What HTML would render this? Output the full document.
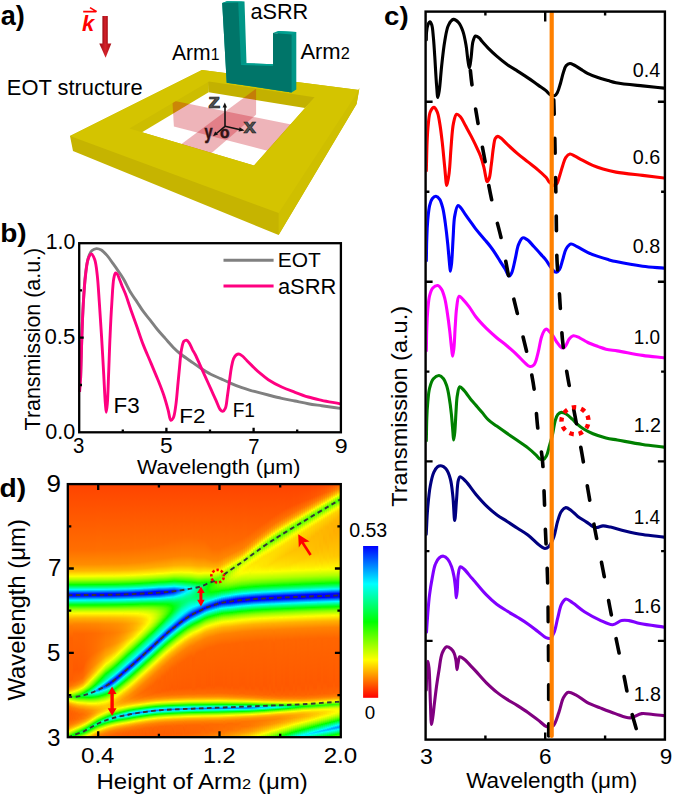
<!DOCTYPE html><html><head><meta charset="utf-8"><style>
html,body{margin:0;padding:0;background:#fff}
body{width:675px;height:796px;position:relative;overflow:hidden}
i{display:block;height:100%;flex:none}
svg{position:absolute;left:0;top:0}
text{font-family:'Liberation Sans',sans-serif}
</style></head><body><div style="position:absolute;left:68px;top:485px;width:273px;height:252px;display:flex"><i style="width:2px;background:linear-gradient(#ff4400 0px,#ff6e00 65px,#ff8d00 79.5px,#ffb800 86px,#fff300 90.5px,#f9ff00 91.5px,#a8ff00 95px,#33ff00 98.5px,#0bff00 99.5px,#00ff0a 100px,#00ffb9 103.5px,#00fff2 104.5px,#00efff 105px,#0004ff 109px,#0002ff 111px,#00efff 115px,#00fff1 115.5px,#00ff36 119px,#00ff07 120px,#38ff00 121.5px,#aeff00 125px,#f8ff00 128px,#ffe900 129.5px,#ffa600 134.5px,#ff7b00 141px,#ff6200 153px,#ff5d00 196px,#ff7300 201.5px,#ff9900 204.5px,#ffd400 207px,#fff600 208px,#f5ff00 208.5px,#73ff00 211.5px,#66ff00 212px,#faff00 215.5px,#ffaa00 218.5px,#ff7b00 221.5px,#ff6000 226px,#ff5e00 234.5px,#ff7900 240px,#ffac00 243.5px,#fdff00 246.5px,#8fff00 249px,#10ff00 251.5px,#0dff00 252px)"></i><i style="width:1px;background:linear-gradient(#ff4400 0px,#ff6e00 65px,#ff8d00 79.5px,#ffb800 86px,#fff300 90.5px,#f9ff00 91.5px,#a7ff00 95px,#33ff00 98.5px,#0bff00 99.5px,#00ff0b 100px,#00ffb9 103.5px,#00fff2 104.5px,#00efff 105px,#0004ff 109px,#0002ff 111px,#00efff 115px,#00fff1 115.5px,#00ff35 119px,#00ff07 120px,#38ff00 121.5px,#aeff00 125px,#f8ff00 128px,#ffe900 129.5px,#ffa600 134.5px,#ff7b00 141px,#ff6200 153px,#ff5e00 195.5px,#ff7500 201px,#ffa300 204.5px,#ffe300 207px,#f7ff00 208px,#5dff00 211.5px,#52ff00 212px,#ffff00 216px,#ffb400 218.5px,#ff8000 221.5px,#ff6200 226px,#ff5f00 234px,#ff7600 239px,#ffa500 242.5px,#ffe500 245px,#f6ff00 246px,#84ff00 248.5px,#04ff00 251px,#05ff00 251.5px,#1cff00 252px)"></i><i style="width:1px;background:linear-gradient(#ff4400 0px,#ff6e00 65px,#ff8d00 79.5px,#ffb800 86px,#fff300 90.5px,#f9ff00 91.5px,#a7ff00 95px,#33ff00 98.5px,#0bff00 99.5px,#00ff0b 100px,#00ffb9 103.5px,#00fff2 104.5px,#00efff 105px,#0004ff 109px,#0002ff 111px,#00f0ff 115px,#00fff1 115.5px,#00ff35 119px,#00ff07 120px,#38ff00 121.5px,#aeff00 125px,#f8ff00 128px,#ffe900 129.5px,#ffa600 134.5px,#ff7b00 141px,#ff6200 153px,#ff5e00 195px,#ff7400 200.5px,#ffa100 204px,#ffde00 206.5px,#feff00 207.5px,#7bff00 210.5px,#4fff00 211.5px,#46ff00 212px,#f6ff00 216px,#ffe500 217px,#ffa400 219.5px,#ff7500 223px,#ff5e00 228.5px,#ff6600 236px,#ff8500 240px,#ffba00 243px,#fff400 245px,#f8ff00 245.5px,#86ff00 248px,#02ff00 250.5px,#00ff06 251px,#10ff00 251.5px,#2aff00 252px)"></i><i style="width:1px;background:linear-gradient(#ff4400 0px,#ff6e00 65px,#ff8d00 79.5px,#ffb800 86px,#fff300 90.5px,#f9ff00 91.5px,#a7ff00 95px,#33ff00 98.5px,#0aff00 99.5px,#00ff0b 100px,#00ffba 103.5px,#00fff2 104.5px,#00eeff 105px,#0004ff 109px,#0002ff 111px,#00f0ff 115px,#00fff1 115.5px,#00ff35 119px,#00ff07 120px,#38ff00 121.5px,#afff00 125px,#f8ff00 128px,#ffe900 129.5px,#ffa600 134.5px,#ff7b00 141px,#ff6200 153px,#ff5d00 194px,#ff7400 200px,#ff9e00 203.5px,#ffd900 206px,#fff900 207px,#dfff00 208px,#40ff00 211.5px,#3aff00 212px,#edff00 216px,#ffff00 216.5px,#ffb500 219px,#ff8300 222px,#ff6400 226.5px,#ff6000 233.5px,#ff7a00 238.5px,#ffa300 241.5px,#ffe100 244px,#faff00 245px,#88ff00 247.5px,#01ff00 250px,#00ff10 250.5px,#03ff00 251px,#38ff00 252px)"></i><i style="width:1px;background:linear-gradient(#ff4400 0px,#ff6e00 65px,#ff8d00 79.5px,#ffb800 86px,#fff300 90.5px,#f9ff00 91.5px,#a7ff00 95px,#33ff00 98.5px,#0aff00 99.5px,#00ff0b 100px,#00ffba 103.5px,#00fff3 104.5px,#00eeff 105px,#0004ff 109px,#0003ff 111px,#00f0ff 115px,#00fff0 115.5px,#00ff35 119px,#00ff06 120px,#4cff00 122px,#bdff00 125.5px,#fffc00 128.5px,#ffb600 133px,#ff8400 139px,#ff6700 148.5px,#ff5a00 185px,#ff6400 196.5px,#ff8100 201px,#ffb000 204px,#fff400 206.5px,#f9ff00 207px,#75ff00 210px,#30ff00 211.5px,#2eff00 212px,#e4ff00 216px,#f7ff00 216.5px,#ffe500 217.5px,#ffa600 220px,#ff7700 223.5px,#ff6000 229px,#ff6800 235.5px,#ff8a00 239.5px,#ffc300 242.5px,#fdff00 244.5px,#8bff00 247px,#01ff00 249.5px,#00ff14 250px,#00ff09 250.5px,#10ff00 251px,#48ff00 252px)"></i><i style="width:1px;background:linear-gradient(#ff4400 0px,#ff6e00 65px,#ff8d00 79.5px,#ffb800 86px,#fff300 90.5px,#f9ff00 91.5px,#a7ff00 95px,#33ff00 98.5px,#0aff00 99.5px,#00ff0b 100px,#00ffba 103.5px,#00fff3 104.5px,#00eeff 105px,#0003ff 109px,#0003ff 111px,#00f0ff 115px,#00fff0 115.5px,#00ff35 119px,#00ff06 120px,#4cff00 122px,#bdff00 125.5px,#fffb00 128.5px,#ffb600 133px,#ff8400 139px,#ff6700 148.5px,#ff5a00 185px,#ff6600 196.5px,#ff8600 201px,#ffb800 204px,#feff00 206.5px,#96ff00 209px,#21ff00 211.5px,#23ff00 212px,#dcff00 216px,#fffd00 217px,#ffb600 219.5px,#ff8400 222.5px,#ff6500 227px,#ff6300 233.5px,#ff7d00 238px,#ffaa00 241px,#ffed00 243.5px,#ffff00 244px,#8eff00 246.5px,#01ff00 249px,#00ff16 249.5px,#00ff15 250px,#03ff00 250.5px,#58ff00 252px)"></i><i style="width:1px;background:linear-gradient(#ff4400 0px,#ff6e00 65px,#ff8d00 79.5px,#ffb800 86px,#fff300 90.5px,#f8ff00 91.5px,#a7ff00 95px,#32ff00 98.5px,#0aff00 99.5px,#00ff0c 100px,#00ffba 103.5px,#00fff3 104.5px,#00eeff 105px,#0003ff 109px,#0003ff 111px,#00f1ff 115px,#00fff0 115.5px,#00ff34 119px,#00ff06 120px,#5fff00 122.5px,#caff00 126px,#fffb00 128.5px,#ffb600 133px,#ff8400 139px,#ff6700 148.5px,#ff5a00 184.5px,#ff6600 196px,#ff8500 200.5px,#ffb600 203.5px,#fffa00 206px,#cbff00 207.5px,#11ff00 211.5px,#18ff00 212px,#d4ff00 216px,#faff00 217px,#ffb000 220px,#ff7d00 223.5px,#ff6300 228.5px,#ff6800 234.5px,#ff8800 238.5px,#ffbf00 241.5px,#fffd00 243.5px,#aaff00 245.5px,#02ff00 248.5px,#00ff17 249px,#00ff21 249.5px,#00ff0a 250px,#11ff00 250.5px,#68ff00 252px)"></i><i style="width:1px;background:linear-gradient(#ff4400 0px,#ff6e00 65px,#ff8d00 79.5px,#ffb800 86px,#fff300 90.5px,#f8ff00 91.5px,#a7ff00 95px,#32ff00 98.5px,#0aff00 99.5px,#00ff0c 100px,#00ffbb 103.5px,#00fff3 104.5px,#00edff 105px,#0003ff 109px,#0003ff 111px,#00f1ff 115px,#00ffef 115.5px,#00ff34 119px,#00ff06 120px,#81ff00 123.5px,#e3ff00 127px,#fffb00 128.5px,#ffb600 133px,#ff8400 139px,#ff6700 148.5px,#ff5a00 184.5px,#ff6700 195.5px,#ff8500 200px,#ffb400 203px,#fff600 205.5px,#f7ff00 206px,#8eff00 208.5px,#13ff00 211px,#01ff00 211.5px,#24ff00 212.5px,#ccff00 216px,#f3ff00 217px,#fff900 217.5px,#ffb500 220px,#ff8000 223.5px,#ff6500 228.5px,#ff6b00 234.5px,#ff8e00 238.5px,#ffbd00 241px,#fffa00 243px,#c5ff00 244.5px,#3eff00 247px,#03ff00 248px,#00ff2b 249px,#04ff00 250px,#79ff00 252px)"></i><i style="width:1px;background:linear-gradient(#ff4400 0px,#ff6e00 65px,#ff8d00 79.5px,#ffb800 86px,#fff400 90.5px,#f8ff00 91.5px,#a6ff00 95px,#32ff00 98.5px,#09ff00 99.5px,#00ff0c 100px,#00ffbb 103.5px,#00fff4 104.5px,#00edff 105px,#0002ff 109px,#0004ff 111px,#00f1ff 115px,#00ffef 115.5px,#00ff34 119px,#00ff06 120px,#91ff00 124px,#eeff00 127.5px,#fffb00 128.5px,#ffb600 133px,#ff8400 139px,#ff6700 148.5px,#ff5a00 184px,#ff6700 195px,#ff8500 199.5px,#ffbd00 203px,#fbff00 205.5px,#95ff00 208px,#01ff00 211px,#00ff0d 211.5px,#05ff00 212px,#c6ff00 216px,#ffff00 217.5px,#ffba00 220px,#ff8300 223.5px,#ff6700 228px,#ff6900 233.5px,#ff8600 237.5px,#ffbc00 240.5px,#fff800 242.5px,#deff00 243.5px,#5eff00 246px,#04ff00 247.5px,#00ff2f 248.5px,#00ff24 249px,#00ff09 249.5px,#32ff00 250.5px,#8aff00 252px)"></i><i style="width:1px;background:linear-gradient(#ff4400 0px,#ff6e00 65px,#ff8d00 79.5px,#ffb800 86px,#fff400 90.5px,#f8ff00 91.5px,#a6ff00 95px,#32ff00 98.5px,#09ff00 99.5px,#00ff23 100.5px,#00ffd7 104px,#00fff4 104.5px,#00edff 105px,#0002ff 109px,#0004ff 111px,#00f2ff 115px,#00ffef 115.5px,#00ff33 119px,#00ff05 120px,#92ff00 124px,#eeff00 127.5px,#fffb00 128.5px,#ffb600 133px,#ff8400 139px,#ff6600 149px,#ff5b00 186px,#ff6b00 195.5px,#ff9100 200px,#ffc800 203px,#fdff00 205px,#99ff00 207.5px,#04ff00 210.5px,#00ff12 211px,#00ff16 211.5px,#00ff02 212px,#c1ff00 216px,#faff00 217.5px,#ffa900 221px,#ff7c00 224.5px,#ff6600 229.5px,#ff7000 234.5px,#ff9300 238px,#ffc700 240.5px,#fff600 242px,#f5ff00 242.5px,#99ff00 244.5px,#06ff00 247px,#00ff31 248px,#00ff30 248.5px,#07ff00 249.5px,#9aff00 252px)"></i><i style="width:1px;background:linear-gradient(#ff4400 0px,#ff6e00 65px,#ff8d00 79.5px,#ffb800 86px,#fff400 90.5px,#f8ff00 91.5px,#a6ff00 95px,#31ff00 98.5px,#09ff00 99.5px,#00ff23 100.5px,#00ffd8 104px,#00fff5 104.5px,#00ecff 105px,#0002ff 109px,#0004ff 111px,#00f2ff 115px,#00ffee 115.5px,#00ff33 119px,#00ff05 120px,#92ff00 124px,#eeff00 127.5px,#fffb00 128.5px,#ffb600 133px,#ff8400 139px,#ff6600 149px,#ff5b00 185.5px,#ff6a00 194.5px,#ff8b00 199px,#ffbc00 202px,#ffff00 204.5px,#9dff00 207px,#06ff00 210px,#00ff25 211px,#00ff1d 211.5px,#00ff07 212px,#2cff00 213px,#beff00 216px,#f7ff00 217.5px,#ffe800 218.5px,#ffa400 221.5px,#ff7a00 225px,#ff6700 230px,#ff7700 235px,#ffa400 238.5px,#ffe300 241px,#f7ff00 242px,#9bff00 244px,#07ff00 246.5px,#00ff32 247.5px,#00ff3b 248px,#00ff05 249px,#abff00 252px)"></i><i style="width:1px;background:linear-gradient(#ff4400 0px,#ff6e00 65px,#ff8d00 79.5px,#ffb800 86px,#fff400 90.5px,#f8ff00 91.5px,#a6ff00 95px,#31ff00 98.5px,#09ff00 99.5px,#00ff24 100.5px,#00ffd8 104px,#00fff5 104.5px,#00ecff 105px,#0002ff 109px,#0005ff 111px,#00f2ff 115px,#00ffee 115.5px,#00ff33 119px,#00ff05 120px,#92ff00 124px,#eeff00 127.5px,#fffb00 128.5px,#ffb600 133px,#ff8400 139px,#ff6600 149px,#ff5b00 185px,#ff6b00 194px,#ff8c00 198.5px,#ffc800 202px,#ffff00 204px,#9eff00 206.5px,#08ff00 209.5px,#00ff28 210.5px,#00ff34 211px,#00ff0a 212px,#10ff00 212.5px,#a6ff00 215.5px,#f4ff00 217.5px,#fff900 218px,#ffaf00 221px,#ff8000 224.5px,#ff6900 229.5px,#ff7400 234px,#ff9a00 237.5px,#ffd200 240px,#f9ff00 241.5px,#9dff00 243.5px,#07ff00 246px,#00ff34 247px,#00ff45 247.5px,#00ff12 248.5px,#0dff00 249px,#a2ff00 251.5px,#bbff00 252px)"></i><i style="width:1px;background:linear-gradient(#ff4400 0px,#ff6e00 65px,#ff8d00 79.5px,#ffb800 86px,#fff400 90.5px,#f8ff00 91.5px,#a6ff00 95px,#31ff00 98.5px,#08ff00 99.5px,#00ff24 100.5px,#00ffd9 104px,#00fff5 104.5px,#00ebff 105px,#0001ff 109px,#0005ff 111px,#00f3ff 115px,#00ffee 115.5px,#00ff32 119px,#00ff04 120px,#92ff00 124px,#efff00 127.5px,#fffb00 128.5px,#ffb600 133px,#ff8400 139px,#ff6600 149px,#ff5b00 184px,#ff6b00 193.5px,#ff8e00 198px,#ffc900 201.5px,#ffff00 203.5px,#9fff00 206px,#09ff00 209px,#00ff2a 210px,#00ff3e 210.5px,#00ff3a 211px,#00ff0c 212px,#0fff00 212.5px,#a5ff00 215.5px,#f3ff00 217.5px,#fffb00 218px,#ffb100 221px,#ff8200 224.5px,#ff6b00 229px,#ff7400 233.5px,#ff9900 237px,#ffd100 239.5px,#faff00 241px,#9fff00 243px,#08ff00 245.5px,#00ff35 246.5px,#00ff4c 247px,#00ff3a 247.5px,#02ff00 248.5px,#9aff00 251px,#ccff00 252px)"></i><i style="width:1px;background:linear-gradient(#ff4400 0px,#ff6e00 65px,#ff8d00 79.5px,#ffb800 86px,#fff400 90.5px,#f8ff00 91.5px,#a5ff00 95px,#31ff00 98.5px,#08ff00 99.5px,#00ff24 100.5px,#00ffd9 104px,#00fff6 104.5px,#00cdff 105.5px,#0001ff 109px,#0005ff 111px,#00f3ff 115px,#00ffed 115.5px,#00ff32 119px,#00ff04 120px,#93ff00 124px,#efff00 127.5px,#fffb00 128.5px,#ffb500 133px,#ff8400 139px,#ff6600 149px,#ff5c00 183.5px,#ff6c00 193px,#ff8f00 197.5px,#ffca00 201px,#feff00 203px,#9fff00 205.5px,#09ff00 208.5px,#00ff2b 209.5px,#00ff50 210.5px,#00ff0c 212px,#0fff00 212.5px,#a4ff00 215.5px,#f2ff00 217.5px,#fffc00 218px,#ffb200 221px,#ff8300 224.5px,#ff6d00 229px,#ff7800 233.5px,#ffa200 237px,#ffe000 239.5px,#fbff00 240.5px,#a0ff00 242.5px,#08ff00 245px,#00ff37 246px,#00ff50 246.5px,#00ff45 247px,#00ff09 248px,#37ff00 249px,#c5ff00 251.5px,#dcff00 252px)"></i><i style="width:1px;background:linear-gradient(#ff4400 0px,#ff6e00 65px,#ff8d00 79.5px,#ffb800 86px,#fff400 90.5px,#f7ff00 91.5px,#a5ff00 95px,#30ff00 98.5px,#08ff00 99.5px,#00ff25 100.5px,#00ffd9 104px,#00fff6 104.5px,#00cdff 105.5px,#0000ff 109px,#0006ff 111px,#00f4ff 115px,#00ffed 115.5px,#00ff32 119px,#00ff04 120px,#93ff00 124px,#efff00 127.5px,#fffa00 128.5px,#ffb500 133px,#ff8400 139px,#ff6600 149px,#ff5d00 182px,#ff6e00 192px,#ff9500 197px,#ffd000 200.5px,#f9ff00 202.5px,#9cff00 205px,#05ff00 208px,#00ff5d 210px,#00ff58 210.5px,#00ff0e 212px,#0dff00 212.5px,#a3ff00 215.5px,#fffe00 218px,#ffb500 221px,#ff8500 224.5px,#ff6f00 229px,#ff7c00 233.5px,#ffa200 236.5px,#ffdf00 239px,#fcff00 240px,#a0ff00 242px,#08ff00 244.5px,#00ff38 245.5px,#00ff53 246px,#00ff4e 246.5px,#00ff13 247.5px,#0eff00 248px,#a6ff00 250.5px,#ecff00 252px)"></i><i style="width:1px;background:linear-gradient(#ff4400 0px,#ff6e00 65px,#ff8d00 79.5px,#ffb800 86px,#fff400 90.5px,#f7ff00 91.5px,#a5ff00 95px,#30ff00 98.5px,#07ff00 99.5px,#00ff25 100.5px,#00ffda 104px,#00fff7 104.5px,#00ccff 105.5px,#0000ff 109px,#0006ff 111px,#00f4ff 115px,#00ffec 115.5px,#00ff31 119px,#00ff03 120px,#93ff00 124px,#efff00 127.5px,#fffa00 128.5px,#ffb500 133px,#ff8400 139px,#ff6600 149px,#ff5f00 179.5px,#ff7000 190.5px,#ff9200 195.5px,#ffcf00 199.5px,#ffff00 201.5px,#aaff00 204px,#35ff00 206.5px,#00ff01 207.5px,#00ff69 209.5px,#00ff74 210px,#00ff12 212px,#0aff00 212.5px,#a0ff00 215.5px,#fcff00 218px,#ffaf00 221.5px,#ff8300 225px,#ff7200 229.5px,#ff8200 233.5px,#ffac00 236.5px,#ffef00 239px,#fcff00 239.5px,#a1ff00 241.5px,#07ff00 244px,#00ff55 245.5px,#00ff56 246px,#06ff00 247.5px,#a0ff00 250px,#fcff00 252px)"></i><i style="width:1px;background:linear-gradient(#ff4400 0px,#ff6e00 65px,#ff8d00 79.5px,#ffb900 86px,#fff500 90.5px,#f7ff00 91.5px,#a5ff00 95px,#30ff00 98.5px,#07ff00 99.5px,#00ff25 100.5px,#00ffda 104px,#00fff7 104.5px,#00ccff 105.5px,#0000ff 109px,#0007ff 111px,#00f5ff 115px,#00ffec 115.5px,#00ff31 119px,#00ff03 120px,#83ff00 123.5px,#e4ff00 127px,#fffa00 128.5px,#ffb500 133px,#ff8400 139px,#ff6800 148.5px,#ff6100 176px,#ff7200 189px,#ff9500 194.5px,#ffd000 198.5px,#fffc00 200.5px,#c7ff00 202.5px,#61ff00 205px,#14ff00 206.5px,#00ff08 207px,#00ff73 209px,#00ff87 209.5px,#00ff7e 210px,#00ff15 212px,#07ff00 212.5px,#9dff00 215.5px,#f9ff00 218px,#ffa900 222px,#ff7f00 226px,#ff7600 230.5px,#ff8d00 234px,#ffb700 236.5px,#fcff00 239px,#a0ff00 241px,#05ff00 243.5px,#00ff59 245px,#00ff5d 245.5px,#00ff01 247px,#9bff00 249.5px,#f9ff00 251.5px,#fff200 252px)"></i><i style="width:1px;background:linear-gradient(#ff4400 0px,#ff6e00 65px,#ff8d00 79.5px,#ffb900 86px,#fff500 90.5px,#f7ff00 91.5px,#a5ff00 95px,#2fff00 98.5px,#07ff00 99.5px,#00ff26 100.5px,#00ffdb 104px,#00fff8 104.5px,#00cbff 105.5px,#0000ff 109px,#0000ff 110.5px,#0007ff 111px,#00f5ff 115px,#00ffcf 116px,#00ff19 119.5px,#00ff03 120px,#83ff00 123.5px,#e4ff00 127px,#fffa00 128.5px,#ffb600 133px,#ff8500 139px,#ff6800 148.5px,#ff6200 174.5px,#ff7500 188px,#ff9800 193.5px,#ffd000 197.5px,#fffa00 199.5px,#ddff00 201px,#87ff00 203.5px,#0dff00 206px,#00ff0e 206.5px,#00ff94 209px,#00ff9a 209.5px,#00ff34 211.5px,#04ff00 212.5px,#9aff00 215.5px,#f7ff00 218px,#ffeb00 219px,#ffac00 222px,#ff8100 226px,#ff7a00 230.5px,#ff9500 234px,#ffc500 236.5px,#faff00 238.5px,#9dff00 240.5px,#01ff00 243px,#00ff5e 244.5px,#00ff63 245px,#00ff05 246.5px,#b3ff00 249.5px,#f8ff00 251px,#ffe200 252px)"></i><i style="width:1px;background:linear-gradient(#ff4400 0px,#ff6e00 65px,#ff8d00 79.5px,#ffb900 86px,#fff500 90.5px,#f7ff00 91.5px,#a4ff00 95px,#2fff00 98.5px,#06ff00 99.5px,#00ff3e 101px,#00fff8 104.5px,#00adff 106px,#0000ff 109px,#0000ff 110.5px,#0007ff 111px,#00f6ff 115px,#00ffce 116px,#00ff19 119.5px,#00ff02 120px,#84ff00 123.5px,#e4ff00 127px,#fffa00 128.5px,#ffb600 133px,#ff8500 139px,#ff6800 148.5px,#ff6400 173.5px,#ff7900 187px,#ff9b00 192.5px,#ffd200 196.5px,#f9ff00 199px,#a4ff00 202px,#3aff00 204.5px,#06ff00 205.5px,#00ff4e 207px,#00ff9f 208.5px,#00ffb2 209px,#00ff8b 210px,#03ff00 212.5px,#82ff00 215px,#e4ff00 217.5px,#fffb00 218.5px,#ffb700 221.5px,#ff8b00 225px,#ff7b00 229px,#ff8b00 232.5px,#ffbb00 235.5px,#fff500 237.5px,#f7ff00 238px,#98ff00 240px,#00ff06 242.5px,#00ff65 244px,#00ff67 244.5px,#00ff08 246px,#3cff00 247px,#b2ff00 249px,#f7ff00 250.5px,#ffe200 251.5px,#ffd300 252px)"></i><i style="width:1px;background:linear-gradient(#ff4400 0px,#ff6e00 65px,#ff8d00 79.5px,#ffb900 86px,#fff500 90.5px,#f7ff00 91.5px,#a4ff00 95px,#2fff00 98.5px,#06ff00 99.5px,#00ff3e 101px,#00fff9 104.5px,#00acff 106px,#0000ff 109px,#0000ff 110.5px,#0008ff 111px,#00f6ff 115px,#00ffce 116px,#00ff19 119.5px,#00ff02 120px,#84ff00 123.5px,#e4ff00 127px,#fffa00 128.5px,#ffb600 133px,#ff8500 139px,#ff6900 148.5px,#ff6600 172.5px,#ff7c00 186px,#ffa300 192px,#ffdc00 196px,#f9ff00 198px,#abff00 201px,#4aff00 203.5px,#00ff02 205px,#00ffaa 208px,#00ffc0 208.5px,#00ffbf 209px,#00ff54 211px,#02ff00 212.5px,#81ff00 215px,#e2ff00 217.5px,#fffd00 218.5px,#ffb900 221.5px,#ff8d00 225px,#ff7f00 229px,#ff9400 232.5px,#ffbe00 235px,#fff900 237px,#ddff00 238px,#76ff00 240px,#15ff00 241.5px,#00ff0d 242px,#00ff6d 243.5px,#00ff6a 244px,#00ff09 245.5px,#3bff00 246.5px,#b2ff00 248.5px,#f7ff00 250px,#ffe200 251px,#ffc400 252px)"></i><i style="width:1px;background:linear-gradient(#ff4400 0px,#ff6e00 65px,#ff8d00 79.5px,#ffb900 86px,#fff500 90.5px,#f6ff00 91.5px,#a4ff00 95px,#2eff00 98.5px,#05ff00 99.5px,#00ff3e 101px,#00fff9 104.5px,#008dff 106.5px,#0000ff 109px,#0000ff 110.5px,#0008ff 111px,#00f7ff 115px,#00ffcd 116px,#00ff18 119.5px,#00ff02 120px,#84ff00 123.5px,#e4ff00 127px,#fffa00 128.5px,#ffb600 133px,#ff8500 139px,#ff6900 148.5px,#ff6700 171.5px,#ff7f00 185px,#ffa500 191px,#ffdd00 195px,#fffb00 196.5px,#aeff00 200px,#57ff00 202.5px,#10ff00 204px,#00ff0b 204.5px,#00ffcd 208px,#00ffd9 208.5px,#00ff8e 210px,#03ff00 212.5px,#81ff00 215px,#e1ff00 217.5px,#ffff00 218.5px,#ffbb00 221.5px,#ff9000 225px,#ff8400 229px,#ff9700 232px,#ffc200 234.5px,#fffd00 236.5px,#a7ff00 238.5px,#2eff00 240.5px,#0cff00 241px,#00ff17 241.5px,#00ff75 243px,#00ff6c 243.5px,#00ff09 245px,#3cff00 246px,#b4ff00 248px,#f8ff00 249.5px,#ffc300 251.5px,#ffb700 252px)"></i><i style="width:1px;background:linear-gradient(#ff4400 0px,#ff6e00 65px,#ff8e00 79.5px,#ffb900 86px,#fff500 90.5px,#f6ff00 91.5px,#a3ff00 95px,#2eff00 98.5px,#05ff00 99.5px,#00ff3f 101px,#00fffa 104.5px,#0017ff 108.5px,#0000ff 109px,#0000ff 110.5px,#0009ff 111px,#00f7ff 115px,#00ffcd 116px,#00ff18 119.5px,#00ff01 120px,#84ff00 123.5px,#e4ff00 127px,#fffa00 128.5px,#ffb600 133px,#ff8500 139px,#ff6a00 148.5px,#ff6900 170.5px,#ff7f00 183.5px,#ffa300 189.5px,#ffd600 193.5px,#fffc00 195.5px,#a1ff00 199.5px,#4cff00 202px,#06ff00 203.5px,#00ff30 204.5px,#00ffdb 207.5px,#00ffee 208px,#00ffc6 209px,#00ff17 212px,#05ff00 212.5px,#82ff00 215px,#e1ff00 217.5px,#ffff00 218.5px,#ffbd00 221.5px,#ff9300 225px,#ff8800 228.5px,#ff9a00 231.5px,#ffc600 234px,#fbff00 236px,#a0ff00 238px,#25ff00 240px,#03ff00 240.5px,#00ff64 242px,#00ff7e 242.5px,#00ff6d 243px,#00ff08 244.5px,#3eff00 245.5px,#b5ff00 247.5px,#faff00 249px,#ffaa00 252px)"></i><i style="width:1px;background:linear-gradient(#ff4400 0px,#ff6e00 65px,#ff8e00 79.5px,#ffb900 86px,#fff600 90.5px,#f6ff00 91.5px,#a3ff00 95px,#2eff00 98.5px,#05ff00 99.5px,#00ff58 101.5px,#00fffa 104.5px,#0017ff 108.5px,#0000ff 109px,#0000ff 110.5px,#0009ff 111px,#00f8ff 115px,#00ffb0 116.5px,#00ff18 119.5px,#00ff01 120px,#84ff00 123.5px,#e5ff00 127px,#fffa00 128.5px,#ffb600 133px,#ff8600 139px,#ff6a00 148.5px,#ff6a00 169.5px,#ff8200 182.5px,#ffab00 189px,#ffe000 193px,#fffd00 194.5px,#85ff00 199.5px,#2bff00 202px,#00ff05 203px,#00ffe8 207px,#00fffe 207.5px,#00fff9 208px,#00ff8b 210px,#00ff14 212px,#08ff00 212.5px,#83ff00 215px,#e1ff00 217.5px,#feff00 218.5px,#ffb600 222px,#ff9200 225.5px,#ff8f00 229px,#ffac00 232px,#ffe600 234.5px,#f6ff00 235.5px,#99ff00 237.5px,#1bff00 239.5px,#00ff08 240px,#00ff6f 241.5px,#00ff86 242px,#00ff4d 243px,#00ff06 244px,#9cff00 246.5px,#fcff00 248.5px,#ffb400 251px,#ff9f00 252px)"></i><i style="width:1px;background:linear-gradient(#ff4400 0px,#ff6e00 65px,#ff8e00 79.5px,#ffb900 86px,#fff600 90.5px,#f6ff00 91.5px,#a3ff00 95px,#2dff00 98.5px,#04ff00 99.5px,#00ff58 101.5px,#00fffb 104.5px,#0016ff 108.5px,#0000ff 109px,#0000ff 110.5px,#000aff 111px,#00f8ff 115px,#00ffb0 116.5px,#00ff17 119.5px,#00ff01 120px,#85ff00 123.5px,#e5ff00 127px,#fffa00 128.5px,#ffb600 133px,#ff8600 139px,#ff6b00 148.5px,#ff6c00 169px,#ff8600 182px,#ffad00 188px,#ffeb00 192.5px,#fffe00 193.5px,#77ff00 199px,#1eff00 201.5px,#07ff00 202px,#00ff2c 203px,#00fff7 206.5px,#00f0ff 207px,#00ecff 207.5px,#00fffb 208px,#00ff10 212px,#0cff00 212.5px,#85ff00 215px,#e1ff00 217.5px,#feff00 218.5px,#ffb800 222px,#ff9500 225.5px,#ff9600 229px,#ffb900 232px,#fffc00 234.5px,#c4ff00 236px,#55ff00 238px,#11ff00 239px,#00ff12 239.5px,#00ff79 241px,#00ff89 241.5px,#00ff4c 242.5px,#00ff04 243.5px,#9fff00 246px,#fdff00 248px,#ffb300 250.5px,#ff9500 252px)"></i><i style="width:1px;background:linear-gradient(#ff4400 0px,#ff6e00 65px,#ff8e00 79.5px,#ffb900 86px,#fff600 90.5px,#f6ff00 91.5px,#a3ff00 95px,#2dff00 98.5px,#04ff00 99.5px,#00ff72 102px,#00fffc 104.5px,#0016ff 108.5px,#0000ff 109px,#0000ff 110.5px,#000aff 111px,#00f9ff 115px,#00ff94 117px,#00ff00 120px,#85ff00 123.5px,#e5ff00 127px,#fffa00 128.5px,#ffb600 133px,#ff8600 139px,#ff6b00 148.5px,#ff6d00 168.5px,#ff8900 181px,#ffb500 187.5px,#ffec00 191.5px,#feff00 192.5px,#5aff00 199px,#00ff06 201.5px,#00ff8f 204px,#00ffe9 205.5px,#00f9ff 206px,#00e0ff 206.5px,#00d5ff 207px,#00fffa 208px,#00ff0a 212px,#11ff00 212.5px,#88ff00 215px,#f1ff00 218px,#feff00 218.5px,#ffb900 222px,#ff9900 225.5px,#ff9d00 229px,#ffbd00 231.5px,#fdff00 234px,#a4ff00 236px,#2aff00 238px,#07ff00 238.5px,#00ff64 240px,#00ff83 240.5px,#00ff8b 241px,#00ff27 242.5px,#00ff03 243px,#a0ff00 245.5px,#ffff00 247.5px,#ffb200 250px,#ff8d00 252px)"></i><i style="width:1px;background:linear-gradient(#ff4400 0px,#ff6e00 65px,#ff8e00 79.5px,#ffb900 86px,#fff600 90.5px,#f5ff00 91.5px,#a2ff00 95px,#2cff00 98.5px,#03ff00 99.5px,#00ff72 102px,#00fffc 104.5px,#0015ff 108.5px,#0000ff 109px,#0000ff 110.5px,#000bff 111px,#00f9ff 115px,#00ff46 118.5px,#00ff00 120px,#85ff00 123.5px,#e5ff00 127px,#fffa00 128.5px,#ffb600 133px,#ff8600 139px,#ff6c00 148.5px,#ff6f00 167.5px,#ff8b00 180px,#ffb700 186.5px,#fff700 191px,#f2ff00 192px,#3bff00 199px,#02ff00 200.5px,#00ff62 202.5px,#00fff8 205px,#00beff 206.5px,#00ecff 207.5px,#00fff5 208px,#00ff04 212px,#8bff00 215px,#f1ff00 218px,#ffff00 218.5px,#ffc200 221.5px,#ff9f00 225px,#ff9e00 228px,#ffb900 230.5px,#fff500 233px,#f7ff00 233.5px,#9dff00 235.5px,#00ff02 238px,#00ff8c 240px,#00ff8e 240.5px,#00ff02 242.5px,#a2ff00 245px,#fffe00 247px,#ffb100 249.5px,#ff8600 252px)"></i><i style="width:1px;background:linear-gradient(#ff4400 0px,#ff6e00 65px,#ff8e00 79.5px,#ffba00 86px,#fff600 90.5px,#f5ff00 91.5px,#a2ff00 95px,#2cff00 98.5px,#03ff00 99.5px,#00ff73 102px,#00fffd 104.5px,#0014ff 108.5px,#0000ff 109px,#0000ff 110.5px,#000bff 111px,#00faff 115px,#00ff2d 119px,#00ff00 120px,#85ff00 123.5px,#e5ff00 127px,#fffa00 128.5px,#ffb600 133px,#ff8600 139px,#ff6c00 148.5px,#ff7000 167px,#ff8d00 179px,#ffba00 185.5px,#fbff00 190.5px,#8cff00 195px,#1aff00 199px,#07ff00 199.5px,#00ff23 200.5px,#00ffac 203px,#00ffea 204px,#00f6ff 204.5px,#00beff 205.5px,#00aaff 206px,#00d4ff 207px,#00f1ff 207.5px,#00ffee 208px,#00ff19 211.5px,#02ff00 212px,#7aff00 214.5px,#e5ff00 217.5px,#fffe00 218.5px,#ffc300 221.5px,#ffa200 225px,#ffa600 228px,#ffc600 230.5px,#fffa00 232.5px,#dfff00 233.5px,#7bff00 235.5px,#19ff00 237px,#00ff0b 237.5px,#00ff95 239.5px,#00ff91 240px,#00ff02 242px,#a2ff00 244.5px,#fffd00 246.5px,#ffb100 249px,#ff7f00 252px)"></i><i style="width:1px;background:linear-gradient(#ff4400 0px,#ff6f00 65px,#ff8e00 79.5px,#ffba00 86px,#ffff00 91px,#a2ff00 95px,#2bff00 98.5px,#02ff00 99.5px,#00ff8e 102.5px,#00fffd 104.5px,#0014ff 108.5px,#0000ff 109px,#0000ff 110.5px,#000cff 111px,#00faff 115px,#00ff2d 119px,#01ff00 120px,#86ff00 123.5px,#e5ff00 127px,#fffa00 128.5px,#ffb600 133px,#ff8700 139px,#ff6d00 148.5px,#ff7200 166.5px,#ff9200 178.5px,#ffc200 185px,#faff00 189.5px,#98ff00 193.5px,#09ff00 198.5px,#00ff09 199px,#00ff65 201px,#00fffa 203.5px,#0098ff 205.5px,#00a4ff 206px,#00f9ff 207.5px,#00ff87 209.5px,#00ff11 211.5px,#0aff00 212px,#7fff00 214.5px,#e7ff00 217.5px,#fffd00 218.5px,#ffc400 221.5px,#ffa600 225px,#ffae00 228px,#ffd500 230.5px,#fffe00 232px,#acff00 234px,#35ff00 236px,#12ff00 236.5px,#00ff12 237px,#00ff9c 239px,#00ff95 239.5px,#00ff04 241.5px,#a1ff00 244px,#fffe00 246px,#ffb100 248.5px,#ff7f00 251.5px,#ff7a00 252px)"></i><i style="width:1px;background:linear-gradient(#ff4400 0px,#ff6f00 65px,#ff8e00 79.5px,#ffba00 86px,#feff00 91px,#a1ff00 95px,#2bff00 98.5px,#02ff00 99.5px,#00ff8e 102.5px,#00fffe 104.5px,#0013ff 108.5px,#0000ff 109px,#0000ff 110.5px,#000cff 111px,#00fbff 115px,#00ff2c 119px,#01ff00 120px,#86ff00 123.5px,#e5ff00 127px,#fffa00 128.5px,#ffb600 133px,#ff8700 139px,#ff6e00 148.5px,#ff7400 166px,#ff9400 177.5px,#ffc400 184px,#fffd00 188px,#c0ff00 191px,#09ff00 197.5px,#00ff08 198px,#00ff5c 200px,#00ffec 202.5px,#00f3ff 203px,#009bff 204.5px,#0085ff 205px,#008eff 205.5px,#00fffc 207.5px,#00ff24 211px,#00ff09 211.5px,#2bff00 212.5px,#98ff00 215px,#f6ff00 218px,#fff000 219px,#ffb900 222.5px,#ffaa00 225.5px,#ffb700 228px,#ffe400 230.5px,#fcff00 231.5px,#a8ff00 233.5px,#31ff00 235.5px,#0eff00 236px,#00ff17 236.5px,#00ff85 238px,#00ffa3 238.5px,#00ff9a 239px,#00ff08 241px,#41ff00 242px,#baff00 244px,#ffff00 245.5px,#ffb200 248px,#ff8000 251px,#ff7600 252px)"></i><i style="width:1px;background:linear-gradient(#ff4400 0px,#ff6f00 65px,#ff8e00 79.5px,#ffba00 86px,#feff00 91px,#a1ff00 95px,#2bff00 98.5px,#01ff00 99.5px,#00ff8f 102.5px,#00ffff 104.5px,#0013ff 108.5px,#0000ff 109px,#0000ff 110.5px,#000dff 111px,#00fbff 115px,#00ff2c 119px,#02ff00 120px,#86ff00 123.5px,#e5ff00 127px,#fffa00 128.5px,#ffb600 133px,#ff8700 139px,#ff6e00 148.5px,#ff7600 165.5px,#ff9600 176.5px,#ffc600 183px,#fffe00 187px,#b2ff00 190.5px,#07ff00 196.5px,#00ff18 197.5px,#00ff6b 199.5px,#00fffb 202px,#008bff 204px,#0075ff 204.5px,#007cff 205px,#00f0ff 207px,#00ffee 207.5px,#00ff19 211px,#02ff00 211.5px,#77ff00 214px,#deff00 217px,#fffa00 218.5px,#ffc500 221.5px,#ffaf00 224.5px,#ffba00 227.5px,#ffe600 230px,#faff00 231px,#a6ff00 233px,#2eff00 235px,#0bff00 235.5px,#00ff19 236px,#00ffa7 238px,#00ffa2 238.5px,#00ff0e 240.5px,#17ff00 241px,#9bff00 243px,#fcff00 245px,#ffb300 247.5px,#ff8000 250.5px,#ff7200 252px)"></i><i style="width:1px;background:linear-gradient(#ff4400 0px,#ff6f00 65px,#ff8e00 79.5px,#ffba00 86px,#feff00 91px,#a1ff00 95px,#2aff00 98.5px,#01ff00 99.5px,#00ff90 102.5px,#00feff 104.5px,#0012ff 108.5px,#0000ff 109px,#0000ff 110.5px,#000dff 111px,#00fcff 115px,#00ff2c 119px,#02ff00 120px,#86ff00 123.5px,#e5ff00 127px,#fffa00 128.5px,#ffb700 133px,#ff8800 139px,#ff6f00 148.5px,#ff7700 165px,#ff9a00 176px,#ffce00 182.5px,#feff00 186px,#b2ff00 189.5px,#06ff00 195.5px,#00ff16 196.5px,#00ff60 198.5px,#00ffca 200.5px,#00f7ff 201.5px,#0080ff 203.5px,#006aff 204px,#0071ff 204.5px,#00fffa 207px,#00ff25 210.5px,#00ff0a 211px,#10ff00 211.5px,#80ff00 214px,#e3ff00 217px,#fdff00 218px,#ffc500 221.5px,#ffb200 224.5px,#ffbc00 227px,#ffe800 229.5px,#f9ff00 230.5px,#a6ff00 232.5px,#2fff00 234.5px,#0bff00 235px,#00ff19 235.5px,#00ffa9 237.5px,#00ffab 238px,#00ff18 240px,#0eff00 240.5px,#95ff00 242.5px,#f8ff00 244.5px,#ffd100 246px,#ff9700 248.5px,#ff6f00 252px)"></i><i style="width:1px;background:linear-gradient(#ff4400 0px,#ff6f00 65px,#ff8e00 79.5px,#ffba00 86px,#feff00 91px,#a0ff00 95px,#2aff00 98.5px,#00ff00 99.5px,#00ff90 102.5px,#00feff 104.5px,#0011ff 108.5px,#0000ff 109px,#0000ff 110.5px,#000eff 111px,#00fdff 115px,#00ff2b 119px,#02ff00 120px,#87ff00 123.5px,#e5ff00 127px,#fffa00 128.5px,#ffb700 133px,#ff8800 139px,#ff7000 148.5px,#ff7900 164.5px,#ff9c00 175px,#ffcf00 181.5px,#fdff00 185px,#b2ff00 188.5px,#04ff00 194.5px,#00ff34 196.5px,#00ff85 198.5px,#00fff4 200.5px,#00ebff 201px,#0075ff 203px,#005fff 203.5px,#0066ff 204px,#00d8ff 206px,#00f8ff 206.5px,#00ffa7 208px,#00ff16 210.5px,#04ff00 211px,#89ff00 214px,#e9ff00 217px,#fffd00 218px,#ffca00 221px,#ffb500 224px,#ffbe00 226.5px,#ffe800 229px,#f9ff00 230px,#a7ff00 232px,#30ff00 234px,#0dff00 234.5px,#00ff18 235px,#00ffab 237px,#00ffb5 237.5px,#00ff4a 239px,#04ff00 240px,#8dff00 242px,#f3ff00 244px,#fff700 244.5px,#ffad00 247px,#ff7d00 250px,#ff6d00 252px)"></i><i style="width:1px;background:linear-gradient(#ff4400 0px,#ff6f00 65px,#ff8e00 79.5px,#ffba00 86px,#fdff00 91px,#a0ff00 95px,#29ff00 98.5px,#00ff00 99.5px,#00ff91 102.5px,#00fdff 104.5px,#0011ff 108.5px,#0000ff 109px,#0000ff 110.5px,#000eff 111px,#00fdff 115px,#00ff43 118.5px,#03ff00 120px,#87ff00 123.5px,#e5ff00 127px,#fffa00 128.5px,#ffb700 133px,#ff8900 139px,#ff7100 148.5px,#ff7b00 164px,#ffa000 174.5px,#ffd100 180.5px,#fcff00 184px,#a5ff00 188px,#01ff00 193.5px,#00ff53 196.5px,#00ffab 198.5px,#00fdff 200px,#0069ff 202.5px,#0053ff 203px,#005bff 203.5px,#00cdff 205.5px,#00edff 206px,#00fff1 206.5px,#00ff21 210px,#00ff06 210.5px,#58ff00 212.5px,#c5ff00 215.5px,#f9ff00 217.5px,#ffc400 221.5px,#ffb900 224.5px,#ffcc00 227px,#f9ff00 229.5px,#a8ff00 231.5px,#32ff00 233.5px,#0fff00 234px,#00ff16 234.5px,#00ffab 236.5px,#00ffbf 237px,#00ff7d 238px,#00ff06 239.5px,#85ff00 241.5px,#eeff00 243.5px,#fffc00 244px,#ffaf00 246.5px,#ff7e00 249.5px,#ff6b00 252px)"></i><i style="width:1px;background:linear-gradient(#ff4400 0px,#ff6e00 64.5px,#ff8c00 79px,#ffb600 85.5px,#ffef00 90px,#fdff00 91px,#a0ff00 95px,#29ff00 98.5px,#00ff01 99.5px,#00ff92 102.5px,#00fcff 104.5px,#0010ff 108.5px,#0000ff 109px,#0000ff 110.5px,#000fff 111px,#00feff 115px,#00ff42 118.5px,#03ff00 120px,#87ff00 123.5px,#e5ff00 127px,#fffa00 128.5px,#ffb700 133px,#ff8900 139px,#ff7200 148.5px,#ff7d00 163.5px,#ffa200 173.5px,#ffd900 180px,#faff00 183px,#a5ff00 187px,#00ff02 192.5px,#00ff62 196px,#00ffb9 198px,#00fff1 199px,#00f0ff 199.5px,#005dff 202px,#0047ff 202.5px,#0051ff 203px,#00c3ff 205px,#00fffb 206px,#00ff2b 209.5px,#09ff00 210.5px,#8aff00 213.5px,#e6ff00 216.5px,#feff00 217.5px,#ffc900 221px,#ffbb00 224px,#ffcd00 226.5px,#faff00 229px,#aaff00 231px,#35ff00 233px,#12ff00 233.5px,#00ff13 234px,#00ffaa 236px,#00ffc6 236.5px,#00ffae 237px,#00ff12 239px,#14ff00 239.5px,#9bff00 241.5px,#fdff00 243.5px,#ffb200 246px,#ff8000 249px,#ff6900 252px)"></i><i style="width:1px;background:linear-gradient(#ff4400 0px,#ff6e00 64.5px,#ff8c00 79px,#ffb600 85.5px,#ffef00 90px,#fdff00 91px,#9fff00 95px,#28ff00 98.5px,#00ff01 99.5px,#00ff92 102.5px,#00fcff 104.5px,#000fff 108.5px,#0000ff 109px,#0000ff 110.5px,#0010ff 111px,#00ffff 115px,#00ff42 118.5px,#03ff00 120px,#87ff00 123.5px,#e6ff00 127px,#fffa00 128.5px,#ffb700 133px,#ff8a00 139px,#ff7300 148.5px,#ff7f00 163px,#ffa600 173px,#ffdb00 179px,#fffd00 181.5px,#bdff00 185px,#5bff00 188.5px,#09ff00 191px,#00ff13 192px,#00ff71 195.5px,#00ffc8 197.5px,#00ffff 198.5px,#0050ff 201.5px,#003bff 202px,#0048ff 202.5px,#00baff 204.5px,#00f9ff 205.5px,#00ff1a 209.5px,#00ff01 210px,#81ff00 213px,#dfff00 216px,#fffc00 217.5px,#ffc900 221px,#ffbf00 224px,#ffd600 226.5px,#faff00 228.5px,#acff00 230.5px,#38ff00 232.5px,#16ff00 233px,#00ff0f 233.5px,#00ffa9 235.5px,#00ffc7 236px,#00ffbb 236.5px,#00ff1f 238.5px,#08ff00 239px,#92ff00 241px,#f7ff00 243px,#ffe100 244px,#ffa000 246.5px,#ff7300 250px,#ff6700 252px)"></i><i style="width:1px;background:linear-gradient(#ff4400 0px,#ff6e00 64.5px,#ff8c00 79px,#ffb600 85.5px,#fff000 90px,#fdff00 91px,#adff00 94.5px,#3bff00 98px,#00ff02 99.5px,#00ff93 102.5px,#00fbff 104.5px,#000eff 108.5px,#0000ff 109px,#0000ff 110.5px,#0010ff 111px,#00ffff 115px,#00ff41 118.5px,#04ff00 120px,#87ff00 123.5px,#e6ff00 127px,#fffa00 128.5px,#ffb800 133px,#ff8a00 139px,#ff7400 148px,#ff8000 162px,#ffa800 172px,#ffdc00 178px,#ffff00 180.5px,#b1ff00 184.5px,#4bff00 188px,#08ff00 190px,#00ff17 191px,#00ff80 195px,#00ffd6 197px,#00fff1 197.5px,#00f0ff 198px,#0042ff 201px,#002fff 201.5px,#0058ff 202.5px,#00f1ff 205px,#00ffee 205.5px,#00ff23 209px,#00ff0a 209.5px,#26ff00 210.5px,#9dff00 213.5px,#f1ff00 216.5px,#fff800 217.5px,#ffcd00 220.5px,#ffc100 223.5px,#ffd600 226px,#fbff00 228px,#afff00 230px,#3dff00 232px,#1aff00 232.5px,#00ff0b 233px,#00ffc7 235.5px,#00ffc8 236px,#00ff05 238.5px,#a6ff00 241px,#f0ff00 242.5px,#fff900 243px,#ffae00 245.5px,#ff7e00 248.5px,#ff6500 252px)"></i><i style="width:1px;background:linear-gradient(#ff4400 0px,#ff6e00 64.5px,#ff8c00 79px,#ffb600 85.5px,#fff000 90px,#fcff00 91px,#acff00 94.5px,#3bff00 98px,#00ff02 99.5px,#00ff94 102.5px,#00faff 104.5px,#000eff 108.5px,#0000ff 109px,#0000ff 110.5px,#0011ff 111px,#00fffe 115px,#00ff41 118.5px,#04ff00 120px,#88ff00 123.5px,#e6ff00 127px,#fffa00 128.5px,#ffb800 133px,#ff8b00 139px,#ff7600 148px,#ff8300 161.5px,#ffa900 171px,#ffde00 177px,#feff00 179.5px,#b0ff00 183.5px,#4cff00 187px,#07ff00 189px,#00ff28 190.5px,#00ff90 194.5px,#00ffe6 196.5px,#00fdff 197px,#0035ff 200.5px,#0024ff 201px,#0050ff 202px,#00e8ff 204.5px,#00fff6 205px,#00ff2c 208.5px,#06ff00 209.5px,#84ff00 212.5px,#dfff00 215.5px,#fffe00 217px,#ffcc00 220.5px,#ffc500 223.5px,#ffdf00 226px,#fdff00 227.5px,#b2ff00 229.5px,#41ff00 231.5px,#00ff05 232.5px,#00ffc5 235px,#00ffd5 235.5px,#00ff8e 236.5px,#00ff13 238px,#14ff00 238.5px,#9cff00 240.5px,#feff00 242.5px,#ffb100 245px,#ff7f00 248px,#ff6400 252px)"></i><i style="width:1px;background:linear-gradient(#ff4400 0px,#ff6e00 64.5px,#ff8c00 79px,#ffb600 85.5px,#fff000 90px,#fcff00 91px,#acff00 94.5px,#3aff00 98px,#00ff03 99.5px,#00ff94 102.5px,#00f9ff 104.5px,#000dff 108.5px,#0000ff 109px,#0000ff 110.5px,#0011ff 111px,#00fffe 115px,#00ff40 118.5px,#05ff00 120px,#88ff00 123.5px,#e6ff00 127px,#fffa00 128.5px,#ffb800 133px,#ff8b00 139px,#ff7600 148px,#ff8300 161px,#ffab00 170.5px,#ffe200 176.5px,#fffe00 178.5px,#b5ff00 182.5px,#53ff00 186px,#00ff04 188.5px,#00ff59 191.5px,#00ff9c 194px,#00fff3 196px,#00efff 196.5px,#003fff 199.5px,#0027ff 200px,#001aff 200.5px,#0065ff 202px,#00fffc 204.5px,#00ff31 208px,#01ff00 209px,#7fff00 212px,#dbff00 215px,#fdff00 216.5px,#ffce00 220px,#ffc500 223px,#ffde00 225.5px,#ffff00 227px,#b6ff00 229px,#66ff00 230.5px,#00ff00 232px,#00ffc3 234.5px,#00ffe0 235px,#00ffc7 235.5px,#05ff00 238px,#90ff00 240px,#f6ff00 242px,#ffe100 243px,#ffa000 245.5px,#ff7300 249px,#ff6300 252px)"></i><i style="width:1px;background:linear-gradient(#ff4400 0px,#ff6e00 64.5px,#ff8c00 79px,#ffb600 85.5px,#fff000 90px,#fcff00 91px,#acff00 94.5px,#3aff00 98px,#00ff04 99.5px,#00ff95 102.5px,#00f8ff 104.5px,#000cff 108.5px,#0000ff 109px,#0000ff 110.5px,#0012ff 111px,#00fffd 115px,#00ff40 118.5px,#05ff00 120px,#88ff00 123.5px,#e6ff00 127px,#fffa00 128.5px,#ffb800 133px,#ff8b00 139px,#ff7700 148px,#ff8500 161px,#ffad00 170px,#ffe500 176px,#fdff00 178px,#afff00 182px,#4cff00 185.5px,#05ff00 187.5px,#00ff62 191px,#00ffa7 193.5px,#00fdff 195.5px,#0031ff 199px,#0019ff 199.5px,#0012ff 200px,#005fff 201.5px,#00fdff 204px,#00ff35 207.5px,#00ff03 208.5px,#8eff00 212px,#e5ff00 215px,#fff900 216.5px,#ffcb00 220px,#ffc700 223px,#ffe600 225.5px,#fffd00 226.5px,#cfff00 228px,#88ff00 229.5px,#06ff00 231.5px,#00ff48 232.5px,#00ffc0 234px,#00ffe1 234.5px,#00ffd9 235px,#00ff0d 237.5px,#1bff00 238px,#a2ff00 240px,#eeff00 241.5px,#fffb00 242px,#ffbb00 244px,#ff8400 247px,#ff6300 251.5px,#ff6200 252px)"></i><i style="width:1px;background:linear-gradient(#ff4400 0px,#ff6e00 64.5px,#ff8c00 79px,#ffb600 85.5px,#fff100 90px,#fcff00 91px,#abff00 94.5px,#39ff00 98px,#00ff04 99.5px,#00ff96 102.5px,#00ffe9 104px,#00f8ff 104.5px,#000cff 108.5px,#0000ff 109px,#0000ff 110.5px,#002fff 111.5px,#00fffc 115px,#00ff3f 118.5px,#06ff00 120px,#88ff00 123.5px,#e6ff00 127px,#fff900 128.5px,#ffb800 133px,#ff8c00 139px,#ff7800 148px,#ff8600 160.5px,#ffaf00 169.5px,#ffe800 175.5px,#f9ff00 177.5px,#a9ff00 181.5px,#43ff00 185px,#00ff04 187px,#00ff60 190px,#00ffa2 192.5px,#00fff6 194.5px,#00eeff 195px,#0021ff 198.5px,#000aff 199px,#000aff 199.5px,#005aff 201px,#00f9ff 203.5px,#00ff53 206.5px,#00ff06 208px,#79ff00 211px,#d7ff00 214px,#fffb00 216px,#ffcc00 219.5px,#ffc700 222.5px,#ffe300 225px,#fffa00 226px,#e6ff00 227px,#8eff00 229px,#31ff00 230.5px,#0dff00 231px,#00ff19 231.5px,#00ffe0 234px,#00ffea 234.5px,#00ff74 236px,#00ff1f 237px,#0aff00 237.5px,#95ff00 239.5px,#faff00 241.5px,#ffb300 244px,#ff8000 247px,#ff6200 251.5px,#ff6100 252px)"></i><i style="width:1px;background:linear-gradient(#ff4400 0px,#ff6e00 64.5px,#ff8d00 79px,#ffb600 85.5px,#fff100 90px,#fbff00 91px,#abff00 94.5px,#38ff00 98px,#00ff05 99.5px,#00ff97 102.5px,#00ffea 104px,#00f7ff 104.5px,#000bff 108.5px,#0000ff 109px,#0000ff 110.5px,#002fff 111.5px,#00fffc 115px,#00ff3f 118.5px,#06ff00 120px,#89ff00 123.5px,#e6ff00 127px,#fff900 128.5px,#ffb800 133px,#ff8c00 139px,#ff7800 148px,#ff8800 160.5px,#ffb100 169px,#ffec00 175px,#fcff00 176.5px,#aeff00 180.5px,#4aff00 184px,#03ff00 186px,#00ff6b 189.5px,#00ffb0 192px,#00ffed 193.5px,#00f8ff 194px,#000fff 198px,#0000ff 198.5px,#0005ff 199px,#0077ff 201px,#00f8ff 203px,#00ffaa 204.5px,#00ff07 207.5px,#3dff00 209px,#abff00 212px,#f8ff00 215px,#ffe200 217px,#ffc600 220px,#ffc800 222.5px,#ffeb00 225px,#faff00 226px,#adff00 228px,#5aff00 229.5px,#16ff00 230.5px,#00ff10 231px,#00ffdc 233.5px,#00fff9 234px,#00ffdd 234.5px,#00ff09 237px,#44ff00 238px,#a6ff00 239.5px,#f1ff00 241px,#fff800 241.5px,#ffb800 243.5px,#ff8200 246.5px,#ff6300 251px,#ff6000 252px)"></i><i style="width:1px;background:linear-gradient(#ff4400 0px,#ff6e00 64.5px,#ff8d00 79px,#ffb700 85.5px,#fff100 90px,#fbff00 91px,#abff00 94.5px,#38ff00 98px,#00ff05 99.5px,#00ff97 102.5px,#00ffeb 104px,#00f6ff 104.5px,#000aff 108.5px,#0000ff 109px,#0000ff 110.5px,#0030ff 111.5px,#00fffb 115px,#00ff3e 118.5px,#00ff10 119.5px,#07ff00 120px,#89ff00 123.5px,#e6ff00 127px,#fff900 128.5px,#ffb800 133px,#ff8c00 139px,#ff7900 148px,#ff8900 160px,#ffb300 168.5px,#fff000 174.5px,#ffff00 175.5px,#b3ff00 179.5px,#51ff00 183px,#0aff00 185px,#00ff08 185.5px,#00ff69 188.5px,#00ffbd 191.5px,#00fffd 193px,#0090ff 195px,#0018ff 197px,#0000ff 197.5px,#0004ff 198.5px,#009aff 201px,#00fbff 202.5px,#00ff1e 206.5px,#00ff05 207px,#8bff00 210.5px,#e2ff00 213.5px,#fffb00 215px,#ffcc00 218.5px,#ffc400 221.5px,#ffde00 224px,#feff00 225.5px,#b4ff00 227.5px,#62ff00 229px,#00ff07 230.5px,#00ffd5 233px,#00fff8 233.5px,#00fff1 234px,#00ff1e 236.5px,#0bff00 237px,#79ff00 238.5px,#e7ff00 240.5px,#fdff00 241px,#ffb200 243.5px,#ff7f00 246.5px,#ff6200 251px,#ff5f00 252px)"></i><i style="width:1px;background:linear-gradient(#ff4400 0px,#ff6e00 64.5px,#ff8d00 79px,#ffb700 85.5px,#fff100 90px,#fbff00 91px,#aaff00 94.5px,#37ff00 98px,#00ff06 99.5px,#00ff98 102.5px,#00ffec 104px,#00f5ff 104.5px,#0009ff 108.5px,#0000ff 109.5px,#0000ff 110.5px,#0031ff 111.5px,#00fffa 115px,#00ff3e 118.5px,#00ff0f 119.5px,#07ff00 120px,#89ff00 123.5px,#e6ff00 127px,#fff900 128.5px,#ffb900 133px,#ff8d00 139px,#ff7a00 148px,#ff8c00 160px,#ffb900 168.5px,#fff400 174px,#f2ff00 175.5px,#a0ff00 179.5px,#37ff00 183px,#00ff00 184.5px,#00ff64 187.5px,#00ffb4 190.5px,#00fff0 192px,#00f5ff 192.5px,#000dff 196.5px,#0000ff 197px,#0000ff 197.5px,#000eff 198px,#00e6ff 201.5px,#00fff8 202px,#00ff4a 205px,#02ff00 206.5px,#7eff00 209.5px,#d9ff00 212.5px,#fbff00 214px,#ffca00 218px,#ffc200 221px,#ffda00 223.5px,#fffa00 225px,#e4ff00 226px,#89ff00 228px,#29ff00 229.5px,#04ff00 230px,#00ff77 231.5px,#00fff3 233px,#00f9ff 233.5px,#00ffe2 234px,#00ff09 236.5px,#45ff00 237.5px,#a7ff00 239px,#f2ff00 240.5px,#fff700 241px,#ffb700 243px,#ff8200 246px,#ff6300 250.5px,#ff5f00 252px)"></i><i style="width:1px;background:linear-gradient(#ff4400 0px,#ff6e00 64.5px,#ff8d00 79px,#ffb700 85.5px,#fff200 90px,#fbff00 91px,#aaff00 94.5px,#37ff00 98px,#00ff07 99.5px,#00ff99 102.5px,#00ffec 104px,#00f4ff 104.5px,#0009ff 108.5px,#0000ff 109.5px,#0000ff 110.5px,#0031ff 111.5px,#00e7ff 114.5px,#00fff9 115px,#00ff3d 118.5px,#00ff0f 119.5px,#07ff00 120px,#89ff00 123.5px,#e6ff00 127px,#fff900 128.5px,#ffb900 133px,#ff8d00 139px,#ff7b00 148px,#ff8d00 159.5px,#ffb800 167.5px,#fff200 173px,#f5ff00 174.5px,#a4ff00 178.5px,#3eff00 182px,#08ff00 183.5px,#00ff1d 184.5px,#00ff79 187.5px,#00ffbe 190px,#00fffd 191.5px,#0093ff 193.5px,#0003ff 196px,#0001ff 197px,#0074ff 199px,#00f3ff 201px,#00ffec 201.5px,#00ff40 204.5px,#00ff0e 205.5px,#0aff00 206px,#83ff00 209px,#ddff00 212px,#feff00 213.5px,#ffcc00 217px,#ffbe00 220px,#ffce00 222.5px,#fbff00 225px,#acff00 227px,#57ff00 228.5px,#10ff00 229.5px,#00ff17 230px,#00ffeb 232.5px,#00f1ff 233px,#00fffa 233.5px,#00ff20 236px,#0aff00 236.5px,#78ff00 238px,#cfff00 239.5px,#fdff00 240.5px,#ffb100 243px,#ff7f00 246px,#ff6200 250.5px,#ff5e00 252px)"></i><i style="width:1px;background:linear-gradient(#ff4400 0px,#ff6e00 64.5px,#ff8d00 79px,#ffb700 85.5px,#fff200 90px,#f1ff00 91.5px,#9bff00 95px,#23ff00 98.5px,#00ff07 99.5px,#00ff9a 102.5px,#00ffed 104px,#00f3ff 104.5px,#0008ff 108.5px,#0000ff 109.5px,#0000ff 110.5px,#0050ff 112px,#00e8ff 114.5px,#00fff9 115px,#00ff3d 118.5px,#00ff0e 119.5px,#08ff00 120px,#8aff00 123.5px,#e6ff00 127px,#fff900 128.5px,#ffb900 133px,#ff8e00 139px,#ff7c00 148px,#ff8f00 159px,#ffbb00 167px,#fff700 172.5px,#f8ff00 173.5px,#a8ff00 177.5px,#44ff00 181px,#00ff04 183px,#00ff68 186px,#00ffb8 189px,#00fff3 190.5px,#00f3ff 191px,#000fff 195px,#0000ff 195.5px,#0000ff 196px,#000eff 196.5px,#00fffc 200.5px,#00ff35 204px,#00ff04 205px,#8aff00 208.5px,#edff00 212px,#fffc00 213px,#ffc900 216.5px,#ffbb00 219.5px,#ffca00 222px,#ffef00 224px,#fffc00 224.5px,#ccff00 226px,#81ff00 227.5px,#1dff00 229px,#00ff09 229.5px,#00ffe1 232px,#00f7ff 232.5px,#00eeff 233px,#00ffeb 233.5px,#00ff0d 236px,#1cff00 236.5px,#87ff00 238px,#f2ff00 240px,#fff700 240.5px,#ffb700 242.5px,#ff8200 245.5px,#ff6300 250px,#ff5e00 252px)"></i><i style="width:1px;background:linear-gradient(#ff4400 0px,#ff6e00 64.5px,#ff8d00 79px,#ffb700 85.5px,#fff200 90px,#f0ff00 91.5px,#9bff00 95px,#22ff00 98.5px,#00ff08 99.5px,#00ff9a 102.5px,#00ffee 104px,#00f3ff 104.5px,#0007ff 108.5px,#0000ff 110px,#0000ff 110.5px,#0050ff 112px,#00e8ff 114.5px,#00fff8 115px,#00ff3c 118.5px,#00ff0e 119.5px,#08ff00 120px,#8aff00 123.5px,#e6ff00 127px,#fff900 128.5px,#ffb900 133px,#ff8e00 139px,#ff7e00 148px,#ff9200 159px,#ffbe00 166.5px,#faff00 172.5px,#acff00 176.5px,#49ff00 180px,#02ff00 182px,#00ff64 185px,#00ffc3 188.5px,#00fdff 190px,#0002ff 194.5px,#0003ff 195.5px,#0094ff 198px,#00f2ff 199.5px,#00ffed 200px,#00ff2a 203.5px,#06ff00 204.5px,#80ff00 207.5px,#e6ff00 211px,#fcff00 212px,#ffc600 216px,#ffb800 219.5px,#ffcc00 222px,#faff00 224.5px,#a7ff00 226.5px,#4eff00 228px,#05ff00 229px,#00ff4e 230px,#00fffd 232px,#00e0ff 232.5px,#00f9ff 233px,#00ffae 234px,#00ff25 235.5px,#05ff00 236px,#75ff00 237.5px,#cdff00 239px,#fcff00 240px,#ffb200 242.5px,#ff7f00 245.5px,#ff6200 250px,#ff5d00 252px)"></i><i style="width:1px;background:linear-gradient(#ff4400 0px,#ff6e00 64.5px,#ff8d00 79px,#ffb700 85.5px,#fff200 90px,#faff00 91px,#a9ff00 94.5px,#35ff00 98px,#0dff00 99px,#00ff09 99.5px,#00ff9b 102.5px,#00ffef 104px,#00f2ff 104.5px,#0006ff 108.5px,#0000ff 110.5px,#006fff 112.5px,#00e9ff 114.5px,#00fff7 115px,#00ff3b 118.5px,#00ff0d 119.5px,#09ff00 120px,#8aff00 123.5px,#e6ff00 127px,#fff900 128.5px,#ffba00 133px,#ff8f00 139px,#ff7f00 148px,#ff9400 158.5px,#ffc100 166px,#fbff00 171.5px,#afff00 175.5px,#4dff00 179px,#07ff00 181px,#00ff31 182.5px,#00ff88 185.5px,#00ffcf 188px,#00fff9 189px,#00d3ff 190px,#000cff 193.5px,#0000ff 194px,#0000ff 194.5px,#002dff 195.5px,#00fffb 199px,#00ff36 202.5px,#00ff06 203.5px,#98ff00 207.5px,#f6ff00 211px,#fff400 212px,#ffc300 215.5px,#ffb500 219px,#ffc700 221.5px,#ffee00 223.5px,#fffd00 224px,#c9ff00 225.5px,#7bff00 227px,#14ff00 228.5px,#00ff13 229px,#00fff0 231.5px,#00e7ff 232px,#00e0ff 232.5px,#00fff7 233px,#00ff14 235.5px,#16ff00 236px,#83ff00 237.5px,#d8ff00 239px,#fffa00 240px,#ffb900 242px,#ff8900 244.5px,#ff6700 248.5px,#ff5d00 252px)"></i><i style="width:1px;background:linear-gradient(#ff4400 0px,#ff6e00 64.5px,#ff8d00 79px,#ffb800 85.5px,#fff300 90px,#f9ff00 91px,#a8ff00 94.5px,#34ff00 98px,#0cff00 99px,#00ff0a 99.5px,#00ff9c 102.5px,#00fff0 104px,#00f0ff 104.5px,#0005ff 108.5px,#0000ff 110.5px,#008fff 113px,#00eaff 114.5px,#00fff6 115px,#00ff3b 118.5px,#00ff0c 119.5px,#09ff00 120px,#8aff00 123.5px,#e7ff00 127px,#fffa00 128.5px,#ffba00 133px,#ff9000 139px,#ff8100 147.5px,#ff9600 158px,#ffc500 165.5px,#fdff00 170.5px,#a5ff00 175px,#40ff00 178.5px,#0bff00 180px,#00ff07 180.5px,#00ff6c 183.5px,#00ffcb 187px,#00fff2 188px,#00f5ff 188.5px,#0015ff 192.5px,#0000ff 193px,#0009ff 194px,#0099ff 196.5px,#00f6ff 198px,#00ffcc 199px,#00ff29 202px,#07ff00 203px,#7fff00 206px,#e4ff00 209.5px,#fff900 211px,#ffc400 214.5px,#ffb100 218px,#ffc200 221px,#ffe700 223px,#faff00 224px,#a4ff00 226px,#48ff00 227.5px,#00ff03 228.5px,#00ffe1 231px,#00f2ff 231.5px,#00d1ff 232px,#00ebff 232.5px,#00ffe9 233px,#00ff03 235.5px,#90ff00 237.5px,#f8ff00 239.5px,#ffc000 241.5px,#ff8d00 244px,#ff6800 248px,#ff5d00 252px)"></i><i style="width:1px;background:linear-gradient(#ff4400 0px,#ff6e00 64.5px,#ff8d00 79px,#ffb800 85.5px,#fff300 90px,#f9ff00 91px,#a7ff00 94.5px,#33ff00 98px,#0bff00 99px,#00ff0b 99.5px,#00ff9e 102.5px,#00fff2 104px,#00efff 104.5px,#0004ff 108.5px,#0000ff 110.5px,#00cdff 114px,#00ebff 114.5px,#00fff5 115px,#00ff3a 118.5px,#00ff0c 119.5px,#0aff00 120px,#8bff00 123.5px,#e7ff00 127px,#fffa00 128.5px,#ffba00 133px,#ff9000 139px,#ff8200 147.5px,#ff9800 157.5px,#ffc900 165px,#feff00 169.5px,#a7ff00 174px,#44ff00 177.5px,#00ff03 179.5px,#00ff6a 182.5px,#00ffc7 186px,#00fbff 187.5px,#0056ff 190.5px,#0006ff 192px,#0002ff 193px,#0070ff 195px,#00ebff 197px,#00fff5 197.5px,#00ff33 201px,#00ff04 202px,#88ff00 205.5px,#eaff00 209px,#fffe00 210px,#ffc100 214px,#ffad00 217.5px,#ffbd00 220.5px,#ffed00 223px,#fffc00 223.5px,#c8ff00 225px,#78ff00 226.5px,#0eff00 228px,#00ff1a 228.5px,#00fffd 231px,#00d9ff 231.5px,#00d0ff 232px,#00f7ff 232.5px,#00ffd9 233px,#00ff1e 235px,#0cff00 235.5px,#7cff00 237px,#d3ff00 238.5px,#fffd00 239.5px,#ffbb00 241.5px,#ff8a00 244px,#ff6700 248px,#ff5c00 252px)"></i><i style="width:1px;background:linear-gradient(#ff4400 0px,#ff6e00 64.5px,#ff8d00 79px,#ffb800 85.5px,#fff300 90px,#f8ff00 91px,#a7ff00 94.5px,#33ff00 98px,#0aff00 99px,#00ff0c 99.5px,#00ff9f 102.5px,#00fff3 104px,#00eeff 104.5px,#0003ff 108.5px,#0000ff 110.5px,#00ecff 114.5px,#00fff4 115px,#00ff39 118.5px,#00ff0b 119.5px,#0bff00 120px,#8bff00 123.5px,#e7ff00 127px,#fffa00 128.5px,#ffbb00 133px,#ff9100 139px,#ff8400 147.5px,#ff9a00 157px,#ffc900 164px,#ffff00 168.5px,#a9ff00 173px,#47ff00 176.5px,#00ff00 178.5px,#00ff68 181.5px,#00ffc3 185px,#00fffd 186.5px,#0099ff 188.5px,#000dff 191px,#0000ff 191.5px,#0000ff 192px,#002cff 193px,#00feff 196.5px,#00ff3d 200px,#00ff0d 201px,#0aff00 201.5px,#80ff00 204.5px,#e5ff00 208px,#fff900 209.5px,#ffbd00 213.5px,#ffaa00 217px,#ffb800 220px,#ffe500 222.5px,#fbff00 223.5px,#a3ff00 225.5px,#45ff00 227px,#00ff08 228px,#00ffec 230.5px,#00e6ff 231px,#00c3ff 231.5px,#00d9ff 232px,#00fff9 232.5px,#00ff0f 235px,#1bff00 235.5px,#88ff00 237px,#ddff00 238.5px,#f4ff00 239px,#fff500 239.5px,#ffb600 241.5px,#ff8100 244.5px,#ff6200 249px,#ff5c00 252px)"></i><i style="width:1px;background:linear-gradient(#ff4400 0px,#ff6e00 64.5px,#ff8d00 79px,#ffb800 85.5px,#fff400 90px,#f8ff00 91px,#a6ff00 94.5px,#32ff00 98px,#09ff00 99px,#00ff23 100px,#00ffd8 103.5px,#00fff4 104px,#00ecff 104.5px,#0001ff 108.5px,#0001ff 110.5px,#00edff 114.5px,#00fff3 115px,#00ff38 118.5px,#00ff0a 119.5px,#0bff00 120px,#8cff00 123.5px,#e7ff00 127px,#fffa00 128.5px,#ffbb00 133px,#ff9200 139px,#ff8600 147.5px,#ff9f00 157px,#ffd300 164px,#ffff00 167.5px,#aaff00 172px,#49ff00 175.5px,#03ff00 177.5px,#00ff74 181px,#00ffd1 184.5px,#00fff8 185.5px,#00d7ff 186.5px,#0015ff 190px,#0000ff 190.5px,#0000ff 191px,#000bff 191.5px,#00b7ff 194.5px,#00f4ff 195.5px,#00ffec 196px,#00ff2e 199.5px,#01ff00 200.5px,#78ff00 203.5px,#dfff00 207px,#fffd00 208.5px,#ffbf00 212.5px,#ffa600 216.5px,#ffb300 219.5px,#ffdd00 222px,#fffa00 223px,#dfff00 224px,#95ff00 225.5px,#32ff00 227px,#0bff00 227.5px,#00ff1e 228px,#00ffd8 230px,#00f7ff 230.5px,#00cdff 231px,#00beff 231.5px,#00e5ff 232px,#00ffeb 232.5px,#00ff00 235px,#73ff00 236.5px,#cdff00 238px,#fcff00 239px,#ffb100 241.5px,#ff7e00 244.5px,#ff6200 249px,#ff5c00 252px)"></i><i style="width:1px;background:linear-gradient(#ff4400 0px,#ff6e00 64.5px,#ff8d00 79px,#ffb900 85.5px,#fff400 90px,#f7ff00 91px,#a5ff00 94.5px,#31ff00 98px,#08ff00 99px,#00ff24 100px,#00ffd9 103.5px,#00fff6 104px,#00cdff 105px,#0000ff 108.5px,#0002ff 110.5px,#00efff 114.5px,#00fff2 115px,#00ff37 118.5px,#00ff09 119.5px,#21ff00 120.5px,#9bff00 124px,#f1ff00 127.5px,#fffa00 128.5px,#ffbb00 133px,#ff9300 139px,#ff8800 147.5px,#ffa200 156.5px,#ffd300 163px,#fffe00 166.5px,#b7ff00 170.5px,#5bff00 174px,#05ff00 176.5px,#00ff80 180.5px,#00ffce 183.5px,#00fff4 184.5px,#00f4ff 185px,#0004ff 189.5px,#0005ff 190.5px,#0090ff 193px,#00ebff 194.5px,#00fff6 195px,#00ff37 198.5px,#00ff08 199.5px,#24ff00 200.5px,#a3ff00 204px,#fcff00 207.5px,#ffbc00 212px,#ffa300 216px,#ffae00 219px,#ffd600 221.5px,#fdff00 223px,#a3ff00 225px,#44ff00 226.5px,#1eff00 227px,#00ff0a 227.5px,#00fff3 230px,#00ddff 230.5px,#00b7ff 231px,#00c6ff 231.5px,#00f1ff 232px,#00ffdd 232.5px,#00ff1d 234.5px,#0eff00 235px,#7fff00 236.5px,#d6ff00 238px,#fffb00 239px,#ffb900 241px,#ff8800 243.5px,#ff6700 247.5px,#ff5c00 252px)"></i><i style="width:1px;background:linear-gradient(#ff4400 0px,#ff6e00 64px,#ff8c00 78.5px,#ffb400 85px,#fff500 90px,#f7ff00 91px,#a5ff00 94.5px,#30ff00 98px,#07ff00 99px,#00ff25 100px,#00ffdb 103.5px,#00fff7 104px,#00cbff 105px,#0000ff 108.5px,#0003ff 110.5px,#00f0ff 114.5px,#00fff0 115px,#00ff36 118.5px,#00ff09 119.5px,#22ff00 120.5px,#9bff00 124px,#f1ff00 127.5px,#fffa00 128.5px,#ffbc00 133px,#ff9400 139px,#ff8a00 147px,#ffa500 156px,#ffd800 162.5px,#fffe00 165.5px,#b8ff00 169.5px,#4dff00 173.5px,#08ff00 175.5px,#00ff1d 176.5px,#00ff7f 179.5px,#00ffcc 182.5px,#00f9ff 184px,#0059ff 187px,#000aff 188.5px,#0000ff 189px,#0000ff 189.5px,#006aff 191.5px,#00ffff 194px,#00ff40 197.5px,#00ff10 198.5px,#07ff00 199px,#7cff00 202px,#e1ff00 205.5px,#fffc00 207px,#ffbd00 211px,#ffa000 215px,#ffa900 218.5px,#ffce00 221px,#fff700 222.5px,#e1ff00 223.5px,#96ff00 225px,#32ff00 226.5px,#0aff00 227px,#00ff20 227.5px,#00ffde 229.5px,#00f0ff 230px,#00c4ff 230.5px,#00abff 231px,#00feff 232px,#00ff0e 234.5px,#1cff00 235px,#8aff00 236.5px,#dfff00 238px,#f6ff00 238.5px,#ffe100 239.5px,#ff9e00 242px,#ff7600 245px,#ff5d00 250.5px,#ff5c00 252px)"></i><i style="width:1px;background:linear-gradient(#ff4400 0px,#ff6e00 64px,#ff8c00 78.5px,#ffb400 85px,#fff500 90px,#f6ff00 91px,#a4ff00 94.5px,#2eff00 98px,#05ff00 99px,#00ff3e 100.5px,#00fff9 104px,#008dff 106px,#0000ff 108.5px,#0004ff 110.5px,#00f1ff 114.5px,#00ffef 115px,#00ff35 118.5px,#00ff08 119.5px,#22ff00 120.5px,#9cff00 124px,#f1ff00 127.5px,#fffa00 128.5px,#ffbc00 133px,#ff9500 139px,#ff8d00 147px,#ffa800 155.5px,#ffdd00 162px,#f9ff00 165px,#a2ff00 169.5px,#3eff00 173px,#0aff00 174.5px,#00ff08 175px,#00ff70 178px,#00ffda 182px,#00fdff 183px,#007cff 185.5px,#0010ff 187.5px,#0000ff 188px,#0000ff 188.5px,#002aff 189.5px,#00f7ff 193px,#00ffcd 194px,#00ff18 197.5px,#00ff01 198px,#86ff00 201.5px,#e7ff00 205px,#fdff00 206px,#ffba00 210.5px,#ff9d00 214.5px,#ffa500 218px,#ffc700 220.5px,#ffff00 222.5px,#bfff00 224px,#68ff00 225.5px,#1eff00 226.5px,#00ff0b 227px,#00fff8 229.5px,#00adff 230.5px,#00b1ff 231px,#00dcff 231.5px,#00fff2 232px,#00ff2d 234px,#00ff00 234.5px,#74ff00 236px,#ceff00 237.5px,#fdff00 238.5px,#ffb000 241px,#ff7e00 244px,#ff6100 248.5px,#ff5b00 252px)"></i><i style="width:1px;background:linear-gradient(#ff4400 0px,#ff6e00 64px,#ff8c00 78.5px,#ffb500 85px,#fff600 90px,#f6ff00 91px,#a3ff00 94.5px,#2dff00 98px,#04ff00 99px,#00ff58 101px,#00fffb 104px,#0016ff 108px,#0000ff 108.5px,#0006ff 110.5px,#00f3ff 114.5px,#00ffee 115px,#00ff34 118.5px,#00ff07 119.5px,#37ff00 121px,#aaff00 124.5px,#fbff00 128px,#ffb800 133.5px,#ff9500 139.5px,#ff9000 147.5px,#ffae00 155.5px,#ffe300 161.5px,#f9ff00 164px,#a3ff00 168.5px,#40ff00 172px,#00ff06 174px,#00ff6f 177px,#00ffd7 181px,#00fffd 182px,#009eff 184px,#0016ff 186.5px,#0001ff 187px,#0000ff 187.5px,#000cff 188px,#0095ff 190.5px,#00eeff 192px,#00fff3 192.5px,#00ff38 196px,#00ff09 197px,#22ff00 198px,#9fff00 201.5px,#f9ff00 205px,#ffd700 207.5px,#ffa500 212px,#ff9900 216px,#ffb000 219px,#ffe500 221.5px,#f8ff00 222.5px,#b4ff00 224px,#57ff00 225.5px,#0bff00 226.5px,#00ff20 227px,#00ffe1 229px,#00ebff 229.5px,#00bdff 230px,#009aff 230.5px,#00baff 231px,#00e8ff 231.5px,#00ffe4 232px,#00ff1f 234px,#0dff00 234.5px,#7fff00 236px,#d7ff00 237.5px,#fffa00 238.5px,#ffb800 240.5px,#ff8800 243px,#ff6600 247px,#ff5b00 252px)"></i><i style="width:1px;background:linear-gradient(#ff4400 0px,#ff6e00 64px,#ff8c00 78.5px,#ffb500 85px,#fff600 90px,#f5ff00 91px,#a2ff00 94.5px,#2cff00 98px,#03ff00 99px,#00ff73 101.5px,#00fffd 104px,#0014ff 108px,#0000ff 108.5px,#0000ff 110px,#0007ff 110.5px,#00f4ff 114.5px,#00ffec 115px,#00ff33 118.5px,#00ff06 119.5px,#7eff00 123px,#dcff00 126.5px,#fffa00 128.5px,#ffbe00 133px,#ff9800 139px,#ff9200 147px,#ffb200 155px,#ffe900 161px,#faff00 163px,#a4ff00 167.5px,#42ff00 171px,#00ff04 173px,#00ff7c 176.5px,#00ffd5 180px,#00fff9 181px,#00d8ff 182px,#0006ff 186px,#0000ff 186.5px,#0006ff 187px,#008dff 189.5px,#00fffb 191.5px,#00ff40 195px,#05ff00 196.5px,#89ff00 200px,#e9ff00 203.5px,#ffff00 204.5px,#ffb900 209px,#ff9800 213.5px,#ff9c00 217px,#ffba00 219.5px,#ffeb00 221.5px,#fffc00 222px,#c2ff00 223.5px,#69ff00 225px,#20ff00 226px,#00ff0a 226.5px,#00ffc9 228.5px,#00fffc 229px,#00a5ff 230px,#009bff 230.5px,#00f5ff 231.5px,#00ffa2 232.5px,#00ff11 234px,#1aff00 234.5px,#89ff00 236px,#dfff00 237.5px,#f6ff00 238px,#ffe100 239px,#ff9e00 241.5px,#ff7500 244.5px,#ff5d00 250px,#ff5b00 252px)"></i><i style="width:1px;background:linear-gradient(#ff4400 0px,#ff6e00 64px,#ff8c00 78.5px,#ffb500 85px,#fff700 90px,#f4ff00 91px,#a1ff00 94.5px,#2bff00 98px,#01ff00 99px,#00ff8f 102px,#00ffff 104px,#0012ff 108px,#0000ff 108.5px,#0000ff 110px,#0008ff 110.5px,#00f6ff 114.5px,#00ffce 115.5px,#00ff1b 119px,#00ff05 119.5px,#8eff00 123.5px,#e7ff00 127px,#fffa00 128.5px,#ffbe00 133px,#ff9900 139px,#ff9500 146.5px,#ffb200 154px,#ffe900 160px,#faff00 162px,#a5ff00 166.5px,#44ff00 170px,#00ff01 172px,#00ff7b 175.5px,#00ffe3 179.5px,#00fff6 180px,#00f4ff 180.5px,#0058ff 183.5px,#000cff 185px,#0000ff 185.5px,#0002ff 186px,#0068ff 188px,#00faff 190.5px,#00ff19 195px,#00ff03 195.5px,#93ff00 199.5px,#efff00 203px,#fffa00 204px,#ffb500 208.5px,#ff9500 213px,#ff9900 216.5px,#ffb400 219px,#ffe200 221px,#fbff00 222px,#b6ff00 223.5px,#59ff00 225px,#0cff00 226px,#00ff1f 226.5px,#00ffe4 228.5px,#00e7ff 229px,#008fff 230px,#00a2ff 230.5px,#00fffb 231.5px,#00ff31 233.5px,#00ff03 234px,#94ff00 236px,#e7ff00 237.5px,#fdff00 238px,#ffb000 240.5px,#ff7d00 243.5px,#ff6100 248px,#ff5b00 252px)"></i><i style="width:1px;background:linear-gradient(#ff4400 0px,#ff6e00 64px,#ff8c00 78.5px,#ffb600 85px,#ffef00 89.5px,#fdff00 90.5px,#a0ff00 94.5px,#29ff00 98px,#00ff00 99px,#00ff91 102px,#00fdff 104px,#0010ff 108px,#0000ff 108.5px,#0000ff 110px,#000aff 110.5px,#00f8ff 114.5px,#00ffb0 116px,#00ff1a 119px,#00ff04 119.5px,#8fff00 123.5px,#e7ff00 127px,#fffa00 128.5px,#ffbf00 133px,#ff9b00 139px,#ff9800 146.5px,#ffb900 154px,#fff500 160px,#f3ff00 161.5px,#9aff00 166px,#36ff00 169.5px,#01ff00 171px,#00ff79 174.5px,#00ffe0 178.5px,#00f8ff 179.5px,#007bff 182px,#0012ff 184px,#0000ff 184.5px,#0000ff 185px,#0029ff 186px,#00f1ff 189.5px,#00fff1 190px,#00ff39 193.5px,#00ff0b 194.5px,#0bff00 195px,#8cff00 198.5px,#eaff00 202px,#fffe00 203px,#ffb800 207.5px,#ff9400 212px,#ff9500 216px,#ffb700 219px,#ffe800 221px,#fff900 221.5px,#ddff00 222.5px,#8cff00 224px,#22ff00 225.5px,#00ff08 226px,#00ffca 228px,#00fffe 228.5px,#009eff 229.5px,#0085ff 230px,#00ddff 231px,#00ffed 231.5px,#00ff23 233.5px,#0aff00 234px,#7dff00 235.5px,#d6ff00 237px,#fffa00 238px,#ffb800 240px,#ff8700 242.5px,#ff6600 246.5px,#ff5b00 252px)"></i><i style="width:1px;background:linear-gradient(#ff4400 0px,#ff6e00 64px,#ff8c00 78.5px,#ffb600 85px,#fff000 89.5px,#fdff00 90.5px,#9fff00 94.5px,#28ff00 98px,#00ff02 99px,#00ff93 102px,#00fbff 104px,#000eff 108px,#0000ff 108.5px,#0000ff 110px,#000cff 110.5px,#00faff 114.5px,#00ff30 118.5px,#00ff03 119.5px,#80ff00 123px,#ddff00 126.5px,#fffb00 128.5px,#ffc000 133px,#ff9d00 139px,#ff9c00 146.5px,#ffbd00 153.5px,#fff500 159px,#f3ff00 160.5px,#9bff00 165px,#38ff00 168.5px,#04ff00 170px,#00ff85 174px,#00ffdd 177.5px,#00fdff 178.5px,#0083ff 181px,#0003ff 183.5px,#0000ff 184px,#000bff 184.5px,#0090ff 187px,#00fffa 189px,#00ff42 192.5px,#02ff00 194px,#85ff00 197.5px,#e5ff00 201px,#fff900 202.5px,#ffb500 207px,#ff9000 212px,#ff9400 216px,#ffba00 219px,#fdff00 221.5px,#b9ff00 223px,#5cff00 224.5px,#0eff00 225.5px,#00ff1e 226px,#00ffe5 228px,#00e4ff 228.5px,#0087ff 229.5px,#008bff 230px,#00ebff 231px,#00ffde 231.5px,#00ff15 233.5px,#17ff00 234px,#88ff00 235.5px,#deff00 237px,#f6ff00 237.5px,#ffe100 238.5px,#ff9d00 241px,#ff7500 244px,#ff5d00 249.5px,#ff5b00 252px)"></i><i style="width:1px;background:linear-gradient(#ff4400 0px,#ff6e00 64px,#ff8d00 78.5px,#ffb600 85px,#fff000 89.5px,#fcff00 90.5px,#acff00 94px,#3aff00 97.5px,#00ff03 99px,#00ff95 102px,#00f9ff 104px,#000cff 108px,#0000ff 108.5px,#0000ff 110px,#000dff 110.5px,#00fbff 114.5px,#00ff2e 118.5px,#00ff01 119.5px,#80ff00 123px,#ddff00 126.5px,#fffb00 128.5px,#ffc100 133px,#ff9f00 139px,#ffa000 146.5px,#ffc500 153.5px,#fcff00 159px,#a9ff00 163.5px,#3bff00 167.5px,#07ff00 169px,#00ff1e 170px,#00ff83 173px,#00ffda 176.5px,#00fffd 177.5px,#00a5ff 179.5px,#000aff 182.5px,#0000ff 183px,#0005ff 183.5px,#006aff 185.5px,#00faff 188px,#00ff1d 192.5px,#00ff07 193px,#4aff00 195px,#baff00 198.5px,#fffe00 201.5px,#ffb800 206px,#ff9000 211px,#ff8f00 215px,#ffab00 218px,#ffe500 220.5px,#f5ff00 221.5px,#adff00 223px,#4bff00 224.5px,#00ff06 225.5px,#00ffcb 227.5px,#00feff 228px,#0098ff 229px,#0073ff 229.5px,#0094ff 230px,#00faff 231px,#00ff07 233.5px,#71ff00 235px,#cdff00 236.5px,#fdff00 237.5px,#ffaf00 240px,#ff7d00 243px,#ff6100 247.5px,#ff5b00 252px)"></i><i style="width:1px;background:linear-gradient(#ff4400 0px,#ff6e00 64px,#ff8d00 78.5px,#ffb700 85px,#fff100 89.5px,#fbff00 90.5px,#abff00 94px,#38ff00 97.5px,#00ff05 99px,#00ff97 102px,#00ffea 103.5px,#00f6ff 104px,#000aff 108px,#0000ff 109px,#0000ff 110px,#000fff 110.5px,#00fdff 114.5px,#00ff45 118px,#00ff00 119.5px,#81ff00 123px,#ddff00 126.5px,#fffb00 128.5px,#ffc200 133px,#ffa100 139px,#ffa200 146px,#ffc800 153px,#fdff00 158px,#acff00 162.5px,#40ff00 166.5px,#00ff06 168.5px,#00ff7f 172px,#00ffe5 176px,#00fff7 176.5px,#00f3ff 177px,#005cff 180px,#0011ff 181.5px,#0000ff 182px,#0000ff 182.5px,#0062ff 184.5px,#00f2ff 187px,#00fff0 187.5px,#00ff3b 191px,#00ff0d 192px,#08ff00 192.5px,#89ff00 196px,#e7ff00 199.5px,#fdff00 200.5px,#ffb400 205.5px,#ff8d00 210.5px,#ff8b00 214.5px,#ffa500 217.5px,#ffda00 220px,#fffc00 221px,#beff00 222.5px,#61ff00 224px,#14ff00 225px,#00ff17 225.5px,#00ffdf 227.5px,#00e9ff 228px,#0087ff 229px,#007cff 229.5px,#00daff 230.5px,#00ffee 231px,#00ff22 233px,#0bff00 233.5px,#7fff00 235px,#d8ff00 236.5px,#fff900 237.5px,#ffb700 239.5px,#ff8700 242px,#ff6600 246px,#ff5b00 252px)"></i><i style="width:1px;background:linear-gradient(#ff4400 0px,#ff6d00 63.5px,#ff8b00 78px,#ffb300 84.5px,#fff200 89.5px,#f1ff00 91px,#9bff00 94.5px,#23ff00 98px,#00ff07 99px,#00ff99 102px,#00ffed 103.5px,#00f4ff 104px,#0007ff 108px,#0000ff 109.5px,#0000ff 110px,#0011ff 110.5px,#00ffff 114.5px,#00ff43 118px,#01ff00 119.5px,#72ff00 122.5px,#d2ff00 126px,#fffb00 128.5px,#ffc200 133px,#ffa400 138.5px,#ffa500 145.5px,#ffc800 152px,#ffff00 157px,#aeff00 161.5px,#44ff00 165.5px,#00ff01 167.5px,#00ff7b 171px,#00ffe0 175px,#00f9ff 176px,#007fff 178.5px,#0002ff 181px,#0000ff 181.5px,#0026ff 182.5px,#00eaff 186px,#00fff8 186.5px,#00ff41 190px,#02ff00 191.5px,#85ff00 195px,#e4ff00 198.5px,#fffa00 200px,#ffb500 204.5px,#ff8d00 209.5px,#ff8700 214px,#ff9f00 217px,#ffd000 219.5px,#fcff00 221px,#b5ff00 222.5px,#54ff00 224px,#04ff00 225px,#00ff58 226px,#00fff4 227.5px,#00d5ff 228px,#0079ff 229px,#008cff 229.5px,#00efff 230.5px,#00ffd9 231px,#00ff0f 233px,#1cff00 233.5px,#8cff00 235px,#e2ff00 236.5px,#f9ff00 237px,#ffb100 239.5px,#ff7e00 242.5px,#ff6100 247px,#ff5b00 252px)"></i><i style="width:1px;background:linear-gradient(#ff4400 0px,#ff6d00 63.5px,#ff8b00 78px,#ffb300 84.5px,#fff300 89.5px,#f9ff00 90.5px,#a8ff00 94px,#35ff00 97.5px,#0dff00 98.5px,#00ff09 99px,#00ff9b 102px,#00ffef 103.5px,#00f1ff 104px,#0005ff 108px,#0000ff 110px,#002fff 111px,#00fffd 114.5px,#00ff42 118px,#02ff00 119.5px,#72ff00 122.5px,#d2ff00 126px,#fffc00 128.5px,#ffc400 133px,#ffa600 138.5px,#ffa900 145.5px,#ffd000 152px,#fffe00 156px,#bcff00 160px,#57ff00 164px,#04ff00 166.5px,#00ff86 170.5px,#00ffdc 174px,#00ffff 175px,#0087ff 177.5px,#0008ff 180px,#0000ff 180.5px,#0009ff 181px,#008cff 183.5px,#00ffff 185.5px,#00ff48 189px,#00ff03 190.5px,#90ff00 194.5px,#ecff00 198px,#fffd00 199px,#ffb700 203.5px,#ff8a00 209px,#ff8400 213.5px,#ffa000 217px,#ffd400 219.5px,#fff500 220.5px,#f5ff00 221px,#abff00 222.5px,#46ff00 224px,#1fff00 224.5px,#00ff0c 225px,#00ffd3 227px,#00f6ff 227.5px,#0092ff 228.5px,#0075ff 229px,#009dff 229.5px,#00fffa 230.5px,#00ff2c 232.5px,#02ff00 233px,#78ff00 234.5px,#d3ff00 236px,#fffd00 237px,#ffb900 239px,#ff8800 241.5px,#ff6600 245.5px,#ff5b00 252px)"></i><i style="width:1px;background:linear-gradient(#ff4400 0px,#ff6d00 63.5px,#ff8c00 78px,#ffb300 84.5px,#fff300 89.5px,#f9ff00 90.5px,#a7ff00 94px,#33ff00 97.5px,#0bff00 98.5px,#00ff0b 99px,#00ff9e 102px,#00fff2 103.5px,#00efff 104px,#0003ff 108px,#0000ff 110px,#0031ff 111px,#00fffb 114.5px,#00ff40 118px,#03ff00 119.5px,#73ff00 122.5px,#d2ff00 126px,#fffc00 128.5px,#ffc500 133px,#ffa800 138.5px,#ffac00 145px,#ffd400 151.5px,#fbff00 155.5px,#a8ff00 160px,#3cff00 164px,#08ff00 165.5px,#00ff1d 166.5px,#00ff82 169.5px,#00ffe8 173.5px,#00fffa 174px,#00c1ff 175.5px,#000dff 179px,#0000ff 179.5px,#0005ff 180px,#0069ff 182px,#00f8ff 184.5px,#00ffb4 186px,#00ff09 189.5px,#21ff00 190.5px,#9bff00 194px,#feff00 198px,#ffb800 202.5px,#ff8a00 208px,#ff8100 213px,#ff9a00 216.5px,#ffca00 219px,#fffc00 220.5px,#bdff00 222px,#5fff00 223.5px,#10ff00 224.5px,#00ff1c 225px,#00ffe6 227px,#00e3ff 227.5px,#0082ff 228.5px,#0082ff 229px,#00e3ff 230px,#00ffe5 230.5px,#00ff1a 232.5px,#13ff00 233px,#85ff00 234.5px,#dcff00 236px,#f4ff00 236.5px,#fff500 237px,#ffb400 239px,#ff8500 241.5px,#ff6500 245.5px,#ff5b00 252px)"></i><i style="width:1px;background:linear-gradient(#ff4400 0px,#ff6d00 63.5px,#ff8c00 78px,#ffb400 84.5px,#fff400 89.5px,#f8ff00 90.5px,#a6ff00 94px,#31ff00 97.5px,#09ff00 98.5px,#00ff23 99.5px,#00ffd8 103px,#00fff4 103.5px,#00ecff 104px,#0000ff 108px,#0000ff 110px,#006fff 112px,#00e8ff 114px,#00fff9 114.5px,#00ff3f 118px,#04ff00 119.5px,#74ff00 122.5px,#d2ff00 126px,#fffc00 128.5px,#ffc600 133px,#ffab00 138.5px,#ffb100 145px,#ffd900 151px,#fcff00 154.5px,#abff00 159px,#3fff00 163px,#00ff06 165px,#00ff7f 168.5px,#00ffe4 172.5px,#00fff6 173px,#00f4ff 173.5px,#005eff 176.5px,#0000ff 178.5px,#0001ff 179px,#0062ff 181px,#00f1ff 183.5px,#00fff1 184px,#00ff3c 187.5px,#00ff0e 188.5px,#07ff00 189px,#88ff00 192.5px,#e6ff00 196px,#fff800 197.5px,#ffb400 202px,#ff8700 207.5px,#ff7e00 212.5px,#ff9400 216px,#ffc100 218.5px,#fcff00 220.5px,#b4ff00 222px,#52ff00 223.5px,#01ff00 224.5px,#00ff8f 226px,#00fff9 227px,#009eff 228px,#0077ff 228.5px,#0091ff 229px,#00f6ff 230px,#00ff9d 231px,#00ff09 232.5px,#4aff00 233.5px,#b0ff00 235px,#fcff00 236.5px,#ffb000 239px,#ff7d00 242px,#ff6100 246.5px,#ff5b00 252px)"></i><i style="width:1px;background:linear-gradient(#ff4400 0px,#ff6e00 63.5px,#ff8c00 78px,#ffb400 84.5px,#fff500 89.5px,#f7ff00 90.5px,#a5ff00 94px,#30ff00 97.5px,#07ff00 98.5px,#00ff25 99.5px,#00ffda 103px,#00fff7 103.5px,#00cbff 104.5px,#0018ff 107.5px,#0000ff 108px,#0000ff 110px,#00aeff 113px,#00eaff 114px,#00fff7 114.5px,#00ff3d 118px,#06ff00 119.5px,#74ff00 122.5px,#d2ff00 126px,#fffd00 128.5px,#ffc700 133px,#ffae00 138.5px,#ffb700 145px,#ffe300 151px,#fdff00 153.5px,#adff00 158px,#42ff00 162px,#00ff02 164px,#00ff7c 167.5px,#00ffe1 171.5px,#00f9ff 172.5px,#0080ff 175px,#0003ff 177.5px,#0000ff 178px,#0028ff 179px,#00ebff 182.5px,#00fff7 183px,#00ff41 186.5px,#02ff00 188px,#84ff00 191.5px,#e4ff00 195px,#fffb00 196.5px,#ffb500 201px,#ff8700 206.5px,#ff7b00 212px,#ff8f00 215.5px,#ffb800 218px,#fff400 220px,#f6ff00 220.5px,#abff00 222px,#46ff00 223.5px,#1eff00 224px,#00ff0d 224.5px,#00ffd5 226.5px,#00f4ff 227px,#008fff 228px,#0078ff 228.5px,#00d3ff 229.5px,#00fff5 230px,#00ff27 232px,#06ff00 232.5px,#7bff00 234px,#d5ff00 235.5px,#fffa00 236.5px,#ffb800 238.5px,#ff8700 241px,#ff6600 245px,#ff5b00 252px)"></i><i style="width:1px;background:linear-gradient(#ff4400 0px,#ff6e00 63.5px,#ff8c00 78px,#ffb500 84.5px,#fff600 89.5px,#f6ff00 90.5px,#a3ff00 94px,#2eff00 97.5px,#05ff00 98.5px,#00ff57 100.5px,#00fffa 103.5px,#0016ff 107.5px,#0000ff 108px,#0000ff 110px,#00ecff 114px,#00fff5 114.5px,#00ff3c 118px,#00ff0f 119px,#07ff00 119.5px,#75ff00 122.5px,#d2ff00 126px,#fffe00 128.5px,#ffc900 133px,#ffb100 138.5px,#ffbd00 145px,#ffed00 151px,#f6ff00 153px,#a4ff00 157.5px,#36ff00 161.5px,#02ff00 163px,#00ff79 166.5px,#00ffdd 170.5px,#00fdff 171.5px,#0086ff 174px,#0008ff 176.5px,#0000ff 177px,#000cff 177.5px,#008fff 180px,#00fffd 182px,#00ff46 185.5px,#00ff02 187px,#90ff00 191px,#f7ff00 195px,#fff300 196px,#ffb100 200.5px,#ff8200 206.5px,#ff7900 212px,#ff9000 215.5px,#ffbb00 218px,#fff900 220px,#d9ff00 221px,#83ff00 222.5px,#11ff00 224px,#00ff1b 224.5px,#00ffe5 226.5px,#00e3ff 227px,#0083ff 228px,#0083ff 228.5px,#00e4ff 229.5px,#00ffe4 230px,#00ff18 232px,#14ff00 232.5px,#86ff00 234px,#ddff00 235.5px,#f5ff00 236px,#ffe100 237px,#ff9d00 239.5px,#ff7500 242.5px,#ff5d00 248px,#ff5b00 252px)"></i><i style="width:1px;background:linear-gradient(#ff4400 0px,#ff6d00 63px,#ff8b00 77.5px,#ffb100 84px,#ffee00 89px,#feff00 90px,#a2ff00 94px,#2cff00 97.5px,#03ff00 98.5px,#00ff73 101px,#00fffd 103.5px,#0013ff 107.5px,#0000ff 108px,#0002ff 110px,#00eeff 114px,#00fff3 114.5px,#00ff3a 118px,#00ff0d 119px,#08ff00 119.5px,#75ff00 122.5px,#d1ff00 126px,#fffe00 128.5px,#ffcb00 133px,#ffb400 138.5px,#ffc100 144.5px,#ffed00 150px,#f7ff00 152px,#a5ff00 156.5px,#39ff00 160.5px,#05ff00 162px,#00ff85 166px,#00ffda 169.5px,#00fffc 170.5px,#00a6ff 172.5px,#000cff 175.5px,#0000ff 176px,#0008ff 176.5px,#006dff 178.5px,#00fbff 181px,#00ff34 185px,#00ff07 186px,#36ff00 187.5px,#abff00 191px,#ffff00 194.5px,#ffb800 199px,#ff8800 204.5px,#ff7600 210.5px,#ff8600 214.5px,#ffb200 217.5px,#ffeb00 219.5px,#ffff00 220px,#b7ff00 221.5px,#55ff00 223px,#04ff00 224px,#00ff59 225px,#00fff6 226.5px,#00a1ff 227.5px,#0078ff 228px,#0090ff 228.5px,#00f5ff 229.5px,#00ff9d 230.5px,#00ff0a 232px,#4aff00 233px,#b0ff00 234.5px,#fcff00 236px,#ffaf00 238.5px,#ff7d00 241.5px,#ff6100 246px,#ff5b00 252px)"></i><i style="width:1px;background:linear-gradient(#ff4400 0px,#ff6d00 63px,#ff8b00 77.5px,#ffb100 84px,#ffef00 89px,#fdff00 90px,#a0ff00 94px,#2aff00 97.5px,#01ff00 98.5px,#00ff90 101.5px,#00feff 103.5px,#0010ff 107.5px,#0000ff 108px,#0004ff 110px,#00f0ff 114px,#00fff0 114.5px,#00ff39 118px,#00ff0c 119px,#09ff00 119.5px,#76ff00 122.5px,#d1ff00 126px,#ffff00 128.5px,#ffcd00 133px,#ffb800 138.5px,#ffc800 144.5px,#fff900 150px,#f1ff00 151.5px,#9cff00 156px,#3bff00 159.5px,#08ff00 161px,#00ff1c 162px,#00ff82 165px,#00ffe7 169px,#00fff9 169.5px,#00dcff 170.5px,#0011ff 174.5px,#0000ff 175px,#0005ff 175.5px,#0068ff 177.5px,#00f6ff 180px,#00ffd1 181px,#00ff21 184.5px,#00ff0b 185px,#0aff00 185.5px,#8aff00 189px,#e7ff00 192.5px,#fdff00 193.5px,#ffb300 198.5px,#ff8200 204.5px,#ff7400 210.5px,#ff8600 214.5px,#ffaa00 217px,#ffdf00 219px,#faff00 220px,#afff00 221.5px,#4aff00 223px,#00ff09 224px,#00ffd1 226px,#00f7ff 226.5px,#0093ff 227.5px,#0077ff 228px,#009fff 228.5px,#00fff8 229.5px,#00ff29 231.5px,#04ff00 232px,#7aff00 233.5px,#d4ff00 235px,#fffb00 236px,#ffb800 238px,#ff8700 240.5px,#ff6600 244.5px,#ff5b00 252px)"></i><i style="width:1px;background:linear-gradient(#ff4400 0px,#ff6d00 63px,#ff8b00 77.5px,#ffb200 84px,#fff000 89px,#fcff00 90px,#9fff00 94px,#28ff00 97.5px,#00ff02 98.5px,#00ff93 101.5px,#00fbff 103.5px,#000dff 107.5px,#0000ff 108px,#0006ff 110px,#00f3ff 114px,#00ffee 114.5px,#00ff37 118px,#00ff0b 119px,#0aff00 119.5px,#76ff00 122.5px,#d1ff00 126px,#feff00 128.5px,#ffcc00 133.5px,#ffbc00 139px,#ffd300 145px,#ffff00 149.5px,#b3ff00 154px,#4eff00 158px,#0cff00 160px,#00ff06 160.5px,#00ff80 164px,#00ffe4 168px,#00f5ff 169px,#0060ff 172px,#0001ff 174px,#0002ff 174.5px,#0063ff 176.5px,#00f1ff 179px,#00fff1 179.5px,#00ff3d 183px,#06ff00 184.5px,#87ff00 188px,#e5ff00 191.5px,#fff900 193px,#ffb400 197.5px,#ff8300 203.5px,#ff7200 210px,#ff8200 214px,#ffac00 217px,#ffe300 219px,#fff600 219.5px,#f4ff00 220px,#a6ff00 221.5px,#3eff00 223px,#16ff00 223.5px,#00ff17 224px,#00ffe1 226px,#00e7ff 226.5px,#0086ff 227.5px,#0081ff 228px,#00e1ff 229px,#00ffe7 229.5px,#00ff1a 231.5px,#12ff00 232px,#85ff00 233.5px,#ddff00 235px,#f4ff00 235.5px,#fff400 236px,#ffb400 238px,#ff8500 240.5px,#ff6500 244.5px,#ff5b00 252px)"></i><i style="width:1px;background:linear-gradient(#ff4400 0px,#ff6d00 63px,#ff8b00 77.5px,#ffb200 84px,#fff100 89px,#fbff00 90px,#abff00 93.5px,#39ff00 97px,#00ff04 98.5px,#00ff96 101.5px,#00ffe9 103px,#00f8ff 103.5px,#000aff 107.5px,#0000ff 108.5px,#0000ff 109.5px,#0008ff 110px,#00f5ff 114px,#00ffec 114.5px,#00ff36 118px,#00ff09 119px,#1fff00 120px,#94ff00 123.5px,#e4ff00 127px,#fffa00 129px,#ffce00 133.5px,#ffc100 139px,#ffd700 144.5px,#ffff00 148.5px,#b5ff00 153px,#50ff00 157px,#00ff03 159.5px,#00ff7d 163px,#00ffe1 167px,#00f9ff 168px,#0080ff 170.5px,#0005ff 173px,#0000ff 173.5px,#0043ff 175px,#00ebff 178px,#00fff6 178.5px,#00ff41 182px,#02ff00 183.5px,#84ff00 187px,#e3ff00 190.5px,#fffb00 192px,#ffb600 196.5px,#ff8300 202.5px,#ff7000 209px,#ff7e00 213.5px,#ffa400 216.5px,#ffd700 218.5px,#fffb00 219.5px,#d5ff00 220.5px,#7dff00 222px,#09ff00 223.5px,#00ff24 224px,#00fff2 226px,#00d7ff 226.5px,#007bff 227.5px,#008eff 228px,#00f2ff 229px,#00ffd6 229.5px,#00ff0c 231.5px,#20ff00 232px,#90ff00 233.5px,#e5ff00 235px,#fbff00 235.5px,#ffb000 238px,#ff7d00 241px,#ff6100 245.5px,#ff5b00 252px)"></i><i style="width:1px;background:linear-gradient(#ff4400 0px,#ff6d00 63px,#ff8b00 77.5px,#ffb300 84px,#fff200 89px,#f0ff00 90.5px,#9cff00 94px,#23ff00 97.5px,#00ff06 98.5px,#00ff98 101.5px,#00ffec 103px,#00f5ff 103.5px,#0007ff 107.5px,#0000ff 109px,#0000ff 109.5px,#000aff 110px,#00f7ff 114px,#00ffcd 115px,#00ff34 118px,#00ff08 119px,#20ff00 120px,#94ff00 123.5px,#e3ff00 127px,#fffb00 129px,#ffd100 133.5px,#ffc600 139px,#ffe000 144.5px,#ffff00 147.5px,#b6ff00 152px,#52ff00 156px,#00ff00 158.5px,#00ff7b 162px,#00ffde 166px,#00fdff 167px,#0085ff 169.5px,#0009ff 172px,#0000ff 172.5px,#0025ff 173.5px,#00fffb 177.5px,#00ff45 181px,#00ff02 182.5px,#81ff00 186px,#e1ff00 189.5px,#fffd00 191px,#ffb700 195.5px,#ff8300 201.5px,#ff6e00 208.5px,#ff7a00 213px,#ff9d00 216px,#ffdb00 218.5px,#fdff00 219.5px,#b3ff00 221px,#4eff00 222.5px,#00ff04 223.5px,#00ffcc 225.5px,#00fcff 226px,#0096ff 227px,#0075ff 227.5px,#009cff 228px,#00fffb 229px,#00ff2c 231px,#02ff00 231.5px,#79ff00 233px,#d3ff00 234.5px,#fffc00 235.5px,#ffb800 237.5px,#ff8700 240px,#ff6600 244px,#ff5b00 252px)"></i><i style="width:1px;background:linear-gradient(#ff4400 0px,#ff6d00 62.5px,#ff8a00 77px,#ffb300 84px,#fff300 89px,#f9ff00 90px,#a8ff00 93.5px,#35ff00 97px,#0cff00 98px,#00ff09 98.5px,#00ff9c 101.5px,#00fff0 103px,#00f1ff 103.5px,#0004ff 107.5px,#0000ff 109.5px,#000dff 110px,#00f9ff 114px,#00ff33 118px,#00ff07 119px,#34ff00 120.5px,#a1ff00 124px,#ebff00 127.5px,#fffd00 129px,#ffd400 133.5px,#ffcb00 138.5px,#ffe600 144px,#feff00 146.5px,#b7ff00 151px,#54ff00 155px,#02ff00 157.5px,#00ff86 161.5px,#00ffdb 165px,#00fffe 166px,#00a5ff 168px,#000cff 171px,#0000ff 171.5px,#000bff 172px,#008cff 174.5px,#00feff 176.5px,#00ff32 180.5px,#00ff06 181.5px,#7eff00 185px,#deff00 188.5px,#ffff00 190px,#ffb800 194.5px,#ff8400 200.5px,#ff6c00 208px,#ff7b00 213px,#ff9f00 216px,#ffe000 218.5px,#f7ff00 219.5px,#aaff00 221px,#43ff00 222.5px,#1aff00 223px,#00ff12 223.5px,#00ffdc 225.5px,#00ecff 226px,#0089ff 227px,#007fff 227.5px,#00deff 228.5px,#00ffea 229px,#00ff1d 231px,#10ff00 231.5px,#83ff00 233px,#dbff00 234.5px,#f3ff00 235px,#fff500 235.5px,#ffb400 237.5px,#ff8500 240px,#ff6500 244px,#ff5b00 252px)"></i><i style="width:1px;background:linear-gradient(#ff4400 0px,#ff6d00 62.5px,#ff8a00 77px,#ffb400 84px,#fff400 89px,#f8ff00 90px,#a6ff00 93.5px,#33ff00 97px,#0aff00 98px,#00ff0b 98.5px,#00ff9f 101.5px,#00fff3 103px,#00eeff 103.5px,#0001ff 107.5px,#0000ff 109.5px,#000fff 110px,#00fcff 114px,#00ff32 118px,#00ff06 119px,#68ff00 122px,#c4ff00 125.5px,#ffff00 129px,#ffd700 133.5px,#ffd100 138.5px,#ffec00 143.5px,#f8ff00 146px,#adff00 150.5px,#47ff00 154.5px,#05ff00 156.5px,#00ff84 160.5px,#00ffe8 164.5px,#00fffa 165px,#00daff 166px,#0010ff 170px,#0000ff 170.5px,#0008ff 171px,#006bff 173px,#00f9ff 175.5px,#00ff7f 178px,#00ff0a 180.5px,#20ff00 181.5px,#9aff00 185px,#fdff00 189px,#ffb300 194px,#ff8200 200px,#ff6b00 207.5px,#ff7700 212.5px,#ff9800 215.5px,#ffd400 218px,#fff800 219px,#d9ff00 220px,#81ff00 221.5px,#0eff00 223px,#00ff1f 223.5px,#00ffec 225.5px,#00dcff 226px,#007eff 227px,#008aff 227.5px,#00eeff 228.5px,#00ffda 229px,#00ff0f 231px,#1dff00 231.5px,#8dff00 233px,#e3ff00 234.5px,#faff00 235px,#ffb000 237.5px,#ff7d00 240.5px,#ff6100 245px,#ff5b00 252px)"></i><i style="width:1px;background:linear-gradient(#ff4400 0px,#ff6d00 62.5px,#ff8a00 77px,#ffb000 83.5px,#ffed00 88.5px,#fffe00 89.5px,#b2ff00 93px,#43ff00 96.5px,#08ff00 98px,#00ff25 99px,#00ffda 102.5px,#00fff6 103px,#00ccff 104px,#0018ff 107px,#0000ff 107.5px,#0000ff 109.5px,#0011ff 110px,#00feff 114px,#00ff47 117.5px,#00ff05 119px,#86ff00 123px,#d7ff00 126.5px,#fdff00 129px,#ffd900 134px,#ffd900 139px,#fdff00 144.5px,#b8ff00 149px,#58ff00 153px,#08ff00 155.5px,#00ff1d 156.5px,#00ff82 159.5px,#00ffe5 163.5px,#00fff7 164px,#00f3ff 164.5px,#005fff 167.5px,#0001ff 169.5px,#0005ff 170px,#0067ff 172px,#00f4ff 174.5px,#00ffee 175px,#00ff3a 178.5px,#00ff0e 179.5px,#08ff00 180px,#88ff00 183.5px,#e5ff00 187px,#fff900 188.5px,#ffb500 193px,#ff8200 199px,#ff6a00 207px,#ff7400 212px,#ff9200 215px,#ffc800 217.5px,#fffd00 219px,#b7ff00 220.5px,#53ff00 222px,#01ff00 223px,#00ff91 224.5px,#00fffc 225.5px,#009bff 226.5px,#0075ff 227px,#0097ff 227.5px,#00feff 228.5px,#00ff30 230.5px,#00ff02 231px,#76ff00 232.5px,#d1ff00 234px,#fffd00 235px,#ffb900 237px,#ff8800 239.5px,#ff6600 243.5px,#ff5b00 252px)"></i><i style="width:1px;background:linear-gradient(#ff4400 0px,#ff6d00 62.5px,#ff8b00 77px,#ffb100 83.5px,#ffee00 88.5px,#ffff00 89.5px,#a3ff00 93.5px,#2eff00 97px,#05ff00 98px,#00ff3f 99.5px,#00fffa 103px,#0015ff 107px,#0000ff 107.5px,#0000ff 109.5px,#0030ff 110.5px,#00fffe 114px,#00ff46 117.5px,#00ff04 119px,#86ff00 123px,#d5ff00 126.5px,#fffd00 129.5px,#ffdd00 134px,#ffe000 139px,#fcff00 143.5px,#b9ff00 148px,#5aff00 152px,#0aff00 154.5px,#00ff08 155px,#00ff80 158.5px,#00ffe3 162.5px,#00f7ff 163.5px,#007eff 166px,#0018ff 168px,#0005ff 168.5px,#0003ff 169px,#0062ff 171px,#00efff 173.5px,#00fff3 174px,#00ff3f 177.5px,#04ff00 179px,#85ff00 182.5px,#e3ff00 186px,#fffb00 187.5px,#ffb600 192px,#ff8300 198px,#ff6900 206px,#ff7200 211.5px,#ff9400 215px,#ffcc00 217.5px,#fbff00 219px,#afff00 220.5px,#48ff00 222px,#20ff00 222.5px,#00ff0c 223px,#00ffd5 225px,#00f3ff 225.5px,#008eff 226.5px,#007bff 227px,#00d8ff 228px,#00fff0 228.5px,#00ff22 230.5px,#0bff00 231px,#80ff00 232.5px,#d9ff00 234px,#f1ff00 234.5px,#fff700 235px,#ffb500 237px,#ff8600 239.5px,#ff6500 243.5px,#ff5b00 252px)"></i><i style="width:1px;background:linear-gradient(#ff4400 0px,#ff6c00 62px,#ff8900 76.5px,#ffb100 83.5px,#ffef00 88.5px,#feff00 89.5px,#a1ff00 93.5px,#2bff00 97px,#02ff00 98px,#00ff73 100.5px,#00fffe 103px,#0011ff 107px,#0000ff 107.5px,#0000ff 109.5px,#0050ff 111px,#00fffb 114px,#00ff44 117.5px,#00ff03 119px,#77ff00 122.5px,#cbff00 126px,#feff00 129.5px,#ffe200 134px,#ffe800 139px,#fbff00 142.5px,#b9ff00 147px,#5cff00 151px,#00ff05 154px,#00ff7e 157.5px,#00ffe0 161.5px,#00fbff 162.5px,#0083ff 165px,#0008ff 167.5px,#0000ff 168px,#0043ff 169.5px,#00eaff 172.5px,#00fff8 173px,#00ff43 176.5px,#00ff00 178px,#82ff00 181.5px,#e1ff00 185px,#fffd00 186.5px,#ffb700 191px,#ff8300 197px,#ff6800 205.5px,#ff7200 211.5px,#ff9600 215px,#ffd000 217.5px,#fff400 218.5px,#f5ff00 219px,#a7ff00 220.5px,#3eff00 222px,#14ff00 222.5px,#00ff18 223px,#00ffe5 225px,#00e3ff 225.5px,#0083ff 226.5px,#0086ff 227px,#00e7ff 228px,#00ffe0 228.5px,#00ff14 230.5px,#18ff00 231px,#8aff00 232.5px,#e1ff00 234px,#f8ff00 234.5px,#ffcd00 236px,#ff9200 238.5px,#ff6c00 242px,#ff5b00 248.5px,#ff5b00 252px)"></i><i style="width:1px;background:linear-gradient(#ff4400 0px,#ff6d00 62px,#ff8a00 76.5px,#ffb200 83.5px,#fff000 88.5px,#fdff00 89.5px,#9fff00 93.5px,#29ff00 97px,#00ff00 98px,#00ff91 101px,#00fdff 103px,#000dff 107px,#0000ff 107.5px,#0000ff 109.5px,#00acff 112.5px,#00fff9 114px,#00ff43 117.5px,#00ff02 119px,#77ff00 122.5px,#c9ff00 126px,#fbff00 129.5px,#ffe600 134.5px,#fff400 139.5px,#f9ff00 141.5px,#baff00 146px,#5eff00 150px,#00ff02 153px,#00ff7c 156.5px,#00ffdd 160.5px,#00feff 161.5px,#0088ff 164px,#000cff 166.5px,#0000ff 167px,#0025ff 168px,#00fffd 172px,#00ff47 175.5px,#00ff04 177px,#8eff00 181px,#f5ff00 185px,#ffff00 185.5px,#ffb800 190px,#ff8400 196px,#ff6700 204.5px,#ff6f00 211px,#ff9000 214.5px,#ffc500 217px,#fff900 218.5px,#d7ff00 219.5px,#7eff00 221px,#08ff00 222.5px,#00ff25 223px,#00fff4 225px,#00d5ff 225.5px,#0079ff 226.5px,#0091ff 227px,#00f7ff 228px,#00ff9b 229px,#00ff07 230.5px,#72ff00 232px,#ceff00 233.5px,#feff00 234.5px,#ffba00 236.5px,#ff8800 239px,#ff6600 243px,#ff5b00 251.5px,#ff5b00 252px)"></i><i style="width:1px;background:linear-gradient(#ff4400 0px,#ff6d00 62px,#ff8a00 76.5px,#ffb200 83.5px,#fff100 88.5px,#fbff00 89.5px,#9eff00 93.5px,#26ff00 97px,#00ff03 98px,#00ff94 101px,#00f9ff 103px,#000aff 107px,#0000ff 108px,#0000ff 109.5px,#00eaff 113.5px,#00fff7 114px,#00ff59 117px,#00ff01 119px,#77ff00 122.5px,#c8ff00 126px,#fdff00 130px,#ffec00 135px,#fbff00 140px,#c2ff00 144.5px,#6dff00 148.5px,#00ff00 152px,#00ff79 155.5px,#00ffea 160px,#00fffc 160.5px,#00a7ff 162.5px,#0010ff 165.5px,#0000ff 166px,#0021ff 167px,#00fcff 171px,#00ff34 175px,#00ff08 176px,#21ff00 177px,#9aff00 180.5px,#fdff00 184.5px,#ffb400 189.5px,#ff8200 195.5px,#ff6600 204px,#ff6d00 210.5px,#ff8a00 214px,#ffbb00 216.5px,#fffe00 218.5px,#b5ff00 220px,#50ff00 221.5px,#00ff03 222.5px,#00ffcc 224.5px,#00fcff 225px,#0095ff 226px,#0077ff 226.5px,#009eff 227px,#00fff8 228px,#00ff29 230px,#05ff00 230.5px,#7bff00 232px,#d6ff00 233.5px,#fffa00 234.5px,#ffb700 236.5px,#ff8600 239px,#ff6600 243px,#ff5b00 252px)"></i><i style="width:1px;background:linear-gradient(#ff4400 0px,#ff6c00 61.5px,#ff8800 76px,#ffaf00 83px,#ffea00 88px,#faff00 89.5px,#aaff00 93px,#37ff00 96.5px,#00ff06 98px,#00ff98 101px,#00ffec 102.5px,#00f5ff 103px,#0006ff 107px,#0000ff 109px,#0002ff 109.5px,#00ecff 113.5px,#00fff5 114px,#00ff58 117px,#00ff01 119px,#76ff00 122.5px,#c6ff00 126px,#f9ff00 130px,#fff400 135.5px,#f9ff00 139px,#c2ff00 143.5px,#6eff00 147.5px,#03ff00 151px,#00ff85 155px,#00ffe7 159px,#00fff9 159.5px,#00dcff 160.5px,#0014ff 164.5px,#0002ff 165px,#0008ff 165.5px,#006aff 167.5px,#00f7ff 170px,#00ffd0 171px,#00ff22 174.5px,#09ff00 175.5px,#88ff00 179px,#f0ff00 183px,#fff900 184px,#ffb500 188.5px,#ff8300 194.5px,#ff6500 203.5px,#ff6d00 210.5px,#ff8c00 214px,#ffbe00 216.5px,#faff00 218.5px,#adff00 220px,#46ff00 221.5px,#1dff00 222px,#00ff0f 222.5px,#00ffda 224.5px,#00edff 225px,#008aff 226px,#007fff 226.5px,#00deff 227.5px,#00ffea 228px,#00ff1c 230px,#11ff00 230.5px,#85ff00 232px,#ddff00 233.5px,#f5ff00 234px,#fff400 234.5px,#ffb300 236.5px,#ff8400 239px,#ff6500 243px,#ff5c00 252px)"></i><i style="width:1px;background:linear-gradient(#ff4400 0px,#ff6c00 61.5px,#ff8900 76px,#ffaf00 83px,#ffeb00 88px,#f9ff00 89.5px,#a8ff00 93px,#35ff00 96.5px,#0cff00 97.5px,#00ff09 98px,#00ff9c 101px,#00fff0 102.5px,#00f1ff 103px,#0002ff 107px,#0004ff 109.5px,#00efff 113.5px,#00fff3 114px,#00ff57 117px,#00ff00 119px,#67ff00 122px,#baff00 125.5px,#f1ff00 129.5px,#fffc00 132.5px,#f9ff00 137.5px,#c9ff00 142px,#7bff00 146px,#17ff00 149.5px,#06ff00 150px,#00ff83 154px,#00ffe4 158px,#00f6ff 159px,#0063ff 162px,#0005ff 164px,#0005ff 164.5px,#0065ff 166.5px,#00f1ff 169px,#00fff1 169.5px,#00ff3d 173px,#05ff00 174.5px,#85ff00 178px,#eeff00 182px,#fffc00 183px,#ffb600 187.5px,#ff8300 193.5px,#ff6500 202.5px,#ff6b00 210px,#ff8600 213.5px,#ffb400 216px,#fff400 218px,#f5ff00 218.5px,#a6ff00 220px,#3cff00 221.5px,#12ff00 222px,#00ff1b 222.5px,#00ffe8 224.5px,#00e0ff 225px,#0080ff 226px,#0089ff 226.5px,#00ecff 227.5px,#00ffdb 228px,#00ff10 230px,#1cff00 230.5px,#8eff00 232px,#e4ff00 233.5px,#fbff00 234px,#ffb000 236.5px,#ff7d00 239.5px,#ff6100 244px,#ff5c00 252px)"></i><i style="width:1px;background:linear-gradient(#ff4400 0px,#ff6c00 61.5px,#ff8900 76px,#ffb000 83px,#ffec00 88px,#fffd00 89px,#b3ff00 92.5px,#45ff00 96px,#0aff00 97.5px,#00ff0c 98px,#00ff9f 101px,#00fff4 102.5px,#00edff 103px,#0000ff 107px,#0000ff 109px,#0006ff 109.5px,#00f1ff 113.5px,#00fff1 114px,#00ff55 117px,#00ff00 119px,#66ff00 122px,#b8ff00 125.5px,#ecff00 129.5px,#fdff00 133.5px,#eaff00 138px,#b8ff00 142px,#63ff00 146px,#08ff00 149px,#00ff1c 150px,#00ff81 153px,#00ffe2 157px,#00f9ff 158px,#0082ff 160.5px,#0008ff 163px,#0003ff 163.5px,#0045ff 165px,#00ecff 168px,#00fff6 168.5px,#00ff42 172px,#01ff00 173.5px,#82ff00 177px,#e1ff00 180.5px,#fffe00 182px,#ffb800 186.5px,#ff8400 192.5px,#ff6500 201.5px,#ff6900 209.5px,#ff8700 213.5px,#ffb700 216px,#fff900 218px,#d7ff00 219px,#7dff00 220.5px,#07ff00 222px,#00ff26 222.5px,#00fff6 224.5px,#00a0ff 225.5px,#0078ff 226px,#0094ff 226.5px,#00faff 227.5px,#00ff04 230px,#96ff00 232px,#eaff00 233.5px,#fffe00 234px,#ffb900 236px,#ff8800 238.5px,#ff6600 242.5px,#ff5b00 251px,#ff5c00 252px)"></i><i style="width:1px;background:linear-gradient(#ff4400 0px,#ff6c00 61px,#ff8800 75.5px,#ffac00 82.5px,#ffe600 87.5px,#ffff00 89px,#b2ff00 92.5px,#42ff00 96px,#07ff00 97.5px,#00ff26 98.5px,#00ffdb 102px,#00fff8 102.5px,#00cbff 103.5px,#0016ff 106.5px,#0000ff 107px,#0000ff 109px,#0009ff 109.5px,#00f3ff 113.5px,#00ffef 114px,#00ff54 117px,#01ff00 119px,#65ff00 122px,#b5ff00 125.5px,#e3ff00 129px,#f5ff00 133px,#e2ff00 137.5px,#aeff00 141.5px,#56ff00 145.5px,#0aff00 148px,#00ff08 148.5px,#00ff7f 152px,#00ffdf 156px,#00fcff 157px,#0087ff 159.5px,#000cff 162px,#0001ff 162.5px,#0041ff 164px,#00fffa 167.5px,#00ff46 171px,#00ff03 172.5px,#8fff00 176.5px,#f5ff00 180.5px,#fff600 181.5px,#ffad00 186.5px,#ff7c00 193px,#ff6200 203px,#ff6b00 210px,#ff8900 213.5px,#ffba00 216px,#fffe00 218px,#b5ff00 219.5px,#50ff00 221px,#00ff03 222px,#00fbff 224.5px,#0095ff 225.5px,#0077ff 226px,#009fff 226.5px,#00fff7 227.5px,#00ff27 229.5px,#07ff00 230px,#7dff00 231.5px,#d7ff00 233px,#fff800 234px,#ffb600 236px,#ff8600 238.5px,#ff6500 242.5px,#ff5c00 251.5px,#ff5c00 252px)"></i><i style="width:1px;background:linear-gradient(#ff4400 0px,#ff6c00 61px,#ff8800 75.5px,#ffad00 82.5px,#ffe700 87.5px,#feff00 89px,#a2ff00 93px,#2cff00 96.5px,#04ff00 97.5px,#00ff72 100px,#00fffc 102.5px,#0011ff 106.5px,#0000ff 107px,#0000ff 109px,#000bff 109.5px,#00f5ff 113.5px,#00ffd1 114.5px,#00ff3d 117.5px,#01ff00 119px,#64ff00 122px,#b2ff00 125.5px,#deff00 129px,#edff00 133px,#daff00 137px,#a4ff00 141px,#57ff00 144.5px,#0bff00 147px,#00ff06 147.5px,#00ff7e 151px,#00ffdd 155px,#00ffff 156px,#008bff 158.5px,#000fff 161px,#0000ff 161.5px,#0025ff 162.5px,#00ffff 166.5px,#00ff49 170px,#00ff06 171.5px,#5bff00 174px,#c4ff00 177.5px,#fdff00 180px,#ffb400 185px,#ff8200 191px,#ff6400 200.5px,#ff6700 209px,#ff8400 213px,#ffb000 215.5px,#fcff00 218px,#afff00 219.5px,#47ff00 221px,#1eff00 221.5px,#00ff0e 222px,#00ffd9 224px,#00efff 224.5px,#008bff 225.5px,#007fff 226px,#00deff 227px,#00ffea 227.5px,#00ff1c 229.5px,#11ff00 230px,#85ff00 231.5px,#ddff00 233px,#f5ff00 233.5px,#ffe000 234.5px,#ffa700 236.5px,#ff7900 239.5px,#ff5f00 244.5px,#ff5c00 252px)"></i><i style="width:1px;background:linear-gradient(#ff4400 0px,#ff6c00 61px,#ff8700 75px,#ffaa00 82px,#ffe000 87px,#fdff00 89px,#a0ff00 93px,#2aff00 96.5px,#00ff00 97.5px,#00ff90 100.5px,#00feff 102.5px,#000dff 106.5px,#0000ff 107px,#0000ff 109px,#000dff 109.5px,#00f7ff 113.5px,#00ffcf 114.5px,#00ff3d 117.5px,#01ff00 119px,#63ff00 122px,#afff00 125.5px,#d9ff00 129px,#e4ff00 133px,#ccff00 137px,#90ff00 141px,#3bff00 144.5px,#00ff05 146.5px,#00ff7c 150px,#00ffeb 154.5px,#00fffc 155px,#00a8ff 157px,#0012ff 160px,#0001ff 160.5px,#0022ff 161.5px,#00fcff 165.5px,#00ff1f 170px,#00ff09 170.5px,#20ff00 171.5px,#99ff00 175px,#fbff00 179px,#ffaf00 184.5px,#ff7d00 191px,#ff6200 201px,#ff6700 209px,#ff8500 213px,#ffb200 215.5px,#fff200 217.5px,#f7ff00 218px,#a8ff00 219.5px,#3fff00 221px,#15ff00 221.5px,#00ff18 222px,#00ffe5 224px,#00e3ff 224.5px,#0082ff 225.5px,#0087ff 226px,#00eaff 227px,#00ffdd 227.5px,#00ff11 229.5px,#1bff00 230px,#8dff00 231.5px,#e3ff00 233px,#fbff00 233.5px,#ffb000 236px,#ff7d00 239px,#ff6100 243.5px,#ff5c00 252px)"></i><i style="width:1px;background:linear-gradient(#ff4400 0px,#ff6c00 60.5px,#ff8700 75px,#ffaa00 82px,#ffe200 87px,#fbff00 89px,#9eff00 93px,#27ff00 96.5px,#00ff03 97.5px,#00ff94 100.5px,#00f9ff 102.5px,#0008ff 106.5px,#0000ff 107.5px,#0000ff 109px,#000fff 109.5px,#00f9ff 113.5px,#00ff81 116px,#00ff00 119px,#61ff00 122px,#abff00 125.5px,#d2ff00 129px,#daff00 133px,#bdff00 137px,#7aff00 141px,#1dff00 144.5px,#00ff04 145.5px,#00ff89 149.5px,#00ffe9 153.5px,#00fffa 154px,#00dbff 155px,#0015ff 159px,#0003ff 159.5px,#000aff 160px,#006cff 162px,#00f8ff 164.5px,#00ffb5 166px,#00ff0c 169.5px,#09ff00 170px,#87ff00 173.5px,#efff00 177.5px,#fffa00 178.5px,#ffb600 183px,#ff8300 189px,#ff6400 198.5px,#ff6400 208px,#ff8000 212.5px,#ffa900 215px,#ffe300 217px,#fff600 217.5px,#f2ff00 218px,#a2ff00 219.5px,#36ff00 221px,#0cff00 221.5px,#00ff21 222px,#00fff1 224px,#00d7ff 224.5px,#007aff 225.5px,#0090ff 226px,#00f6ff 227px,#00ff9c 228px,#00ff07 229.5px,#72ff00 231px,#cfff00 232.5px,#ffff00 233.5px,#ffba00 235.5px,#ff8800 238px,#ff6600 242px,#ff5c00 250.5px,#ff5c00 252px)"></i><i style="width:1px;background:linear-gradient(#ff4400 0px,#ff6c00 60.5px,#ff8600 74.5px,#ffab00 82px,#ffe300 87px,#faff00 89px,#a9ff00 92.5px,#37ff00 96px,#00ff06 97.5px,#00ff98 100.5px,#00ffec 102px,#00f5ff 102.5px,#0004ff 106.5px,#0000ff 109px,#0011ff 109.5px,#00fbff 113.5px,#00ff3c 117.5px,#00ff00 119px,#5fff00 122px,#a7ff00 125.5px,#cbff00 129px,#cfff00 133px,#acff00 137px,#6dff00 140.5px,#00ff03 144.5px,#00ff88 148.5px,#00ffe7 152.5px,#00fff8 153px,#00deff 154px,#0018ff 158px,#0005ff 158.5px,#0008ff 159px,#0068ff 161px,#00f4ff 163.5px,#00ffee 164px,#00ff3c 167.5px,#06ff00 169px,#85ff00 172.5px,#eeff00 176.5px,#fffc00 177.5px,#ffb700 182px,#ff8400 188px,#ff6400 197.5px,#ff6300 207.5px,#ff7b00 212px,#ffab00 215px,#ffe600 217px,#fffa00 217.5px,#d5ff00 218.5px,#7aff00 220px,#03ff00 221.5px,#00ff5c 222.5px,#00fffc 224px,#009bff 225px,#0075ff 225.5px,#0099ff 226px,#00fffd 227px,#00ff2c 229px,#02ff00 229.5px,#7aff00 231px,#d5ff00 232.5px,#fffa00 233.5px,#ffb700 235.5px,#ff8600 238px,#ff6600 242px,#ff5c00 251px,#ff5d00 252px)"></i><i style="width:1px;background:linear-gradient(#ff4400 0px,#ff6b00 60px,#ff8600 74.5px,#ffac00 82px,#ffe400 87px,#fffd00 88.5px,#b5ff00 92px,#47ff00 95.5px,#0cff00 97px,#00ff09 97.5px,#00ff9c 100.5px,#00fff0 102px,#00f0ff 102.5px,#0000ff 106.5px,#0000ff 109px,#0030ff 110px,#00fcff 113.5px,#00ff52 117px,#00ff01 119px,#69ff00 122.5px,#a9ff00 126px,#c6ff00 129.5px,#c0ff00 133.5px,#9aff00 137px,#54ff00 140.5px,#00ff03 143.5px,#00ff87 147.5px,#00ffe6 151.5px,#00f5ff 152.5px,#007fff 155px,#001bff 157px,#0007ff 157.5px,#0006ff 158px,#0065ff 160px,#00f0ff 162.5px,#00fff2 163px,#00ff3f 166.5px,#03ff00 168px,#83ff00 171.5px,#ecff00 175.5px,#fffd00 176.5px,#ffb800 181px,#ff8400 187px,#ff6400 196.5px,#ff6200 207.5px,#ff7c00 212px,#ffad00 215px,#ffe900 217px,#fffe00 217.5px,#b5ff00 219px,#4fff00 220.5px,#00ff05 221.5px,#00ffcf 223.5px,#00f8ff 224px,#0092ff 225px,#0079ff 225.5px,#00d6ff 226.5px,#00fff2 227px,#00ff23 229px,#0bff00 229.5px,#81ff00 231px,#daff00 232.5px,#f2ff00 233px,#fff600 233.5px,#ffb400 235.5px,#ff8500 238px,#ff6500 242px,#ff5c00 251px,#ff5d00 252px)"></i><i style="width:1px;background:linear-gradient(#ff4400 0px,#ff6b00 60px,#ff8600 74.5px,#ffad00 82px,#ffe500 87px,#fffe00 88.5px,#b3ff00 92px,#44ff00 95.5px,#09ff00 97px,#00ff23 98px,#00ffbc 101px,#00fff5 102px,#00ebff 102.5px,#0017ff 106px,#0000ff 106.5px,#0000ff 109px,#004fff 110.5px,#00feff 113.5px,#00ff52 117px,#00ff02 119px,#65ff00 122.5px,#a3ff00 126px,#bcff00 129.5px,#b5ff00 133px,#8eff00 136.5px,#46ff00 140px,#00ff03 142.5px,#00ff87 146.5px,#00ffe4 150.5px,#00f7ff 151.5px,#0082ff 154px,#000aff 156.5px,#0004ff 157px,#0047ff 158.5px,#00edff 161.5px,#00fff5 162px,#00ff42 165.5px,#00ff00 167px,#81ff00 170.5px,#ebff00 174.5px,#ffff00 175.5px,#ffb900 180px,#ff8500 186px,#ff6400 195.5px,#ff6100 207px,#ff7800 211.5px,#ffa300 214.5px,#ffda00 216.5px,#fdff00 217.5px,#b0ff00 219px,#48ff00 220.5px,#1fff00 221px,#00ff0d 221.5px,#00ffd9 223.5px,#00eeff 224px,#008aff 225px,#007fff 225.5px,#00dfff 226.5px,#00ffe8 227px,#00ff1a 229px,#13ff00 229.5px,#87ff00 231px,#dfff00 232.5px,#f7ff00 233px,#ffdf00 234px,#ffa600 236px,#ff7800 239px,#ff5f00 244px,#ff5d00 252px)"></i><i style="width:1px;background:linear-gradient(#ff4400 0px,#ff6b00 59.5px,#ff8500 74px,#ffa900 81.5px,#ffdf00 86.5px,#feff00 88.5px,#a3ff00 92.5px,#2eff00 96px,#05ff00 97px,#00ff3e 98.5px,#00fffa 102px,#006cff 104.5px,#0012ff 106px,#0000ff 106.5px,#0000ff 109px,#00ffff 113.5px,#00ff68 116.5px,#00ff04 119px,#62ff00 122.5px,#9dff00 126px,#b2ff00 129.5px,#a7ff00 133px,#7aff00 136.5px,#2aff00 140px,#00ff03 141.5px,#00ff86 145.5px,#00ffe3 149.5px,#00f9ff 150.5px,#0085ff 153px,#000cff 155.5px,#0002ff 156px,#0043ff 157.5px,#00fff9 161px,#00ff46 164.5px,#00ff03 166px,#8eff00 170px,#f4ff00 174px,#fff700 175px,#ffae00 180px,#ff7d00 186.5px,#ff6100 197px,#ff6200 207.5px,#ff7d00 212px,#ffa500 214.5px,#ffdd00 216.5px,#f9ff00 217.5px,#abff00 219px,#42ff00 220.5px,#18ff00 221px,#00ff14 221.5px,#00ffe2 223.5px,#00e5ff 224px,#0084ff 225px,#0086ff 225.5px,#00e8ff 226.5px,#00ffdf 227px,#00ff12 229px,#1bff00 229.5px,#8dff00 231px,#e3ff00 232.5px,#fbff00 233px,#ffaf00 235.5px,#ff8200 238px,#ff6400 242px,#ff5c00 251px,#ff5d00 252px)"></i><i style="width:1px;background:linear-gradient(#ff4400 0px,#ff6b00 59.5px,#ff8500 74px,#ffaa00 81.5px,#ffe000 86.5px,#fdff00 88.5px,#a1ff00 92.5px,#2cff00 96px,#03ff00 97px,#00ff72 99.5px,#00fffc 102px,#0010ff 106px,#0000ff 106.5px,#0002ff 109px,#00fffb 113.5px,#00ff66 116.5px,#00ff04 119px,#5eff00 122.5px,#96ff00 126px,#a8ff00 129.5px,#97ff00 133px,#64ff00 136.5px,#00ff04 140.5px,#00ff86 144.5px,#00ffe1 148.5px,#00fbff 149.5px,#0089ff 152px,#000fff 154.5px,#0001ff 155px,#0040ff 156.5px,#00fffd 160px,#00ff49 163.5px,#00ff06 165px,#6cff00 168px,#d0ff00 171.5px,#fcff00 173.5px,#ffaf00 179px,#ff7e00 185.5px,#ff6100 196px,#ff6200 207.5px,#ff7e00 212px,#ffa600 214.5px,#ffdf00 216.5px,#f6ff00 217.5px,#a6ff00 219px,#3cff00 220.5px,#12ff00 221px,#00ff1b 221.5px,#00ffea 223.5px,#00ddff 224px,#007eff 225px,#008cff 225.5px,#00f1ff 226.5px,#00ffd7 227px,#00ff0b 229px,#21ff00 229.5px,#92ff00 231px,#e7ff00 232.5px,#feff00 233px,#ffba00 235px,#ff8800 237.5px,#ff6600 241.5px,#ff5c00 250px,#ff5e00 252px)"></i><i style="width:1px;background:linear-gradient(#ff4400 0px,#ff6b00 59px,#ff8500 74px,#ffaa00 81.5px,#ffe100 86.5px,#fdff00 88.5px,#a1ff00 92.5px,#2bff00 96px,#02ff00 97px,#00ff73 99.5px,#00fffd 102px,#0011ff 106px,#0000ff 106.5px,#0000ff 108.5px,#0009ff 109px,#00ecff 113px,#00fff6 113.5px,#00ff64 116.5px,#00ff04 119px,#5bff00 122.5px,#8fff00 126px,#9dff00 129.5px,#86ff00 133px,#4cff00 136.5px,#00ff04 139.5px,#00ff86 143.5px,#00ffef 148px,#00fdff 148.5px,#008cff 151px,#0012ff 153.5px,#0001ff 154px,#0024ff 155px,#00fdff 159px,#00ff35 163px,#00ff09 164px,#20ff00 165px,#98ff00 168.5px,#faff00 172.5px,#ffab00 178.5px,#ff7c00 185px,#ff6000 196px,#ff6200 207.5px,#ff7f00 212px,#ffa800 214.5px,#ffe200 216.5px,#fff500 217px,#f3ff00 217.5px,#a2ff00 219px,#36ff00 220.5px,#0cff00 221px,#00ff22 221.5px,#00fff2 223.5px,#00d6ff 224px,#0079ff 225px,#0092ff 225.5px,#00f9ff 226.5px,#00ff33 228.5px,#00ff04 229px,#97ff00 231px,#ebff00 232.5px,#fffd00 233px,#ffb800 235px,#ff8700 237.5px,#ff6600 241.5px,#ff5c00 250px,#ff5e00 252px)"></i><i style="width:1px;background:linear-gradient(#ff4400 0px,#ff6b00 59px,#ff8500 74px,#ffab00 81.5px,#ffe100 86.5px,#fcff00 88.5px,#9fff00 92.5px,#2aff00 96px,#01ff00 97px,#00ff8e 100px,#00fffe 102px,#0011ff 106px,#0000ff 106.5px,#0000ff 108.5px,#0011ff 109px,#00f2ff 113px,#00fff1 113.5px,#00ff62 116.5px,#00ff04 119px,#58ff00 122.5px,#83ff00 125.5px,#91ff00 129px,#7aff00 132.5px,#3eff00 136px,#00ff05 138.5px,#00ff92 143px,#00ffee 147px,#00fffe 147.5px,#00a9ff 149.5px,#0015ff 152.5px,#0003ff 153px,#000bff 153.5px,#006cff 155.5px,#00f8ff 158px,#00ffb5 159.5px,#00ff0d 163px,#08ff00 163.5px,#86ff00 167px,#eeff00 171px,#fffc00 172px,#ffb700 176.5px,#ff8400 182.5px,#ff6400 192px,#ff5f00 206px,#ff7500 211px,#ff9e00 214px,#ffd300 216px,#fff800 217px,#d8ff00 218px,#7dff00 219.5px,#06ff00 221px,#00ff59 222px,#00fff9 223.5px,#009cff 224.5px,#0076ff 225px,#0098ff 225.5px,#00fffe 226.5px,#00ff2c 228.5px,#02ff00 229px,#7aff00 230.5px,#d6ff00 232px,#fff900 233px,#ffb600 235px,#ff8600 237.5px,#ff6500 241.5px,#ff5d00 250.5px,#ff5e00 252px)"></i><i style="width:1px;background:linear-gradient(#ff4400 0px,#ff6a00 58.5px,#ff8400 73.5px,#ffab00 81.5px,#ffe200 86.5px,#fbff00 88.5px,#9eff00 92.5px,#28ff00 96px,#00ff01 97px,#00ff90 100px,#00feff 102px,#0010ff 106px,#0000ff 106.5px,#0000ff 108.5px,#00f7ff 113px,#00ffd3 114px,#00ff4b 117px,#00ff04 119px,#53ff00 122.5px,#7bff00 125.5px,#85ff00 129px,#67ff00 132.5px,#23ff00 136px,#00ff06 137.5px,#00ff92 142px,#00ffec 146px,#00fffc 146.5px,#00adff 148.5px,#0018ff 151.5px,#0006ff 152px,#0008ff 152.5px,#0068ff 154.5px,#00f3ff 157px,#00ffef 157.5px,#00ff3d 161px,#04ff00 162.5px,#84ff00 166px,#ecff00 170px,#fffd00 171px,#ffb800 175.5px,#ff8500 181.5px,#ff6500 191px,#ff5e00 205.5px,#ff7600 211px,#ff9f00 214px,#ffd400 216px,#fffa00 217px,#d5ff00 218px,#79ff00 219.5px,#00ff00 221px,#00ff94 222.5px,#00feff 223.5px,#0096ff 224.5px,#0077ff 225px,#009fff 225.5px,#00fff7 226.5px,#00ff26 228.5px,#08ff00 229px,#7fff00 230.5px,#d9ff00 232px,#f2ff00 232.5px,#fff700 233px,#ffb400 235px,#ff8500 237.5px,#ff6500 241.5px,#ff5d00 250.5px,#ff5e00 252px)"></i><i style="width:1px;background:linear-gradient(#ff4400 0px,#ff6a00 58.5px,#ff8400 73.5px,#ffac00 81.5px,#ffe300 86.5px,#faff00 88.5px,#9dff00 92.5px,#26ff00 96px,#00ff03 97px,#00ff92 100px,#00fcff 102px,#000fff 106px,#0000ff 106.5px,#0000ff 108px,#0007ff 108.5px,#00fdff 113px,#00ff5d 116.5px,#00ff05 119px,#4fff00 122.5px,#73ff00 125.5px,#77ff00 129px,#53ff00 132.5px,#07ff00 136px,#00ff16 137px,#00ff92 141px,#00ffea 145px,#00fffa 145.5px,#00deff 146.5px,#001cff 150.5px,#0009ff 151px,#0005ff 151.5px,#0062ff 153.5px,#00eeff 156px,#00fff4 156.5px,#00ff42 160px,#00ff00 161.5px,#80ff00 165px,#eaff00 169px,#ffff00 170px,#ffb400 175px,#ff8000 181.5px,#ff6200 192px,#ff5f00 206px,#ff7600 211px,#ffa100 214px,#ffd600 216px,#fffd00 217px,#b5ff00 218.5px,#4fff00 220px,#00ff05 221px,#00ffd0 223px,#00f7ff 223.5px,#0091ff 224.5px,#007bff 225px,#00d8ff 226px,#00fff0 226.5px,#00ff1f 228.5px,#0eff00 229px,#83ff00 230.5px,#ddff00 232px,#f5ff00 232.5px,#fff400 233px,#ffb300 235px,#ff8400 237.5px,#ff6500 241.5px,#ff5d00 250.5px,#ff5f00 252px)"></i><i style="width:1px;background:linear-gradient(#ff4400 0px,#ff6a00 58px,#ff8500 73.5px,#ffad00 81.5px,#ffe400 86.5px,#fffd00 88px,#b6ff00 91.5px,#4aff00 95px,#00ff05 97px,#00ffb0 100.5px,#00faff 102px,#000eff 106px,#0000ff 106.5px,#0000ff 108px,#000fff 108.5px,#00fffc 113px,#00ff70 116px,#00ff06 119px,#51ff00 123px,#6cff00 126px,#68ff00 129px,#3dff00 132.5px,#06ff00 135px,#00ff26 136.5px,#00ff91 140px,#00ffe8 144px,#00f5ff 145px,#0084ff 147.5px,#000cff 150px,#0002ff 150.5px,#0042ff 152px,#00fffa 155.5px,#00ff47 159px,#00ff04 160.5px,#8cff00 164.5px,#f2ff00 168.5px,#fff800 169.5px,#ffb000 174.5px,#ff7e00 181px,#ff6100 191.5px,#ff5f00 206px,#ff7700 211px,#ffa200 214px,#ffd800 216px,#ffff00 217px,#b2ff00 218.5px,#4bff00 220px,#22ff00 220.5px,#00ff0a 221px,#00ffd7 223px,#00f0ff 223.5px,#008bff 224.5px,#007fff 225px,#00dfff 226px,#00ffe9 226.5px,#00ff1a 228.5px,#14ff00 229px,#88ff00 230.5px,#e0ff00 232px,#f8ff00 232.5px,#ffcd00 234px,#ff9200 236.5px,#ff6c00 240px,#ff5c00 246.5px,#ff5f00 252px)"></i><i style="width:1px;background:linear-gradient(#ff4400 0px,#ff6a00 57.5px,#ff8300 73px,#ffa900 81px,#ffde00 86px,#fffe00 88px,#b4ff00 91.5px,#48ff00 95px,#0eff00 96.5px,#00ff08 97px,#00ffb3 100.5px,#00ffea 101.5px,#00f7ff 102px,#000dff 106px,#0000ff 106.5px,#0000ff 108px,#00eeff 112.5px,#00fff6 113px,#00ff6d 116px,#00ff07 119px,#1fff00 120.5px,#51ff00 123.5px,#62ff00 126.5px,#53ff00 129.5px,#26ff00 132.5px,#04ff00 134px,#00ff46 136.5px,#00ff9d 139.5px,#00ffe6 143px,#00f8ff 144px,#0089ff 146.5px,#0010ff 149px,#0001ff 149.5px,#0024ff 150.5px,#00fdff 154.5px,#00ff35 158.5px,#00ff09 159.5px,#20ff00 160.5px,#98ff00 164px,#faff00 168px,#ffac00 174px,#ff7c00 180.5px,#ff6000 191.5px,#ff5f00 206px,#ff7700 211px,#ffa300 214px,#ffda00 216px,#fdff00 217px,#afff00 218.5px,#46ff00 220px,#1dff00 220.5px,#00ff10 221px,#00ffdd 223px,#00eaff 223.5px,#0087ff 224.5px,#0083ff 225px,#00e5ff 226px,#00ffe2 226.5px,#00ff14 228.5px,#19ff00 229px,#8cff00 230.5px,#e3ff00 232px,#faff00 232.5px,#ffaf00 235px,#ff8200 237.5px,#ff6400 241.5px,#ff5e00 250.5px,#ff5f00 252px)"></i><i style="width:1px;background:linear-gradient(#ff4400 0px,#ff6a00 57.5px,#ff8400 73px,#ffaa00 81px,#ffdf00 86px,#ffff00 88px,#a5ff00 92px,#33ff00 95.5px,#0bff00 96.5px,#00ff0a 97px,#00ffb6 100.5px,#00ffee 101.5px,#00f4ff 102px,#000bff 106px,#0000ff 106.5px,#0007ff 108px,#00f4ff 112.5px,#00fff1 113px,#00ff6b 116px,#00ff09 119px,#10ff00 120px,#44ff00 123px,#55ff00 126px,#47ff00 129px,#18ff00 132px,#01ff00 133px,#00ff9d 138.5px,#00fff2 142.5px,#00fbff 143px,#008fff 145.5px,#0015ff 148px,#0003ff 148.5px,#0009ff 149px,#006aff 151px,#00f6ff 153.5px,#00ffd1 154.5px,#00ff25 158px,#06ff00 159px,#85ff00 162.5px,#edff00 166.5px,#fffd00 167.5px,#ffb800 172px,#ff8500 178px,#ff6500 187.5px,#ff5d00 204.5px,#ff6f00 210px,#ff9100 213px,#ffcb00 215.5px,#faff00 217px,#acff00 218.5px,#42ff00 220px,#18ff00 220.5px,#00ff15 221px,#00ffe3 223px,#00e4ff 223.5px,#0082ff 224.5px,#0087ff 225px,#00ebff 226px,#00ffdc 226.5px,#00ff0e 228.5px,#1eff00 229px,#90ff00 230.5px,#e6ff00 232px,#fdff00 232.5px,#ffbb00 234.5px,#ff8800 237px,#ff6600 241px,#ff5d00 249.5px,#ff5f00 252px)"></i><i style="width:1px;background:linear-gradient(#ff4400 0px,#ff6900 57px,#ff8400 73px,#ffab00 81px,#ffe100 86px,#fdff00 88px,#a2ff00 92px,#30ff00 95.5px,#08ff00 96.5px,#00ff24 97.5px,#00ffd5 101px,#00fff1 101.5px,#00f0ff 102px,#000aff 106px,#0000ff 107px,#0000ff 107.5px,#0027ff 108.5px,#00f9ff 112.5px,#00ff92 115px,#00ff27 118px,#01ff00 119.5px,#36ff00 122.5px,#48ff00 125.5px,#3aff00 128.5px,#00ff01 132px,#00ffa7 138px,#00fff0 141.5px,#00ffff 142px,#00adff 144px,#001aff 147px,#0007ff 147.5px,#0004ff 148px,#0062ff 150px,#00eeff 152.5px,#00fff4 153px,#00ff42 156.5px,#00ff00 158px,#80ff00 161.5px,#e9ff00 165.5px,#feff00 166.5px,#ffb400 171.5px,#ff8100 178px,#ff6200 188.5px,#ff5e00 205.5px,#ff7300 210.5px,#ff9b00 213.5px,#ffcd00 215.5px,#f8ff00 217px,#a9ff00 218.5px,#3eff00 220px,#14ff00 220.5px,#00ff19 221px,#00ffe9 223px,#00deff 223.5px,#007eff 224.5px,#008cff 225px,#00f1ff 226px,#00ffd6 226.5px,#00ff09 228.5px,#4cff00 229.5px,#b3ff00 231px,#fffe00 232.5px,#ffb900 234.5px,#ff8700 237px,#ff6600 241px,#ff5d00 249.5px,#ff6000 252px)"></i><i style="width:1px;background:linear-gradient(#ff4400 0px,#ff6900 56.5px,#ff8300 72.5px,#ffac00 81px,#ffe200 86px,#fbff00 88px,#a0ff00 92px,#2cff00 95.5px,#04ff00 96.5px,#00ff56 98.5px,#00fff5 101.5px,#00ecff 102px,#0008ff 106px,#0000ff 107px,#0001ff 107.5px,#00feff 112.5px,#00ff7c 115.5px,#00ff1b 118.5px,#00ff03 119.5px,#33ff00 123px,#3aff00 126px,#20ff00 129px,#00ff04 131px,#00ff73 135px,#00ffb1 137.5px,#00ffed 140.5px,#00fffc 141px,#00caff 142.5px,#000cff 146.5px,#0000ff 147px,#0040ff 148.5px,#00fffd 152px,#00ff4a 155.5px,#00ff07 157px,#35ff00 158.5px,#a8ff00 162px,#fbff00 165.5px,#ffb100 171px,#ff7f00 177.5px,#ff6200 188px,#ff5e00 205.5px,#ff7400 210.5px,#ff9b00 213.5px,#ffce00 215.5px,#fff300 216.5px,#f6ff00 217px,#a5ff00 218.5px,#3aff00 220px,#0fff00 220.5px,#00ff1e 221px,#00ffef 223px,#00d9ff 223.5px,#007bff 224.5px,#0091ff 225px,#00f7ff 226px,#00ff9a 227px,#00ff04 228.5px,#98ff00 230.5px,#ecff00 232px,#fffc00 232.5px,#ffb800 234.5px,#ff8700 237px,#ff6600 241px,#ff5d00 249.5px,#ff6000 252px)"></i><i style="width:1px;background:linear-gradient(#ff4400 0px,#ff6900 56px,#ff8300 72.5px,#ffad00 81px,#ffe400 86px,#f9ff00 88px,#9dff00 92px,#29ff00 95.5px,#01ff00 96.5px,#00ff8c 99.5px,#00fff9 101.5px,#0090ff 103.5px,#0006ff 106px,#0000ff 107px,#0009ff 107.5px,#00fffb 112.5px,#00ff7b 115.5px,#00ff1e 118.5px,#03ff00 120px,#29ff00 123px,#2bff00 126px,#0bff00 129px,#00ff07 130px,#00ff63 133.5px,#00ffb1 136.5px,#00ffeb 139.5px,#00f6ff 140.5px,#008aff 143px,#0012ff 145.5px,#0001ff 146px,#000aff 146.5px,#006bff 148.5px,#00f7ff 151px,#00ffd0 152px,#00ff24 155.5px,#07ff00 156.5px,#85ff00 160px,#edff00 164px,#fffd00 165px,#ffb800 169.5px,#ff8500 175.5px,#ff6500 185px,#ff5c00 204px,#ff7000 210px,#ff9300 213px,#ffd000 215.5px,#fff400 216.5px,#f4ff00 217px,#a3ff00 218.5px,#36ff00 220px,#0bff00 220.5px,#00ff23 221px,#00fff4 223px,#00d3ff 223.5px,#00a0ff 224px,#0078ff 224.5px,#0095ff 225px,#00fdff 226px,#00ff2e 228px,#01ff00 228.5px,#79ff00 230px,#d5ff00 231.5px,#fff900 232.5px,#ffb600 234.5px,#ff8600 237px,#ff6600 241px,#ff5e00 249.5px,#ff6000 252px)"></i><i style="width:1px;background:linear-gradient(#ff4400 0px,#ff6800 55px,#ff8200 72px,#ffaa00 80.5px,#ffe600 86px,#fffe00 87.5px,#b5ff00 91px,#4bff00 94.5px,#00ff03 96.5px,#00ffab 100px,#00fffd 101.5px,#001cff 105.5px,#0004ff 106px,#0000ff 107px,#003fff 108.5px,#00f0ff 112px,#00fff6 112.5px,#00ff7a 115.5px,#00ff21 118.5px,#00ff03 120px,#20ff00 123.5px,#17ff00 126.5px,#00ff03 128.5px,#00ff46 131.5px,#00ffa6 135px,#00faff 139.5px,#00aaff 141.5px,#0019ff 144.5px,#0006ff 145px,#0003ff 145.5px,#0061ff 147.5px,#00edff 150px,#00fff6 150.5px,#00ff43 154px,#00ff01 155.5px,#7fff00 159px,#e9ff00 163px,#fdff00 164px,#ffb500 169px,#ff8100 175.5px,#ff6300 185.5px,#ff5c00 204.5px,#ff7000 210px,#ff9400 213px,#ffd100 215.5px,#fff600 216.5px,#f2ff00 217px,#a0ff00 218.5px,#32ff00 220px,#07ff00 220.5px,#00ff27 221px,#00fffa 223px,#009bff 224px,#0075ff 224.5px,#009aff 225px,#00fffc 226px,#00ff29 228px,#05ff00 228.5px,#7dff00 230px,#d8ff00 231.5px,#f1ff00 232px,#fff700 232.5px,#ffb500 234.5px,#ff8500 237px,#ff6500 241px,#ff5e00 249.5px,#ff6100 252px)"></i><i style="width:1px;background:linear-gradient(#ff4400 0px,#ff6800 54.5px,#ff8200 72px,#ffab00 80.5px,#ffe000 85.5px,#feff00 87.5px,#a5ff00 91.5px,#35ff00 95px,#00ff07 96.5px,#00ffaf 100px,#00fcff 101.5px,#0019ff 105.5px,#0003ff 106px,#0004ff 107px,#0092ff 110px,#00f5ff 112px,#00fff2 112.5px,#00ff79 115.5px,#00ff25 118.5px,#00ff02 120.5px,#14ff00 123.5px,#05ff00 126.5px,#00ff10 128px,#00ff55 131px,#00ffb1 134.5px,#00fff3 138px,#00fdff 138.5px,#00b1ff 140.5px,#000cff 144px,#0000ff 144.5px,#0024ff 145.5px,#00feff 149.5px,#00ff35 153.5px,#00ff09 154.5px,#20ff00 155.5px,#98ff00 159px,#f9ff00 163px,#ffbd00 167.5px,#ff8800 173.5px,#ff6600 183px,#ff5b00 203px,#ff6d00 209.5px,#ff9500 213px,#ffd300 215.5px,#fff800 216.5px,#d7ff00 217.5px,#7bff00 219px,#03ff00 220.5px,#00ff92 222px,#00ffff 223px,#0097ff 224px,#0077ff 224.5px,#009eff 225px,#00fff6 226px,#00ff24 228px,#0aff00 228.5px,#81ff00 230px,#dbff00 231.5px,#f3ff00 232px,#fff500 232.5px,#ffb300 234.5px,#ff8400 237px,#ff6500 241px,#ff5e00 249.5px,#ff6100 252px)"></i><i style="width:1px;background:linear-gradient(#ff4400 0px,#ff6800 54.5px,#ff8300 72px,#ffac00 80.5px,#ffe200 85.5px,#fcff00 87.5px,#a3ff00 91.5px,#31ff00 95px,#0aff00 96px,#00ff0b 96.5px,#00ffb3 100px,#00f8ff 101.5px,#0017ff 105.5px,#0001ff 106px,#0000ff 106.5px,#0020ff 107.5px,#00f9ff 112px,#00ff9d 114.5px,#00ff40 117.5px,#00ff0a 120.5px,#05ff00 122.5px,#00ff04 125.5px,#00ff32 128.5px,#00ffb1 133.5px,#00fff1 137px,#00fffe 137.5px,#00b7ff 139.5px,#0012ff 143px,#0001ff 143.5px,#0006ff 144px,#0068ff 146px,#00f4ff 148.5px,#00ffef 149px,#00ff3d 152.5px,#04ff00 154px,#83ff00 157.5px,#ebff00 161.5px,#ffff00 162.5px,#ffba00 167px,#ff8600 173px,#ff6600 182.5px,#ff5b00 203px,#ff6d00 209.5px,#ff9500 213px,#ffd400 215.5px,#fffa00 216.5px,#d5ff00 217.5px,#78ff00 219px,#00ff01 220.5px,#00faff 223px,#0093ff 224px,#0079ff 224.5px,#00d6ff 225.5px,#00fff1 226px,#00ff20 228px,#0eff00 228.5px,#84ff00 230px,#ddff00 231.5px,#f6ff00 232px,#ffe000 233px,#ffa600 235px,#ff7800 238px,#ff6000 243px,#ff6200 252px)"></i><i style="width:1px;background:linear-gradient(#ff4400 0px,#ff6700 54px,#ff8200 71.5px,#ffae00 80.5px,#ffe400 85.5px,#faff00 87.5px,#a0ff00 91.5px,#2eff00 95px,#06ff00 96px,#00ff3b 97.5px,#00ffef 101px,#00f3ff 101.5px,#0014ff 105.5px,#0000ff 106px,#0001ff 106.5px,#0056ff 108.5px,#00fdff 112px,#00ff7b 115.5px,#00ff30 118.5px,#00ff0c 121.5px,#00ff0e 124.5px,#00ff37 127.5px,#00ffbc 133px,#00fffb 136.5px,#00d2ff 138px,#0005ff 142.5px,#0000ff 143px,#0043ff 144.5px,#00e9ff 147.5px,#00fff9 148px,#00ff46 151.5px,#00ff04 153px,#8cff00 157px,#f2ff00 161px,#fff900 162px,#ffb000 167px,#ff7f00 173.5px,#ff6200 184px,#ff5c00 204.5px,#ff7100 210px,#ff9600 213px,#ffd500 215.5px,#fffc00 216.5px,#b6ff00 218px,#50ff00 219.5px,#00ff05 220.5px,#00ffd2 222.5px,#00f5ff 223px,#008fff 224px,#007cff 224.5px,#00dbff 225.5px,#00ffec 226px,#00ff1b 228px,#12ff00 228.5px,#87ff00 230px,#e0ff00 231.5px,#f8ff00 232px,#ffcd00 233.5px,#ff9200 236px,#ff6c00 239.5px,#ff5d00 246px,#ff6200 252px)"></i><i style="width:1px;background:linear-gradient(#ff4400 0px,#ff6700 54px,#ff8200 71.5px,#ffae00 80.5px,#ffe500 85.5px,#f9ff00 87.5px,#9eff00 91.5px,#2cff00 95px,#05ff00 96px,#00ff54 98px,#00ffef 101px,#00f3ff 101.5px,#002fff 105px,#0005ff 106px,#0020ff 107px,#00efff 111.5px,#00fffa 112px,#00ff89 115px,#00ff3d 118px,#00ff19 121px,#00ff1c 124px,#00ff45 127px,#00ffbd 132px,#00fff9 135.5px,#00e8ff 136.5px,#007fff 139px,#000bff 141.5px,#0000ff 142px,#000aff 142.5px,#008aff 145px,#00faff 147px,#00ff22 151.5px,#09ff00 152.5px,#86ff00 156px,#edff00 160px,#fffc00 161px,#ffb300 166px,#ff8000 172.5px,#ff6200 183px,#ff5c00 204.5px,#ff7100 210px,#ff9700 213px,#ffd700 215.5px,#fffd00 216.5px,#b4ff00 218px,#4cff00 219.5px,#00ff09 220.5px,#00ffd7 222.5px,#00f0ff 223px,#008bff 224px,#007fff 224.5px,#00e0ff 225.5px,#00ffe7 226px,#00ff17 228px,#17ff00 228.5px,#8bff00 230px,#e2ff00 231.5px,#faff00 232px,#ffaf00 234.5px,#ff8200 237px,#ff6500 241px,#ff5f00 250px,#ff6200 252px)"></i><i style="width:1px;background:linear-gradient(#ff4400 0px,#ff6700 54px,#ff8200 71.5px,#ffaf00 80.5px,#ffe500 85.5px,#f9ff00 87.5px,#9fff00 91.5px,#2eff00 95px,#07ff00 96px,#00ff24 97px,#00ffcf 100.5px,#00f8ff 101.5px,#0039ff 105px,#0014ff 106px,#0048ff 107.5px,#00fbff 111.5px,#00ff84 115px,#00ff40 118px,#00ff22 121px,#00ff2c 124px,#00ff5d 127px,#00ffc6 131.5px,#00fbff 135px,#00b5ff 137px,#0012ff 140.5px,#0000ff 141px,#0003ff 141.5px,#0063ff 143.5px,#00f0ff 146px,#00fff3 146.5px,#00ff41 150px,#01ff00 151.5px,#80ff00 155px,#e9ff00 159px,#feff00 160px,#ffb500 165px,#ff8100 171.5px,#ff6300 182px,#ff5c00 204px,#ff7200 210px,#ff9700 213px,#ffd800 215.5px,#ffff00 216.5px,#b2ff00 218px,#49ff00 219.5px,#20ff00 220px,#00ff0d 220.5px,#00ffdb 222.5px,#00ecff 223px,#0087ff 224px,#0082ff 224.5px,#00e5ff 225.5px,#00ffe2 226px,#00ff12 228px,#1bff00 228.5px,#8eff00 230px,#e5ff00 231.5px,#fcff00 232px,#ffae00 234.5px,#ff8200 237px,#ff6500 241px,#ff6000 250px,#ff6300 252px)"></i><i style="width:1px;background:linear-gradient(#ff4400 0px,#ff6700 53.5px,#ff8300 71.5px,#ffaf00 80.5px,#ffe500 85.5px,#f9ff00 87.5px,#9fff00 91.5px,#2fff00 95px,#08ff00 96px,#00ff21 97px,#00ffcb 100.5px,#00fdff 101.5px,#0042ff 105px,#002dff 105.5px,#0026ff 106px,#0070ff 108px,#00f2ff 111px,#00fff7 111.5px,#00ff8f 114.5px,#00ff4a 117.5px,#00ff2e 120.5px,#00ff39 123.5px,#00ff6b 126.5px,#00ffc7 130.5px,#00fdff 134px,#00bbff 136px,#0006ff 140px,#0000ff 140.5px,#0025ff 141.5px,#00fffe 145.5px,#00ff4a 149px,#00ff07 150.5px,#34ff00 152px,#a7ff00 155.5px,#faff00 159px,#ffac00 165px,#ff7d00 171.5px,#ff6100 182.5px,#ff5c00 204.5px,#ff7200 210px,#ff9800 213px,#ffd900 215.5px,#fdff00 216.5px,#afff00 218px,#46ff00 219.5px,#1dff00 220px,#00ff10 220.5px,#00ffe0 222.5px,#00e7ff 223px,#0084ff 224px,#0086ff 224.5px,#00eaff 225.5px,#00ffdd 226px,#00ff0e 228px,#1eff00 228.5px,#91ff00 230px,#e7ff00 231.5px,#feff00 232px,#ffba00 234px,#ff8800 236.5px,#ff6600 240.5px,#ff5e00 248.5px,#ff6300 252px)"></i><i style="width:1px;background:linear-gradient(#ff4400 0px,#ff6700 53.5px,#ff8300 71.5px,#ffaf00 80.5px,#ffed00 86px,#f8ff00 87.5px,#a0ff00 91.5px,#30ff00 95px,#0aff00 96px,#00ff0a 96.5px,#00ffad 100px,#00fffc 101.5px,#004bff 105px,#0037ff 105.5px,#0038ff 106px,#0097ff 108.5px,#00feff 111px,#00ff98 114px,#00ff55 117px,#00ff39 120px,#00ff40 122.5px,#00ff6d 125.5px,#00ffc8 129.5px,#00ffff 133px,#00c1ff 135px,#000cff 139px,#0000ff 139.5px,#0005ff 140px,#0068ff 142px,#00f5ff 144.5px,#00ffee 145px,#00ff3d 148.5px,#05ff00 150px,#83ff00 153.5px,#ebff00 157.5px,#ffff00 158.5px,#ffba00 163px,#ff8700 169px,#ff6600 178.5px,#ff5a00 202px,#ff6b00 209px,#ff9000 212.5px,#ffca00 215px,#fcff00 216.5px,#adff00 218px,#43ff00 219.5px,#19ff00 220px,#00ff14 220.5px,#00ffe4 222.5px,#00e3ff 223px,#0081ff 224px,#0089ff 224.5px,#00eeff 225.5px,#00ffd8 226px,#00ff0a 228px,#22ff00 228.5px,#94ff00 230px,#e9ff00 231.5px,#fffe00 232px,#ffb900 234px,#ff8700 236.5px,#ff6600 240.5px,#ff5f00 248.5px,#ff6400 252px)"></i><i style="width:1px;background:linear-gradient(#ff4400 0px,#ff6700 53px,#ff8200 71px,#ffac00 80px,#ffe600 85.5px,#f8ff00 87.5px,#a0ff00 91.5px,#32ff00 95px,#0cff00 96px,#00ff09 96.5px,#00ffaa 100px,#00fff7 101.5px,#00d1ff 102.5px,#0054ff 105px,#0043ff 105.5px,#0059ff 106.5px,#00f7ff 110.5px,#00ffe2 111.5px,#00ff87 114.5px,#00ff52 117.5px,#00ff43 120px,#00ff51 122.5px,#00ff86 125.5px,#00ffd1 129px,#00fffd 132px,#00d9ff 133.5px,#0070ff 136px,#0002ff 138.5px,#0000ff 139px,#0028ff 140px,#00fffa 144px,#00ff47 147.5px,#00ff04 149px,#8cff00 153px,#f1ff00 157px,#fff900 158px,#ffb100 163px,#ff8000 169.5px,#ff6300 180px,#ff5c00 204px,#ff6f00 209.5px,#ff9000 212.5px,#ffcb00 215px,#faff00 216.5px,#abff00 218px,#40ff00 219.5px,#16ff00 220px,#00ff18 220.5px,#00ffe9 222.5px,#00deff 223px,#007eff 224px,#008dff 224.5px,#00f3ff 225.5px,#00ffd4 226px,#00ff06 228px,#97ff00 230px,#ebff00 231.5px,#fffc00 232px,#ffb700 234px,#ff8600 236.5px,#ff6600 240.5px,#ff5f00 248.5px,#ff6400 252px)"></i><i style="width:1px;background:linear-gradient(#ff4400 0px,#ff6700 53px,#ff8200 71px,#ffac00 80px,#ffe600 85.5px,#fffd00 87px,#baff00 90.5px,#56ff00 94px,#0dff00 96px,#00ff07 96.5px,#00ffa6 100px,#00fff3 101.5px,#00f1ff 102px,#005eff 105px,#0051ff 105.5px,#0090ff 107.5px,#00fffb 110.5px,#00ff9d 113.5px,#00ff62 116.5px,#00ff4f 119px,#00ff58 121.5px,#00ff87 124.5px,#00ffd2 128px,#00fffc 131px,#00deff 132.5px,#0090ff 134.5px,#0008ff 137.5px,#0000ff 138px,#0007ff 138.5px,#0087ff 141px,#00f8ff 143px,#00ffb5 144.5px,#00ff0e 148px,#07ff00 148.5px,#85ff00 152px,#ecff00 156px,#fffe00 157px,#ffb400 162px,#ff8100 168.5px,#ff6300 179px,#ff5b00 203.5px,#ff6f00 209.5px,#ff9100 212.5px,#ffcc00 215px,#f9ff00 216.5px,#a8ff00 218px,#3dff00 219.5px,#12ff00 220px,#00ff1b 220.5px,#00ffed 222.5px,#00daff 223px,#007bff 224px,#0090ff 224.5px,#00f7ff 225.5px,#00ff99 226.5px,#00ff02 228px,#78ff00 229.5px,#d4ff00 231px,#fffa00 232px,#ffb600 234px,#ff8600 236.5px,#ff6600 240.5px,#ff5f00 248.5px,#ff6500 252px)"></i><i style="width:1px;background:linear-gradient(#ff4400 0px,#ff6700 53px,#ff8200 71px,#ffad00 80px,#ffe600 85.5px,#fffd00 87px,#baff00 90.5px,#56ff00 94px,#00ff05 96.5px,#00ffa2 100px,#00ffee 101.5px,#00f6ff 102px,#007bff 104.5px,#0067ff 105px,#0062ff 105.5px,#00b3ff 108px,#00fcff 110px,#00ff99 113.5px,#00ff65 116.5px,#00ff59 119px,#00ff68 121.5px,#00ff9f 124.5px,#00ffda 127.5px,#00faff 130.5px,#00c1ff 132.5px,#0010ff 136.5px,#0000ff 137px,#0000ff 137.5px,#0043ff 139px,#00eaff 142px,#00fff8 142.5px,#00ff45 146px,#00ff03 147.5px,#8dff00 151.5px,#f1ff00 155.5px,#fff900 156.5px,#ffb100 161.5px,#ff8000 168px,#ff6300 178.5px,#ff5c00 204px,#ff6f00 209.5px,#ff9100 212.5px,#ffcd00 215px,#fff100 216px,#f7ff00 216.5px,#a6ff00 218px,#3aff00 219.5px,#0fff00 220px,#00ff1f 220.5px,#00fff1 222.5px,#00d6ff 223px,#00a2ff 223.5px,#0079ff 224px,#0094ff 224.5px,#00fcff 225.5px,#00ff2e 227.5px,#01ff00 228px,#7bff00 229.5px,#d7ff00 231px,#fff800 232px,#ffb500 234px,#ff8500 236.5px,#ff6600 240.5px,#ff6000 249px,#ff6500 252px)"></i><i style="width:1px;background:linear-gradient(#ff4400 0px,#ff6600 52.5px,#ff8300 71px,#ffad00 80px,#ffe700 85.5px,#fffe00 87px,#aeff00 91px,#47ff00 94.5px,#00ff03 96.5px,#00ffb7 100.5px,#00fcff 102px,#0084ff 104.5px,#0071ff 105px,#0073ff 105.5px,#00f7ff 109.5px,#00ffe6 110.5px,#00ff96 113.5px,#00ff6e 116px,#00ff63 118.5px,#00ff74 121px,#00ffb6 124.5px,#00ffe8 127.5px,#00fcff 129.5px,#00c8ff 131.5px,#0046ff 134.5px,#0006ff 136px,#0000ff 136.5px,#0006ff 137px,#0088ff 139.5px,#00f8ff 141.5px,#00ff9a 143.5px,#00ff0d 146.5px,#08ff00 147px,#85ff00 150.5px,#ecff00 154.5px,#fffe00 155.5px,#ffb400 160.5px,#ff8100 167px,#ff6300 177.5px,#ff5b00 203.5px,#ff6f00 209.5px,#ff9200 212.5px,#ffce00 215px,#fff300 216px,#f5ff00 216.5px,#a4ff00 218px,#37ff00 219.5px,#0cff00 220px,#00ff23 220.5px,#00fff6 222.5px,#009eff 223.5px,#0077ff 224px,#0098ff 224.5px,#00fffe 225.5px,#00ff29 227.5px,#05ff00 228px,#7eff00 229.5px,#d9ff00 231px,#f2ff00 231.5px,#fff600 232px,#ffb400 234px,#ff8500 236.5px,#ff6600 240.5px,#ff6000 249px,#ff6600 252px)"></i><i style="width:1px;background:linear-gradient(#ff4400 0px,#ff6600 52.5px,#ff8300 71px,#ffad00 80px,#ffe600 85.5px,#fffd00 87px,#bbff00 90.5px,#59ff00 94px,#00ff01 96.5px,#00ffb2 100.5px,#00fffc 102px,#008eff 104.5px,#007eff 105px,#00b2ff 107px,#00f5ff 109px,#00ffe9 110px,#00ff9b 113px,#00ff70 116px,#00ff6a 118.5px,#00ff81 121px,#00ffdf 126px,#00ffff 128.5px,#00cfff 130.5px,#0068ff 133px,#000eff 135px,#0000ff 135.5px,#0000ff 136px,#0028ff 137px,#00eaff 140.5px,#00fff8 141px,#00ff46 144.5px,#00ff03 146px,#8cff00 150px,#f1ff00 154px,#fff900 155px,#ffb100 160px,#ff8000 166.5px,#ff6300 177px,#ff5b00 203.5px,#ff6f00 209.5px,#ff9300 212.5px,#ffcf00 215px,#fff400 216px,#f4ff00 216.5px,#a2ff00 218px,#34ff00 219.5px,#08ff00 220px,#00ff26 220.5px,#00fffa 222.5px,#009bff 223.5px,#0075ff 224px,#009bff 224.5px,#00fff9 225.5px,#00ff25 227.5px,#09ff00 228px,#81ff00 229.5px,#dbff00 231px,#f4ff00 231.5px,#fff400 232px,#ffb300 234px,#ff8400 236.5px,#ff6600 240.5px,#ff6100 249px,#ff6600 252px)"></i><i style="width:1px;background:linear-gradient(#ff4400 0px,#ff6700 52.5px,#ff8300 71px,#ffad00 80px,#ffe600 85.5px,#f9ff00 87.5px,#a3ff00 91.5px,#39ff00 95px,#02ff00 96.5px,#00ff95 100px,#00fff5 102px,#00d9ff 103px,#0099ff 104.5px,#0090ff 105px,#00d5ff 107.5px,#00fffa 109px,#00ff9f 112.5px,#00ff74 115.5px,#00ff6f 118px,#00ff87 120.5px,#00ffe2 125.5px,#00faff 128px,#00c5ff 130px,#0045ff 133px,#0005ff 134.5px,#0004ff 135.5px,#0085ff 138px,#00f6ff 140px,#00ffd1 141px,#00ff25 144.5px,#06ff00 145.5px,#84ff00 149px,#ebff00 153px,#ffff00 154px,#ffb400 159px,#ff8200 165.5px,#ff6300 176px,#ff5b00 203px,#ff6c00 209px,#ff9300 212.5px,#ffd000 215px,#fff600 216px,#f2ff00 216.5px,#9fff00 218px,#31ff00 219.5px,#05ff00 220px,#00ff5c 221px,#00fffe 222.5px,#0097ff 223.5px,#0077ff 224px,#009fff 224.5px,#00d2ff 225px,#00fff5 225.5px,#00ff22 227.5px,#0dff00 228px,#84ff00 229.5px,#ddff00 231px,#f6ff00 231.5px,#ffdf00 232.5px,#ffa600 234.5px,#ff7800 237.5px,#ff6000 242.5px,#ff6700 252px)"></i><i style="width:1px;background:linear-gradient(#ff4400 0px,#ff6700 52.5px,#ff8300 71px,#ffad00 80px,#ffe600 85.5px,#f9ff00 87.5px,#a4ff00 91.5px,#3cff00 95px,#05ff00 96.5px,#00ff4d 98.5px,#00ffee 102px,#00f8ff 102.5px,#00a4ff 104.5px,#00a2ff 105px,#00fffa 108.5px,#00ffa1 112px,#00ff78 115px,#00ff74 117.5px,#00ff8c 120px,#00ffe5 125px,#00feff 127px,#00cdff 129px,#0068ff 131.5px,#000fff 133.5px,#0000ff 134px,#0000ff 134.5px,#000cff 135px,#00caff 138.5px,#00fffc 139.5px,#00ff49 143px,#00ff06 144.5px,#48ff00 146.5px,#b5ff00 150px,#faff00 153px,#ffad00 159px,#ff7e00 165.5px,#ff6200 176.5px,#ff5c00 204px,#ff7000 209.5px,#ff9400 212.5px,#ffd200 215px,#fff700 216px,#f0ff00 216.5px,#9dff00 218px,#2eff00 219.5px,#02ff00 220px,#00ff94 221.5px,#00fcff 222.5px,#0093ff 223.5px,#0079ff 224px,#00a3ff 224.5px,#00d7ff 225px,#00fff0 225.5px,#00ff1e 227.5px,#10ff00 228px,#87ff00 229.5px,#e0ff00 231px,#f8ff00 231.5px,#ffcd00 233px,#ff9100 235.5px,#ff6c00 239px,#ff5e00 245.5px,#ff6700 252px)"></i><i style="width:1px;background:linear-gradient(#ff4400 0px,#ff6600 52px,#ff8300 71px,#ffb100 80.5px,#ffec00 86px,#faff00 87.5px,#a6ff00 91.5px,#3eff00 95px,#08ff00 96.5px,#00ff1f 97.5px,#00fffe 102.5px,#00b0ff 104.5px,#00cdff 106px,#00fff9 108px,#00ffa3 111.5px,#00ff7b 114.5px,#00ff78 117px,#00ff99 120px,#00ffe7 124.5px,#00faff 126.5px,#00c5ff 128.5px,#0046ff 131.5px,#0006ff 133px,#0000ff 134px,#0063ff 136px,#00f0ff 138.5px,#00fff2 139px,#00ff40 142.5px,#02ff00 144px,#80ff00 147.5px,#e9ff00 151.5px,#fdff00 152.5px,#ffb600 157.5px,#ff8200 164px,#ff6400 174.5px,#ff5b00 203px,#ff6d00 209px,#ff9400 212.5px,#ffd300 215px,#fff900 216px,#d6ff00 217px,#79ff00 218.5px,#00ff02 220px,#00ff98 221.5px,#00f7ff 222.5px,#0090ff 223.5px,#007cff 224px,#00dbff 225px,#00ffec 225.5px,#00ff1a 227.5px,#14ff00 228px,#89ff00 229.5px,#e2ff00 231px,#faff00 231.5px,#ffaf00 234px,#ff8200 236.5px,#ff6500 240.5px,#ff6200 249px,#ff6800 252px)"></i><i style="width:1px;background:linear-gradient(#ff4400 0px,#ff6600 52px,#ff8300 71px,#ffb100 80.5px,#ffec00 86px,#faff00 87.5px,#a7ff00 91.5px,#2fff00 95.5px,#0bff00 96.5px,#00ff08 97px,#00ffe0 102px,#00fff7 102.5px,#00ddff 103.5px,#00c0ff 104.5px,#00f9ff 107px,#00ffb9 110px,#00ff87 113px,#00ff79 115.5px,#00ff87 118px,#00ffff 125.5px,#00cfff 127.5px,#006bff 130px,#0000ff 132.5px,#0006ff 133.5px,#00a5ff 136.5px,#00faff 138px,#00ff22 142.5px,#09ff00 143.5px,#86ff00 147px,#ecff00 151px,#fffe00 152px,#ffb400 157px,#ff8100 163.5px,#ff6300 174px,#ff5b00 203px,#ff6d00 209px,#ff9500 212.5px,#ffd400 215px,#fffa00 216px,#d4ff00 217px,#76ff00 218.5px,#00ff05 220px,#00ffd3 222px,#00f3ff 222.5px,#008cff 223.5px,#007eff 224px,#00dfff 225px,#00ffe7 225.5px,#00ff16 227.5px,#18ff00 228px,#8cff00 229.5px,#e4ff00 231px,#fcff00 231.5px,#ffae00 234px,#ff8200 236.5px,#ff6500 240.5px,#ff6200 249px,#ff6900 252px)"></i><i style="width:1px;background:linear-gradient(#ff4400 0px,#ff6600 52px,#ff8300 71px,#ffb100 80.5px,#ffec00 86px,#faff00 87.5px,#a7ff00 91.5px,#31ff00 95.5px,#00ff06 97px,#00fff1 102.5px,#00f7ff 103px,#00d2ff 104px,#00cfff 104.5px,#00fbff 106.5px,#00ff9e 111px,#00ff7e 114px,#00ff81 116.5px,#00ffa9 119.5px,#00fffa 124.5px,#00e6ff 126px,#00a4ff 128px,#000bff 131.5px,#0000ff 132px,#0000ff 132.5px,#000cff 133px,#00fffc 137.5px,#00ff48 141px,#00ff06 142.5px,#7bff00 146px,#e5ff00 150px,#fffb00 151.5px,#ffb200 156.5px,#ff8100 163px,#ff6300 173.5px,#ff5b00 203px,#ff6d00 209px,#ff9500 212.5px,#ffd500 215px,#fffc00 216px,#b5ff00 217.5px,#4dff00 219px,#00ff08 220px,#00ffd8 222px,#00efff 222.5px,#0089ff 223.5px,#0081ff 224px,#00e4ff 225px,#00ffe3 225.5px,#00ff12 227.5px,#1cff00 228px,#8fff00 229.5px,#e6ff00 231px,#feff00 231.5px,#ffba00 233.5px,#ff8800 236px,#ff6700 240px,#ff6100 248px,#ff6900 252px)"></i><i style="width:1px;background:linear-gradient(#ff4400 0px,#ff6600 52px,#ff8300 71px,#ffb100 80.5px,#ffec00 86px,#fbff00 87.5px,#a8ff00 91.5px,#32ff00 95.5px,#00ff04 97px,#00feff 103px,#00dbff 104px,#00feff 106px,#00ff9f 110.5px,#00ff80 113.5px,#00ff84 116px,#00ffab 119px,#00fffd 124px,#00d3ff 126px,#0072ff 128.5px,#0005ff 131px,#0000ff 132px,#002aff 133px,#00eeff 136.5px,#00fff4 137px,#00ff42 140.5px,#00ff00 142px,#7fff00 145.5px,#e8ff00 149.5px,#fff800 151px,#ffb100 156px,#ff8000 162.5px,#ff6300 173px,#ff5b00 203px,#ff6d00 209px,#ff9600 212.5px,#ffd600 215px,#fffd00 216px,#b3ff00 217.5px,#4aff00 219px,#21ff00 219.5px,#00ff0c 220px,#00ffdc 222px,#00eaff 222.5px,#0086ff 223.5px,#0084ff 224px,#00e8ff 225px,#00ffde 225.5px,#00ff0e 227.5px,#1fff00 228px,#92ff00 229.5px,#e8ff00 231px,#fffe00 231.5px,#ffb900 233.5px,#ff8700 236px,#ff6700 240px,#ff6100 248px,#ff6a00 252px)"></i><i style="width:1px;background:linear-gradient(#ff4400 0px,#ff6600 52px,#ff8300 71px,#ffb100 80.5px,#ffeb00 86px,#fbff00 87.5px,#a9ff00 91.5px,#34ff00 95.5px,#00ff01 97px,#00fff9 103px,#00e9ff 104px,#00fffb 105.5px,#00ff9f 110px,#00ff81 113px,#00ff84 115.5px,#00ffac 118.5px,#00fffe 123.5px,#00cfff 125.5px,#006cff 128px,#0000ff 130.5px,#0001ff 131.5px,#0083ff 134px,#00f4ff 136px,#00ffee 136.5px,#00ff3d 140px,#04ff00 141.5px,#82ff00 145px,#eaff00 149px,#feff00 150px,#ffb500 155px,#ff8200 161.5px,#ff6400 172px,#ff5b00 202.5px,#ff6d00 209px,#ff8e00 212px,#ffc700 214.5px,#fffe00 216px,#b2ff00 217.5px,#48ff00 219px,#1eff00 219.5px,#00ff0f 220px,#00ffe0 222px,#00e7ff 222.5px,#0083ff 223.5px,#0087ff 224px,#00ecff 225px,#00ffda 225.5px,#00ff0b 227.5px,#22ff00 228px,#95ff00 229.5px,#eaff00 231px,#fffd00 231.5px,#ffb800 233.5px,#ff8700 236px,#ff6700 240px,#ff6200 248px,#ff6b00 252px)"></i><i style="width:1px;background:linear-gradient(#ff4400 0px,#ff6600 52px,#ff8300 71px,#ffb000 80.5px,#ffea00 86px,#fdff00 87.5px,#acff00 91.5px,#38ff00 95.5px,#02ff00 97px,#00fff2 103px,#00fbff 103.5px,#00fffe 104.5px,#00ff96 110px,#00ff7e 113px,#00ff87 115.5px,#00ffce 120px,#00ffff 123px,#00ccff 125px,#0051ff 128px,#0000ff 130px,#0005ff 131px,#00a5ff 134px,#00f9ff 135.5px,#00ff22 140px,#08ff00 141px,#85ff00 144.5px,#ecff00 148.5px,#fffe00 149.5px,#ffb400 154.5px,#ff8200 161px,#ff6400 171.5px,#ff5b00 202.5px,#ff6d00 209px,#ff8e00 212px,#ffc700 214.5px,#ffff00 216px,#b1ff00 217.5px,#47ff00 219px,#1dff00 219.5px,#00ff10 220px,#00ffe1 222px,#00e5ff 222.5px,#0082ff 223.5px,#0088ff 224px,#00eeff 225px,#00ffd9 225.5px,#00ff09 227.5px,#4dff00 228.5px,#b5ff00 230px,#fffc00 231.5px,#ffb700 233.5px,#ff8600 236px,#ff6700 240px,#ff6200 248px,#ff6b00 252px)"></i><i style="width:1px;background:linear-gradient(#ff4400 0px,#ff6700 52.5px,#ff8200 71px,#ffaf00 80.5px,#ffe800 86px,#ffff00 87.5px,#a2ff00 92px,#2aff00 96px,#06ff00 97px,#00ff33 98.5px,#00ffea 103px,#00fff9 103.5px,#00ffd1 106px,#00ff8d 110px,#00ff7c 113px,#00ff8a 115.5px,#00fffe 122.5px,#00caff 124.5px,#004eff 127.5px,#000eff 129px,#0000ff 129.5px,#0008ff 130.5px,#00c5ff 134px,#00fdff 135px,#00ff36 139px,#00ff0a 140px,#0bff00 140.5px,#87ff00 144px,#edff00 148px,#fffd00 149px,#ffb400 154px,#ff8200 160.5px,#ff6400 171px,#ff5b00 202.5px,#ff6d00 209px,#ff8e00 212px,#ffc700 214.5px,#ffff00 216px,#b0ff00 217.5px,#46ff00 219px,#1cff00 219.5px,#00ff11 220px,#00ffe3 222px,#00e4ff 222.5px,#0081ff 223.5px,#008aff 224px,#00f0ff 225px,#00ffd7 225.5px,#00ff07 227.5px,#75ff00 229px,#d3ff00 230.5px,#fffb00 231.5px,#ffb700 233.5px,#ff8600 236px,#ff6700 240px,#ff6300 248px,#ff6c00 252px)"></i><i style="width:1px;background:linear-gradient(#ff4400 0px,#ff6700 52.5px,#ff8400 71.5px,#ffae00 80.5px,#ffe700 86px,#fffd00 87.5px,#b1ff00 91.5px,#3eff00 95.5px,#0aff00 97px,#00ff08 97.5px,#00ffe1 103px,#00ffea 103.5px,#00ff89 109.5px,#00ff78 112.5px,#00ff8d 115.5px,#00fffd 122px,#00caff 124px,#004dff 127px,#000dff 128.5px,#0000ff 129px,#000aff 130px,#00c7ff 133.5px,#00ffff 134.5px,#00ff4b 138px,#00ff09 139.5px,#20ff00 140.5px,#97ff00 144px,#f8ff00 148px,#ffeb00 149.5px,#ffa900 154.5px,#ff7b00 161.5px,#ff6000 173.5px,#ff5d00 204.5px,#ff7100 209.5px,#ff9700 212.5px,#ffc800 214.5px,#feff00 216px,#afff00 217.5px,#45ff00 219px,#1bff00 219.5px,#00ff13 220px,#00ffe5 222px,#00e2ff 222.5px,#007fff 223.5px,#008bff 224px,#00f2ff 225px,#00ffd5 225.5px,#00ff05 227.5px,#98ff00 229.5px,#edff00 231px,#fffa00 231.5px,#ffb600 233.5px,#ff8600 236px,#ff6700 240px,#ff6300 248px,#ff6d00 252px)"></i><i style="width:1px;background:linear-gradient(#ff4400 0px,#ff6600 52.5px,#ff8300 71.5px,#ffad00 80.5px,#ffe500 86px,#faff00 88px,#a7ff00 92px,#31ff00 96px,#00ff04 97.5px,#00ffd8 103px,#00ffd3 104px,#00ff84 109px,#00ff74 112px,#00ff88 115px,#00fffa 121.5px,#00dcff 123px,#007bff 125.5px,#000dff 128px,#0000ff 128.5px,#0000ff 129px,#000bff 129.5px,#00c8ff 133px,#00fffe 134px,#00ff4b 137.5px,#00ff08 139px,#20ff00 140px,#97ff00 143.5px,#f8ff00 147.5px,#ffeb00 149px,#ffa900 154px,#ff7b00 161px,#ff6100 173px,#ff5d00 204.5px,#ff7100 209.5px,#ff9700 212.5px,#ffc800 214.5px,#fdff00 216px,#aeff00 217.5px,#44ff00 219px,#1aff00 219.5px,#00ff14 220px,#00ffe6 222px,#00e0ff 222.5px,#007eff 223.5px,#008dff 224px,#00f4ff 225px,#00ffd3 225.5px,#00ff33 227px,#00ff04 227.5px,#9aff00 229.5px,#eeff00 231px,#fff900 231.5px,#ffb500 233.5px,#ff8500 236px,#ff6700 240px,#ff6300 247.5px,#ff6e00 252px)"></i><i style="width:1px;background:linear-gradient(#ff4400 0px,#ff6600 52.5px,#ff8300 71.5px,#ffac00 80.5px,#ffe400 86px,#fcff00 88px,#aaff00 92px,#35ff00 96px,#00ff00 97.5px,#00ffbf 102.5px,#00ffcc 103px,#00ff7a 109px,#00ff6f 112px,#00ff89 115px,#00fbff 121.5px,#00a7ff 124px,#000fff 127.5px,#0000ff 128px,#0000ff 128.5px,#000bff 129px,#00c8ff 132.5px,#00fffe 133.5px,#00ff4b 137px,#00ff09 138.5px,#20ff00 139.5px,#97ff00 143px,#f8ff00 147px,#ffeb00 148.5px,#ffa900 153.5px,#ff7b00 160.5px,#ff6100 172.5px,#ff5d00 204.5px,#ff7100 209.5px,#ff9700 212.5px,#ffc900 214.5px,#fdff00 216px,#aeff00 217.5px,#43ff00 219px,#18ff00 219.5px,#00ff15 220px,#00ffe8 222px,#00deff 222.5px,#007dff 223.5px,#008eff 224px,#00f6ff 225px,#00ff99 226px,#00ff02 227.5px,#79ff00 229px,#d6ff00 230.5px,#fff800 231.5px,#ffb500 233.5px,#ff8500 236px,#ff6700 240px,#ff6300 247.5px,#ff6f00 252px)"></i><i style="width:1px;background:linear-gradient(#ff4400 0px,#ff6700 53px,#ff8200 71.5px,#ffab00 80.5px,#ffe200 86px,#feff00 88px,#a0ff00 92.5px,#28ff00 96.5px,#05ff00 97.5px,#00ffb6 102.5px,#00ffbc 103px,#00ff6f 109px,#00ff6b 112px,#00ff8b 115px,#00feff 121px,#00a9ff 123.5px,#0011ff 127px,#0000ff 127.5px,#0000ff 128px,#000bff 128.5px,#00c7ff 132px,#00ffff 133px,#00ff4c 136.5px,#00ff09 138px,#1fff00 139px,#96ff00 142.5px,#f7ff00 146.5px,#fff400 147.5px,#ffaf00 152.5px,#ff7f00 159px,#ff6300 170px,#ff5b00 203px,#ff6e00 209px,#ff8f00 212px,#ffc900 214.5px,#fcff00 216px,#adff00 217.5px,#42ff00 219px,#17ff00 219.5px,#00ff17 220px,#00ffea 222px,#00dcff 222.5px,#007cff 223.5px,#008fff 224px,#00f7ff 225px,#00ff98 226px,#00ff00 227.5px,#7aff00 229px,#d7ff00 230.5px,#f0ff00 231px,#fff800 231.5px,#ffb400 233.5px,#ff8500 236px,#ff6700 240px,#ff6300 247.5px,#ff6f00 252px)"></i><i style="width:1px;background:linear-gradient(#ff4400 0px,#ff6700 53px,#ff8300 72px,#ffae00 81px,#ffe700 86.5px,#fffe00 88px,#afff00 92px,#3dff00 96px,#09ff00 97.5px,#00ff1c 98.5px,#00ffac 102.5px,#00ff68 108.5px,#00ff64 111.5px,#00ff84 114.5px,#00ffef 120px,#00fffc 120.5px,#00c0ff 122.5px,#0001ff 127px,#0000ff 127.5px,#000bff 128px,#00aaff 131px,#00feff 132.5px,#00ff36 136.5px,#00ff0a 137.5px,#0aff00 138px,#86ff00 141.5px,#ecff00 145.5px,#fffe00 146.5px,#ffb500 151.5px,#ff8200 158px,#ff6400 168.5px,#ff5a00 202px,#ff6a00 208.5px,#ff8f00 212px,#ffc900 214.5px,#fcff00 216px,#acff00 217.5px,#40ff00 219px,#16ff00 219.5px,#00ff18 220px,#00ffec 222px,#00dbff 222.5px,#007bff 223.5px,#0091ff 224px,#00f9ff 225px,#00ff2e 227px,#02ff00 227.5px,#7cff00 229px,#d8ff00 230.5px,#f1ff00 231px,#fff700 231.5px,#ffb400 233.5px,#ff8500 236px,#ff6700 240px,#ff6400 247.5px,#ff7000 252px)"></i><i style="width:1px;background:linear-gradient(#ff4400 0px,#ff6700 53px,#ff8300 72px,#ffad00 81px,#ffe600 86.5px,#f8ff00 88.5px,#a4ff00 92.5px,#2eff00 96.5px,#00ff07 98px,#00ff98 102px,#00ff9f 102.5px,#00ff62 108px,#00ff5e 111px,#00ff7e 114px,#00ffeb 119.5px,#00f7ff 120.5px,#0099ff 123px,#0003ff 126.5px,#0000ff 127px,#000bff 127.5px,#00a9ff 130.5px,#00fdff 132px,#00ff37 136px,#00ff0b 137px,#09ff00 137.5px,#86ff00 141px,#ecff00 145px,#fffe00 146px,#ffb500 151px,#ff8200 157.5px,#ff6400 168px,#ff5a00 201.5px,#ff6b00 208.5px,#ff8f00 212px,#ffca00 214.5px,#fbff00 216px,#abff00 217.5px,#3fff00 219px,#15ff00 219.5px,#00ff1a 220px,#00ffed 222px,#00d9ff 222.5px,#007aff 223.5px,#0092ff 224px,#00fbff 225px,#00ff2c 227px,#03ff00 227.5px,#7dff00 229px,#d9ff00 230.5px,#f2ff00 231px,#fff600 231.5px,#ffb300 233.5px,#ff8400 236px,#ff6700 240px,#ff6400 247.5px,#ff7100 252px)"></i><i style="width:1px;background:linear-gradient(#ff4400 0px,#ff6700 53.5px,#ff8300 72px,#ffac00 81px,#ffe600 86.5px,#f9ff00 88.5px,#a5ff00 92.5px,#2fff00 96.5px,#00ff06 98px,#00ff93 102px,#00ff59 108px,#00ff5b 111px,#00ff80 114px,#00ffe8 119px,#00faff 120px,#009bff 122.5px,#0004ff 126px,#0000ff 126.5px,#000bff 127px,#00a9ff 130px,#00fdff 131.5px,#00ff37 135.5px,#00ff0c 136.5px,#09ff00 137px,#85ff00 140.5px,#ebff00 144.5px,#ffff00 145.5px,#ffb500 150.5px,#ff8300 157px,#ff6400 167.5px,#ff5a00 201.5px,#ff6b00 208.5px,#ff8f00 212px,#ffca00 214.5px,#fbff00 216px,#abff00 217.5px,#3eff00 219px,#13ff00 219.5px,#00ff1b 220px,#00ffef 222px,#00d7ff 222.5px,#00a3ff 223px,#0079ff 223.5px,#0094ff 224px,#00fdff 225px,#00ff2a 227px,#05ff00 227.5px,#7eff00 229px,#daff00 230.5px,#f3ff00 231px,#fff500 231.5px,#ffb300 233.5px,#ff8400 236px,#ff6700 240px,#ff6500 247.5px,#ff7200 252px)"></i><i style="width:1px;background:linear-gradient(#ff4400 0px,#ff6700 53.5px,#ff8300 72px,#ffac00 81px,#ffe500 86.5px,#f9ff00 88.5px,#a5ff00 92.5px,#2fff00 96.5px,#00ff05 98px,#00ff80 101.5px,#00ff87 102px,#00ff53 107.5px,#00ff55 110.5px,#00ff7a 113.5px,#00ffe4 118.5px,#00fcff 119.5px,#009dff 122px,#0006ff 125.5px,#0000ff 126px,#000bff 126.5px,#00a9ff 129.5px,#00fdff 131px,#00ff37 135px,#00ff0c 136px,#09ff00 136.5px,#85ff00 140px,#ebff00 144px,#ffff00 145px,#ffb500 150px,#ff8300 156.5px,#ff6400 167px,#ff5a00 201.5px,#ff6b00 208.5px,#ff8f00 212px,#ffca00 214.5px,#faff00 216px,#aaff00 217.5px,#3dff00 219px,#12ff00 219.5px,#00ff1c 220px,#00fff1 222px,#00d6ff 222.5px,#00a1ff 223px,#0078ff 223.5px,#0095ff 224px,#00ffff 225px,#00ff29 227px,#07ff00 227.5px,#80ff00 229px,#dbff00 230.5px,#f4ff00 231px,#fff400 231.5px,#ffb200 233.5px,#ff8400 236px,#ff6700 240px,#ff6500 247.5px,#ff7300 252px)"></i><i style="width:1px;background:linear-gradient(#ff4400 0px,#ff6800 54px,#ff8200 72px,#ffac00 81px,#ffe500 86.5px,#f9ff00 88.5px,#98ff00 93px,#00ff05 98px,#00ff7b 101.5px,#00ff4b 107.5px,#00ff53 110.5px,#00ff7d 113.5px,#00ffe1 118px,#00feff 119px,#0087ff 122px,#0006ff 125px,#0000ff 125.5px,#0024ff 126.5px,#00feff 130.5px,#00ff37 134.5px,#00ff0b 135.5px,#09ff00 136px,#85ff00 139.5px,#ebff00 143.5px,#ffff00 144.5px,#ffb500 149.5px,#ff8300 156px,#ff6400 166.5px,#ff5a00 201.5px,#ff6b00 208.5px,#ff9000 212px,#ffcb00 214.5px,#faff00 216px,#a9ff00 217.5px,#3cff00 219px,#11ff00 219.5px,#00ff1d 220px,#00fff2 222px,#00d4ff 222.5px,#00a0ff 223px,#0077ff 223.5px,#0097ff 224px,#00fffd 225px,#00ff27 227px,#08ff00 227.5px,#81ff00 229px,#dcff00 230.5px,#f5ff00 231px,#fff300 231.5px,#ffb200 233.5px,#ff8400 236px,#ff6700 240px,#ff6600 247.5px,#ff7400 252px)"></i><i style="width:1px;background:linear-gradient(#ff4400 0px,#ff6700 54px,#ff8200 72px,#ffac00 81px,#ffe600 86.5px,#f9ff00 88.5px,#96ff00 93px,#0cff00 97.5px,#00ff06 98px,#00ff6b 101px,#00ff66 102.5px,#00ff43 107px,#00ff4c 110px,#00ff77 113px,#00ffde 117.5px,#00fffe 118.5px,#009eff 121px,#0007ff 124.5px,#0000ff 125px,#0026ff 126px,#00fffe 130px,#00ff4c 133.5px,#00ff0a 135px,#1fff00 136px,#95ff00 139.5px,#f6ff00 143.5px,#fff500 144.5px,#ffb000 149.5px,#ff8000 156px,#ff6300 167px,#ff5b00 203px,#ff6e00 209px,#ff9000 212px,#ffcb00 214.5px,#f9ff00 216px,#a8ff00 217.5px,#3bff00 219px,#10ff00 219.5px,#00ff1f 220px,#00fff4 222px,#00d2ff 222.5px,#009eff 223px,#0076ff 223.5px,#0098ff 224px,#00fffb 225px,#00ff25 227px,#0aff00 227.5px,#82ff00 229px,#ddff00 230.5px,#f6ff00 231px,#ffdf00 232px,#ffa500 234px,#ff7900 237px,#ff6300 242px,#ff6f00 250.5px,#ff7500 252px)"></i><i style="width:1px;background:linear-gradient(#ff4400 0px,#ff6700 54px,#ff8200 72px,#ffac00 81px,#ffe700 86.5px,#fffe00 88px,#aeff00 92px,#2bff00 96.5px,#0aff00 97.5px,#00ff19 98.5px,#00ff5b 100.5px,#00ff5f 101.5px,#00ff3a 106.5px,#00ff44 109.5px,#00ff70 112.5px,#00ffcd 116.5px,#00fffb 118px,#00b4ff 120px,#0019ff 123.5px,#0007ff 124px,#0000ff 124.5px,#0042ff 126px,#00fffc 129.5px,#00ff4a 133px,#00ff08 134.5px,#20ff00 135.5px,#96ff00 139px,#f7ff00 143px,#fff500 144px,#ffaf00 149px,#ff8000 155.5px,#ff6300 166.5px,#ff5b00 203px,#ff6e00 209px,#ff9000 212px,#ffcb00 214.5px,#f9ff00 216px,#a8ff00 217.5px,#3aff00 219px,#0fff00 219.5px,#00ff20 220px,#00fff6 222px,#009dff 223px,#0076ff 223.5px,#009aff 224px,#00fffa 225px,#00ff24 227px,#0bff00 227.5px,#84ff00 229px,#deff00 230.5px,#f7ff00 231px,#ffde00 232px,#ffa500 234px,#ff7800 237px,#ff6300 242px,#ff7000 250.5px,#ff7600 252px)"></i><i style="width:1px;background:linear-gradient(#ff4400 0px,#ff6800 54.5px,#ff8200 72px,#ffad00 81px,#ffe800 86.5px,#ffff00 88px,#9fff00 92.5px,#18ff00 97px,#00ff0a 98px,#00ff4b 100px,#00ff54 100.5px,#00ff31 106px,#00ff3c 109px,#00ff68 112px,#00ffc8 116px,#00fff9 117.5px,#00e0ff 118.5px,#001aff 123px,#0008ff 123.5px,#0002ff 124px,#0044ff 125.5px,#00fffa 129px,#00ff49 132.5px,#00ff07 134px,#34ff00 135.5px,#a5ff00 139px,#f7ff00 142.5px,#fff400 143.5px,#ffaf00 148.5px,#ff8000 155px,#ff6300 166px,#ff5b00 203px,#ff6e00 209px,#ff9000 212px,#ffcb00 214.5px,#f8ff00 216px,#a7ff00 217.5px,#39ff00 219px,#0eff00 219.5px,#00ff21 220px,#00fff7 222px,#009cff 223px,#0075ff 223.5px,#009bff 224px,#00fff8 225px,#00ff22 227px,#0dff00 227.5px,#85ff00 229px,#dfff00 230.5px,#f7ff00 231px,#ffde00 232px,#ffa500 234px,#ff7800 237px,#ff6300 242px,#ff7100 250.5px,#ff7800 252px)"></i><i style="width:1px;background:linear-gradient(#ff4400 0px,#ff6800 54.5px,#ff8200 72px,#ffa900 80.5px,#ffe200 86px,#fdff00 88px,#9dff00 92.5px,#05ff00 97.5px,#00ff45 100px,#00ff26 105.5px,#00ff32 108.5px,#00ff60 111.5px,#00ffc3 115.5px,#00fff5 117px,#00f6ff 117.5px,#001bff 122.5px,#0009ff 123px,#0003ff 123.5px,#0045ff 125px,#00eaff 128px,#00fff9 128.5px,#00ff48 132px,#00ff07 133.5px,#34ff00 135px,#a5ff00 138.5px,#f7ff00 142px,#fff400 143px,#ffaf00 148px,#ff8000 154.5px,#ff6300 165.5px,#ff5b00 202.5px,#ff6e00 209px,#ff9000 212px,#ffcc00 214.5px,#f8ff00 216px,#a6ff00 217.5px,#38ff00 219px,#0cff00 219.5px,#00ff22 220px,#00fff9 222px,#009aff 223px,#0075ff 223.5px,#009dff 224px,#00fff6 225px,#00ff20 227px,#0eff00 227.5px,#86ff00 229px,#e0ff00 230.5px,#f8ff00 231px,#ffcc00 232.5px,#ff9100 235px,#ff6d00 238.5px,#ff6300 244.5px,#ff7900 252px)"></i><i style="width:1px;background:linear-gradient(#ff4400 0px,#ff6900 56px,#ff8300 72.5px,#ffac00 81px,#ffe900 86.5px,#fdff00 88px,#9bff00 92.5px,#04ff00 97.5px,#00ff37 99.5px,#00ff1a 105px,#00ff27 108px,#00ff56 111px,#00ffbd 115px,#00faff 117px,#001bff 122px,#0001ff 123px,#0043ff 124.5px,#00fffc 128px,#00ff4b 131.5px,#00ff09 133px,#1fff00 134px,#95ff00 137.5px,#f6ff00 141.5px,#fff500 142.5px,#ffb000 147.5px,#ff8100 154px,#ff6300 165px,#ff5b00 202.5px,#ff6e00 209px,#ff9000 212px,#ffcc00 214.5px,#fff100 215.5px,#f7ff00 216px,#a5ff00 217.5px,#37ff00 219px,#0bff00 219.5px,#00ff24 220px,#00fffa 222px,#0099ff 223px,#0076ff 223.5px,#009eff 224px,#00d2ff 224.5px,#00fff4 225px,#00ff1f 227px,#10ff00 227.5px,#87ff00 229px,#e1ff00 230.5px,#f9ff00 231px,#ffaf00 233.5px,#ff8300 236px,#ff6700 240px,#ff6900 247.5px,#ff7a00 252px)"></i><i style="width:1px;background:linear-gradient(#ff4400 0px,#ff6a00 57.5px,#ff8400 73px,#ffab00 81px,#ffe800 86.5px,#fdff00 88px,#9aff00 92.5px,#03ff00 97.5px,#00ff28 99px,#00ff0d 104.5px,#00ff1b 107.5px,#00ff4b 110.5px,#00ffa6 114px,#00ffff 116.5px,#000bff 122px,#0000ff 122.5px,#0025ff 123.5px,#00fdff 127.5px,#00ff38 131.5px,#00ff0d 132.5px,#08ff00 133px,#83ff00 136.5px,#eaff00 140.5px,#fdff00 141.5px,#ffb700 146.5px,#ff8400 153px,#ff6500 163.5px,#ff5900 200px,#ff6800 208px,#ff8800 211.5px,#ffbd00 214px,#fff100 215.5px,#f7ff00 216px,#a5ff00 217.5px,#36ff00 219px,#0aff00 219.5px,#00ff25 220px,#00fffc 222px,#0097ff 223px,#0077ff 223.5px,#00a0ff 224px,#00d4ff 224.5px,#00fff3 225px,#00ff1d 227px,#12ff00 227.5px,#89ff00 229px,#e2ff00 230.5px,#faff00 231px,#ffaf00 233.5px,#ff8200 236px,#ff6700 240px,#ff6900 247.5px,#ff7b00 252px)"></i><i style="width:1px;background:linear-gradient(#ff4400 0px,#ff6a00 58.5px,#ff8500 73.5px,#ffaa00 81px,#ffe100 86px,#fdff00 88px,#9aff00 92.5px,#03ff00 97.5px,#00ff18 98.5px,#01ff00 104px,#00ff0e 107px,#00ff3f 110px,#00ff9d 113.5px,#00fff8 116px,#00dbff 117px,#000eff 121.5px,#0000ff 122px,#000aff 122.5px,#0087ff 125px,#00f6ff 127px,#00ffd2 128px,#00ff28 131.5px,#02ff00 132.5px,#7fff00 136px,#e7ff00 140px,#fffa00 141.5px,#ffb300 146.5px,#ff8200 153px,#ff6500 163.5px,#ff5a00 201px,#ff6800 208px,#ff8900 211.5px,#ffbd00 214px,#fff100 215.5px,#f7ff00 216px,#a4ff00 217.5px,#35ff00 219px,#09ff00 219.5px,#00ff26 220px,#00fffd 222px,#0096ff 223px,#0077ff 223.5px,#00a1ff 224px,#00d5ff 224.5px,#00fff1 225px,#00ff1b 227px,#13ff00 227.5px,#8aff00 229px,#e3ff00 230.5px,#fbff00 231px,#ffae00 233.5px,#ff8200 236px,#ff6700 240px,#ff6a00 247.5px,#ff7c00 252px)"></i><i style="width:1px;background:linear-gradient(#ff4400 0px,#ff6b00 59.5px,#ff8600 74px,#ffae00 81.5px,#ffe800 86.5px,#fdff00 88px,#97ff00 92.5px,#02ff00 97.5px,#00ff0d 98.5px,#06ff00 101.5px,#08ff00 105px,#00ff09 107px,#00ff3f 110px,#00ffa4 113.5px,#00fff0 115.5px,#00f8ff 116px,#0011ff 121px,#0001ff 121.5px,#0004ff 122px,#0063ff 124px,#00eeff 126.5px,#00fff5 127px,#00ff46 130.5px,#00ff04 132px,#8aff00 136px,#eeff00 140px,#fffd00 141px,#ffb500 146px,#ff8300 152.5px,#ff6500 163px,#ff5900 200.5px,#ff6800 208px,#ff8900 211.5px,#ffbe00 214px,#fff200 215.5px,#f6ff00 216px,#a3ff00 217.5px,#34ff00 219px,#08ff00 219.5px,#00ff27 220px,#00ffff 222px,#0095ff 223px,#0078ff 223.5px,#00a2ff 224px,#00d7ff 224.5px,#00ffef 225px,#00ff1a 227px,#14ff00 227.5px,#8bff00 229px,#e4ff00 230.5px,#fcff00 231px,#ffae00 233.5px,#ff8200 236px,#ff6700 240px,#ff6b00 247.5px,#ff7e00 252px)"></i><i style="width:1px;background:linear-gradient(#ff4400 0px,#ff6c00 61px,#ff8700 74.5px,#ffad00 81.5px,#ffe800 86.5px,#fcff00 88px,#a3ff00 92px,#02ff00 97.5px,#07ff00 99.5px,#16ff00 103.5px,#00ff04 107px,#00ff40 110px,#00ffac 113.5px,#00fffd 115.5px,#0016ff 120.5px,#0004ff 121px,#0000ff 121.5px,#0027ff 122.5px,#00ffff 126.5px,#00ff37 130.5px,#00ff0c 131.5px,#09ff00 132px,#84ff00 135.5px,#eaff00 139.5px,#feff00 140.5px,#ffb700 145.5px,#ff8400 152px,#ff6500 162.5px,#ff5900 200px,#ff6800 208px,#ff8900 211.5px,#ffbe00 214px,#fff200 215.5px,#f6ff00 216px,#a3ff00 217.5px,#33ff00 219px,#07ff00 219.5px,#00ff29 220px,#00feff 222px,#0094ff 223px,#0079ff 223.5px,#00a4ff 224px,#00d9ff 224.5px,#00ffed 225px,#00ff18 227px,#16ff00 227.5px,#8cff00 229px,#e5ff00 230.5px,#fcff00 231px,#ffba00 233px,#ff8800 235.5px,#ff6b00 239px,#ff6700 245.5px,#ff7f00 252px)"></i><i style="width:1px;background:linear-gradient(#ff4400 0px,#ff6d00 62px,#ff8800 75px,#ffac00 81.5px,#ffe800 86.5px,#fcff00 88px,#a2ff00 92px,#10ff00 97px,#0aff00 98px,#21ff00 102.5px,#13ff00 105.5px,#00ff00 107px,#00ff41 110px,#00ffa2 113px,#00fff5 115px,#00f3ff 115.5px,#001bff 120px,#0008ff 120.5px,#0000ff 121px,#0008ff 121.5px,#0086ff 124px,#00f5ff 126px,#00ffee 126.5px,#00ff40 130px,#01ff00 131.5px,#7eff00 135px,#e6ff00 139px,#fffb00 140.5px,#ffb300 145.5px,#ff8200 152px,#ff6500 162.5px,#ff5900 200.5px,#ff6800 208px,#ff8900 211.5px,#ffbe00 214px,#fff300 215.5px,#f5ff00 216px,#a2ff00 217.5px,#32ff00 219px,#06ff00 219.5px,#00ff5c 220.5px,#00fcff 222px,#0092ff 223px,#007aff 223.5px,#00daff 224.5px,#00ffec 225px,#00ff17 227px,#17ff00 227.5px,#8dff00 229px,#e6ff00 230.5px,#fdff00 231px,#ffba00 233px,#ff8800 235.5px,#ff6b00 239px,#ff6700 245.5px,#ff8000 252px)"></i><i style="width:1px;background:linear-gradient(#ff4400 0px,#ff6d00 63px,#ff8900 75.5px,#ffb000 82px,#fff000 87px,#fcff00 88px,#a1ff00 92px,#14ff00 97px,#2cff00 102.5px,#19ff00 105.5px,#00ff06 107.5px,#00ff52 110.5px,#00ffc0 113.5px,#00fcff 115px,#000dff 120px,#0000ff 120.5px,#0000ff 121px,#005fff 123px,#00fff9 126px,#00ff49 129.5px,#00ff08 131px,#20ff00 132px,#96ff00 135.5px,#f6ff00 139.5px,#fff500 140.5px,#ffb000 145.5px,#ff8100 152px,#ff6400 163px,#ff5b00 202.5px,#ff6e00 209px,#ff9100 212px,#ffce00 214.5px,#fff300 215.5px,#f5ff00 216px,#a1ff00 217.5px,#31ff00 219px,#05ff00 219.5px,#00ff5e 220.5px,#00fbff 222px,#0091ff 223px,#007bff 223.5px,#00dcff 224.5px,#00ffea 225px,#00ff15 227px,#19ff00 227.5px,#8eff00 229px,#e6ff00 230.5px,#feff00 231px,#ffb900 233px,#ff8800 235.5px,#ff6b00 239px,#ff6800 245.5px,#ff8200 252px)"></i><i style="width:1px;background:linear-gradient(#ff4400 0px,#ff6d00 63.5px,#ff8a00 76px,#ffb400 82.5px,#fff000 87px,#fcff00 88px,#9fff00 92px,#1fff00 96.5px,#34ff00 102px,#22ff00 105px,#03ff00 107px,#00ff3a 109.5px,#00ffa2 112.5px,#00fff9 114.5px,#00bdff 116px,#0013ff 119.5px,#0000ff 120px,#0009ff 121px,#00a6ff 124px,#00f9ff 125.5px,#00ff9c 127.5px,#00ff11 130.5px,#04ff00 131px,#80ff00 134.5px,#e7ff00 138.5px,#fff900 140px,#ffb300 145px,#ff8200 151.5px,#ff6500 162px,#ff5900 200.5px,#ff6800 208px,#ff8900 211.5px,#ffbf00 214px,#fff300 215.5px,#f4ff00 216px,#a1ff00 217.5px,#30ff00 219px,#04ff00 219.5px,#00ff5f 220.5px,#00f9ff 222px,#0090ff 223px,#007cff 223.5px,#00ddff 224.5px,#00ffe8 225px,#00ff14 227px,#1aff00 227.5px,#90ff00 229px,#e7ff00 230.5px,#ffff00 231px,#ffb900 233px,#ff8800 235.5px,#ff6b00 239px,#ff6800 245.5px,#ff8300 252px)"></i><i style="width:1px;background:linear-gradient(#ff4400 0px,#ff6e00 64px,#ff8a00 76px,#ffaf00 82px,#ffe900 86.5px,#faff00 88px,#8eff00 92.5px,#2aff00 96px,#2fff00 98px,#3bff00 102px,#23ff00 105px,#00ff00 107px,#00ff50 110px,#00ffc3 113px,#00ffef 114px,#00f7ff 114.5px,#001aff 119px,#0005ff 119.5px,#0000ff 120.5px,#007dff 123px,#00ecff 125px,#00fff6 125.5px,#00ff47 129px,#00ff05 130.5px,#97ff00 135px,#f7ff00 139px,#fff500 140px,#ffb000 145px,#ff8100 151.5px,#ff6400 162.5px,#ff5b00 202.5px,#ff6e00 209px,#ff9100 212px,#ffce00 214.5px,#fff400 215.5px,#f4ff00 216px,#a0ff00 217.5px,#2fff00 219px,#03ff00 219.5px,#00ff96 221px,#00f8ff 222px,#008fff 223px,#007dff 223.5px,#00dfff 224.5px,#00ffe7 225px,#00ff12 227px,#1cff00 227.5px,#91ff00 229px,#e8ff00 230.5px,#fffe00 231px,#ffb900 233px,#ff8800 235.5px,#ff6a00 239.5px,#ff6b00 246.5px,#ff8500 252px)"></i><i style="width:1px;background:linear-gradient(#ff4400 0px,#ff6e00 64px,#ff8a00 76px,#ffb000 82px,#ffea00 86.5px,#f8ff00 88px,#8bff00 92.5px,#35ff00 95.5px,#31ff00 96.5px,#43ff00 101px,#31ff00 104px,#00ff03 107px,#00ff58 110px,#00ffcf 113px,#00fffd 114px,#000bff 119px,#0000ff 119.5px,#0000ff 120px,#000aff 120.5px,#00c4ff 124px,#00fbff 125px,#00ff24 129.5px,#06ff00 130.5px,#81ff00 134px,#e8ff00 138px,#fff900 139.5px,#ffb200 144.5px,#ff8200 151px,#ff6400 162px,#ff5a00 202px,#ff6b00 208.5px,#ff9100 212px,#ffcf00 214.5px,#fff400 215.5px,#f3ff00 216px,#9fff00 217.5px,#2eff00 219px,#02ff00 219.5px,#00ff97 221px,#00f6ff 222px,#008dff 223px,#007eff 223.5px,#00e1ff 224.5px,#00ffe5 225px,#00ff11 227px,#1dff00 227.5px,#92ff00 229px,#e9ff00 230.5px,#fffe00 231px,#ffb800 233px,#ff8700 235.5px,#ff6a00 239.5px,#ff6c00 246.5px,#ff8700 252px)"></i><i style="width:2px;background:linear-gradient(#ff4400 0px,#ff6e00 64px,#ff8a00 76px,#ffb100 82px,#ffed00 86.5px,#ffff00 87.5px,#93ff00 92px,#40ff00 95px,#50ff00 100.5px,#3aff00 103.5px,#04ff00 106.5px,#00ff33 108.5px,#00ffa1 111.5px,#00fffb 113.5px,#000bff 118.5px,#0000ff 119px,#0005ff 120px,#00a2ff 123px,#00f6ff 124.5px,#00ffd2 125.5px,#00ff29 129px,#02ff00 130px,#7eff00 133.5px,#e6ff00 137.5px,#fffb00 139px,#ffb300 144px,#ff8200 150.5px,#ff6500 161px,#ff5900 200px,#ff6800 208px,#ff8900 211.5px,#ffbf00 214px,#fff500 215.5px,#f3ff00 216px,#9eff00 217.5px,#2dff00 219px,#00ff00 219.5px,#00ff99 221px,#00ffd1 221.5px,#00f4ff 222px,#008cff 223px,#007fff 223.5px,#00e3ff 224.5px,#00ffe3 225px,#00ff0f 227px,#1fff00 227.5px,#93ff00 229px,#eaff00 230.5px,#fffd00 231px,#ffb700 233px,#ff8700 235.5px,#ff6a00 239.5px,#ff6c00 246px,#ff8900 252px)"></i><i style="width:2px;background:linear-gradient(#ff4400 0px,#ff6e00 64px,#ff8800 75.5px,#ffaf00 81.5px,#ffeb00 86px,#fffe00 87px,#a2ff00 91px,#53ff00 94px,#64ff00 99px,#53ff00 102px,#21ff00 105px,#00ff04 106.5px,#00ff67 109.5px,#00fdff 113px,#0003ff 118px,#0006ff 119.5px,#00c1ff 123px,#00f8ff 124px,#00ffb6 125.5px,#00ff11 129px,#03ff00 129.5px,#80ff00 133px,#e7ff00 137px,#fffa00 138.5px,#ffb300 143.5px,#ff8200 150px,#ff6500 160.5px,#ff5900 200px,#ff6800 208px,#ff8a00 211.5px,#ffc000 214px,#fff500 215.5px,#f2ff00 216px,#9dff00 217.5px,#2bff00 219px,#00ff02 219.5px,#00ff9c 221px,#00ffd4 221.5px,#00f1ff 222px,#0089ff 223px,#0081ff 223.5px,#00e6ff 224.5px,#00ffe0 225px,#00ff0c 227px,#22ff00 227.5px,#96ff00 229px,#ecff00 230.5px,#fffb00 231px,#ffb700 233px,#ff8700 235.5px,#ff6a00 239.5px,#ff6d00 246px,#ff8d00 252px)"></i><i style="width:2px;background:linear-gradient(#ff4400 0px,#ff6e00 64px,#ff8900 75px,#ffb000 81px,#ffef00 85.5px,#fbff00 86.5px,#69ff00 92.5px,#7aff00 98px,#66ff00 101px,#33ff00 104px,#00ff00 106px,#00ff67 109px,#00ffec 112px,#00f9ff 112.5px,#0011ff 117px,#0000ff 117.5px,#0005ff 119px,#00f8ff 123.5px,#00ffb6 125px,#00ff11 128.5px,#04ff00 129px,#80ff00 132.5px,#e7ff00 136.5px,#fffa00 138px,#ffb300 143px,#ff8200 149.5px,#ff6500 160px,#ff5900 200px,#ff6800 208px,#ff8900 211.5px,#ffc000 214px,#fff500 215.5px,#f2ff00 216px,#9dff00 217.5px,#2aff00 219px,#00ff03 219.5px,#00ff9e 221px,#00ffd6 221.5px,#00efff 222px,#0087ff 223px,#0083ff 223.5px,#00e9ff 224.5px,#00ffdc 225px,#00ff39 226.5px,#00ff08 227px,#4fff00 228px,#b8ff00 229.5px,#eeff00 230.5px,#fff900 231px,#ffb500 233px,#ff8600 235.5px,#ff6b00 239.5px,#ff6f00 246px,#ff9000 252px)"></i><i style="width:2px;background:linear-gradient(#ff4400 0px,#ff6d00 62.5px,#ff8600 73.5px,#ffad00 79.5px,#ffeb00 84px,#fffe00 85px,#95ff00 89.5px,#70ff00 91px,#8cff00 96.5px,#77ff00 100px,#39ff00 103.5px,#03ff00 105.5px,#00ff52 108px,#00ffed 111.5px,#00f8ff 112px,#000eff 116.5px,#0000ff 117px,#0000ff 118.5px,#009fff 121.5px,#00f3ff 123px,#00fff0 123.5px,#00ff41 127px,#00ff00 128.5px,#7dff00 132px,#e5ff00 136px,#fffb00 137.5px,#ffb400 142.5px,#ff8300 149px,#ff6500 159.5px,#ff5900 200px,#ff6800 208px,#ff8800 211.5px,#ffbe00 214px,#fff400 215.5px,#f3ff00 216px,#9eff00 217.5px,#2bff00 219px,#00ff03 219.5px,#00ff9f 221px,#00ffd8 221.5px,#00edff 222px,#0085ff 223px,#0085ff 223.5px,#00edff 224.5px,#00ffd8 225px,#00ff34 226.5px,#00ff03 227px,#7aff00 228.5px,#d9ff00 230px,#f2ff00 230.5px,#fff600 231px,#ffb300 233px,#ff8500 235.5px,#ff6b00 239.5px,#ff7000 246px,#ff9400 252px)"></i><i style="width:2px;background:linear-gradient(#ff4400 0px,#ff6c00 61.5px,#ff8600 72.5px,#ffb500 79px,#fbff00 84px,#78ff00 89.5px,#9dff00 94.5px,#92ff00 98px,#61ff00 101.5px,#00ff05 105.5px,#00ff74 108.5px,#00feff 111.5px,#0011ff 116px,#0000ff 116.5px,#0000ff 118px,#000aff 118.5px,#00fffd 123px,#00ff4b 126.5px,#00ff09 128px,#1fff00 129px,#95ff00 132.5px,#f5ff00 136.5px,#fff600 137.5px,#ffb100 142.5px,#ff8100 149px,#ff6400 160px,#ff5a00 202px,#ff6a00 208.5px,#ff8f00 212px,#ffcc00 214.5px,#fff200 215.5px,#f5ff00 216px,#a0ff00 217.5px,#2cff00 219px,#00ff02 219.5px,#00ffa0 221px,#00ffd9 221.5px,#00ebff 222px,#0083ff 223px,#0088ff 223.5px,#00f1ff 224.5px,#00ffd3 225px,#00ff2f 226.5px,#02ff00 227px,#7fff00 228.5px,#ddff00 230px,#f6ff00 230.5px,#ffde00 231.5px,#ffa500 233.5px,#ff7a00 236.5px,#ff6900 241px,#ff7b00 248px,#ff9800 252px)"></i><i style="width:2px;background:linear-gradient(#ff4400 0px,#ff6b00 60.5px,#ff8500 71.5px,#ffb600 78px,#fff300 82px,#f7ff00 83px,#80ff00 88px,#adff00 93.5px,#a3ff00 97px,#73ff00 100.5px,#21ff00 104px,#03ff00 105px,#00ff57 107.5px,#00fff7 111px,#00d3ff 112px,#0000ff 116px,#0000ff 118px,#002cff 119px,#00f0ff 122.5px,#00fff2 123px,#00ff42 126.5px,#00ff01 128px,#7dff00 131.5px,#e5ff00 135.5px,#fffb00 137px,#ffb400 142px,#ff8300 148.5px,#ff6500 159px,#ff5900 200px,#ff6700 208px,#ff8600 211.5px,#ffbb00 214px,#fff100 215.5px,#f7ff00 216px,#a1ff00 217.5px,#2dff00 219px,#00ff02 219.5px,#00ffa0 221px,#00ffda 221.5px,#00eaff 222px,#0081ff 223px,#008aff 223.5px,#00f5ff 224.5px,#00ff95 225.5px,#00ff2a 226.5px,#07ff00 227px,#84ff00 228.5px,#e1ff00 230px,#faff00 230.5px,#ffae00 233px,#ff8300 235.5px,#ff6b00 239.5px,#ff7400 246px,#ff9d00 252px)"></i><i style="width:2px;background:linear-gradient(#ff4400 0px,#ff6b00 60px,#ff8400 70.5px,#ffb100 76.5px,#ffec00 80.5px,#feff00 81.5px,#88ff00 86.5px,#9aff00 88.5px,#baff00 92px,#b6ff00 95.5px,#8dff00 99px,#44ff00 102.5px,#00ff05 105px,#00ff77 108px,#00ffed 110.5px,#00f8ff 111px,#0007ff 115.5px,#0000ff 117.5px,#0000ff 118px,#00f9ff 122.5px,#00ff51 126px,#00ff0e 127.5px,#06ff00 128px,#82ff00 131.5px,#e9ff00 135.5px,#fdff00 136.5px,#ffb200 142px,#ff8200 148.5px,#ff6400 159.5px,#ff5a00 202px,#ff6900 208.5px,#ff8d00 212px,#ffc900 214.5px,#f8ff00 216px,#a3ff00 217.5px,#2eff00 219px,#00ff01 219.5px,#00ffa1 221px,#00ffdb 221.5px,#00e8ff 222px,#0080ff 223px,#008cff 223.5px,#00f9ff 224.5px,#00ff25 226.5px,#0cff00 227px,#89ff00 228.5px,#e5ff00 230px,#feff00 230.5px,#ffb800 232.5px,#ff8700 235px,#ff6d00 238.5px,#ff7000 244.5px,#ff9700 251px,#ffa100 252px)"></i><i style="width:2px;background:linear-gradient(#ff4400 0px,#ff6b00 59px,#ff8300 69.5px,#ffad00 75px,#ffe500 79px,#fbff00 80.5px,#90ff00 85px,#92ff00 86px,#c2ff00 90px,#c8ff00 93.5px,#aaff00 97px,#62ff00 101px,#02ff00 104.5px,#00ff6f 107.5px,#00fffd 110.5px,#000eff 115px,#0000ff 115.5px,#0005ff 118px,#00fffb 122.5px,#00ff49 126px,#00ff07 127.5px,#34ff00 129px,#a5ff00 132.5px,#f7ff00 136px,#fff500 137px,#ffb000 142px,#ff8100 148.5px,#ff6400 159.5px,#ff5a00 202.5px,#ff6b00 209px,#ff8c00 212px,#ffb800 214px,#faff00 216px,#a4ff00 217.5px,#2eff00 219px,#00ff00 219.5px,#00ffa2 221px,#00ffdd 221.5px,#00e6ff 222px,#007eff 223px,#008fff 223.5px,#00fdff 224.5px,#00ff1f 226.5px,#12ff00 227px,#8eff00 228.5px,#e9ff00 230px,#fffd00 230.5px,#ffb600 232.5px,#ff8600 235px,#ff6d00 238.5px,#ff7200 244.5px,#ff9700 250.5px,#ffa600 252px)"></i><i style="width:2px;background:linear-gradient(#ff4400 0px,#ff6a00 58px,#ff8200 68.5px,#ffad00 74px,#fff200 78.5px,#f7ff00 79.5px,#96ff00 83.5px,#90ff00 84px,#cfff00 89px,#d4ff00 92.5px,#aeff00 96.5px,#66ff00 100.5px,#08ff00 104px,#00ff1a 105px,#00ffac 108.5px,#00fff6 110px,#00d4ff 111px,#0014ff 114.5px,#0000ff 115px,#0000ff 117.5px,#000eff 118px,#00f2ff 122px,#00fff0 122.5px,#00ff3f 126px,#02ff00 127.5px,#80ff00 131px,#e7ff00 135px,#fffa00 136.5px,#ffb300 141.5px,#ff8200 148px,#ff6500 158.5px,#ff5900 200.5px,#ff6800 208.5px,#ff8b00 212px,#ffb700 214px,#fcff00 216px,#a6ff00 217.5px,#2fff00 219px,#00ff00 219.5px,#00ffa2 221px,#00ffde 221.5px,#00e5ff 222px,#007cff 223px,#0091ff 223.5px,#00fffd 224.5px,#00ff1a 226.5px,#17ff00 227px,#93ff00 228.5px,#edff00 230px,#fff900 230.5px,#ffb300 232.5px,#ff8500 235px,#ff6d00 238.5px,#ff7300 244.5px,#ff9b00 250.5px,#ffab00 252px)"></i><i style="width:2px;background:linear-gradient(#ff4400 0px,#ff6900 57px,#ff8100 67.5px,#ffad00 73px,#fff500 77.5px,#feff00 78px,#94ff00 82.5px,#d7ff00 87.5px,#e1ff00 90.5px,#c5ff00 94.5px,#7eff00 99px,#2aff00 102.5px,#00ff05 104px,#00ff8f 107.5px,#00fff0 109.5px,#00f4ff 110px,#0000ff 114.5px,#0000ff 117.5px,#00ffff 122px,#00ff4b 125.5px,#00ff09 127px,#20ff00 128px,#96ff00 131.5px,#f6ff00 135.5px,#fff500 136.5px,#ffb000 141.5px,#ff8100 148px,#ff6400 159px,#ff5a00 203px,#ff6a00 209px,#ff8900 212px,#ffb500 214px,#feff00 216px,#a7ff00 217.5px,#30ff00 219px,#01ff00 219.5px,#00ffa3 221px,#00ffdf 221.5px,#00e3ff 222px,#00aaff 222.5px,#007aff 223px,#0094ff 223.5px,#00fff8 224.5px,#00ff15 226.5px,#1cff00 227px,#97ff00 228.5px,#f1ff00 230px,#fff500 230.5px,#ffb100 232.5px,#ff8400 235px,#ff6d00 239px,#ff7800 245px,#ffa500 251px,#ffb100 252px)"></i><i style="width:2px;background:linear-gradient(#ff4400 0px,#ff6800 56px,#ff8000 66.5px,#ffa700 71.5px,#ffe500 75.5px,#faff00 77px,#99ff00 81px,#aaff00 82.5px,#deff00 86px,#ecff00 89px,#d9ff00 92.5px,#94ff00 97.5px,#3dff00 101.5px,#01ff00 103.5px,#00ff72 106.5px,#00fdff 109.5px,#0007ff 114px,#0000ff 115.5px,#0000ff 117px,#000cff 117.5px,#00f2ff 121.5px,#00fff0 122px,#00ff3f 125.5px,#02ff00 127px,#80ff00 130.5px,#e7ff00 134.5px,#fff900 136px,#ffb300 141px,#ff8200 147.5px,#ff6400 158.5px,#ff5a00 202.5px,#ff6900 209px,#ff8800 212px,#ffb400 214px,#ffff00 216px,#a9ff00 217.5px,#31ff00 219px,#02ff00 219.5px,#00ffa4 221px,#00ffe0 221.5px,#00e1ff 222px,#00a7ff 222.5px,#0079ff 223px,#0097ff 223.5px,#00ceff 224px,#00fff4 224.5px,#00ff44 226px,#00ff0f 226.5px,#21ff00 227px,#9cff00 228.5px,#f5ff00 230px,#ffdd00 231px,#ffa300 233px,#ff7d00 235.5px,#ff6d00 239.5px,#ff7f00 246px,#ffb000 251.5px,#ffb700 252px)"></i><i style="width:2px;background:linear-gradient(#ff4400 0px,#ff6800 55.5px,#ff8000 65.5px,#ffa700 70.5px,#ffe800 74.5px,#fffd00 75.5px,#9eff00 79.5px,#9cff00 80px,#e4ff00 84.5px,#f5ff00 87.5px,#e6ff00 91px,#9fff00 96.5px,#4fff00 100.5px,#07ff00 103px,#00ff1b 104px,#00ffab 107.5px,#00fff5 109px,#00efff 109.5px,#0014ff 113.5px,#0000ff 114px,#0000ff 117px,#00fffe 121.5px,#00ff4a 125px,#00ff08 126.5px,#21ff00 127.5px,#97ff00 131px,#f7ff00 135px,#fff500 136px,#ffb000 141px,#ff8100 147.5px,#ff6400 158.5px,#ff5a00 203px,#ff6c00 209.5px,#ff9000 212.5px,#ffc100 214.5px,#fffd00 216px,#abff00 217.5px,#33ff00 219px,#02ff00 219.5px,#00ff6a 220.5px,#00ffe2 221.5px,#00dfff 222px,#00a5ff 222.5px,#0077ff 223px,#0099ff 223.5px,#00d2ff 224px,#00fff0 224.5px,#00ff3f 226px,#00ff0a 226.5px,#27ff00 227px,#a1ff00 228.5px,#f9ff00 230px,#ffac00 232.5px,#ff8200 235px,#ff6d00 239px,#ff7c00 245px,#ffaa00 250.5px,#ffbd00 252px)"></i><i style="width:2px;background:linear-gradient(#ff4400 0px,#ff6700 54.5px,#ff7f00 64.5px,#ffa700 69.5px,#ffeb00 73.5px,#fcff00 74.5px,#a4ff00 78px,#9dff00 78.5px,#eaff00 83px,#feff00 86px,#f2ff00 89.5px,#aaff00 95.5px,#60ff00 99.5px,#00ff01 103px,#00ff88 106.5px,#00fdff 109px,#0008ff 113.5px,#0000ff 114.5px,#0000ff 116.5px,#000aff 117px,#00f0ff 121px,#00fff2 121.5px,#00ff40 125px,#01ff00 126.5px,#7fff00 130px,#e7ff00 134px,#fffa00 135.5px,#ffb300 140.5px,#ff8200 147px,#ff6500 157.5px,#ff5900 200.5px,#ff6500 208.5px,#ff8600 212px,#ffb000 214px,#ffe400 215.5px,#fffb00 216px,#cdff00 217px,#60ff00 218.5px,#03ff00 219.5px,#00ff6a 220.5px,#00ffe3 221.5px,#00deff 222px,#00a3ff 222.5px,#0076ff 223px,#009cff 223.5px,#00d5ff 224px,#00ffeb 224.5px,#00ff3a 226px,#00ff05 226.5px,#81ff00 228px,#e3ff00 229.5px,#fdff00 230px,#ffb600 232px,#ff8600 234.5px,#ff6f00 238px,#ff7900 244px,#ffa300 249.5px,#ffc300 252px)"></i><i style="width:2px;background:linear-gradient(#ff4400 0px,#ff6700 54px,#ff7e00 63.5px,#ffa800 68.5px,#ffe400 72px,#fffb00 73px,#9fff00 77px,#f5ff00 82px,#fffa00 84px,#f9ff00 88.5px,#a6ff00 95.5px,#5aff00 99.5px,#07ff00 102.5px,#00ff1b 103.5px,#00ffa9 107px,#00fff2 108.5px,#00f3ff 109px,#0000ff 113.5px,#0000ff 116.5px,#0031ff 117.5px,#00fbff 121px,#00ff37 125px,#00ff0b 126px,#09ff00 126.5px,#85ff00 130px,#ebff00 134px,#ffff00 135px,#ffb600 140px,#ff8400 146.5px,#ff6600 157px,#ff5900 199px,#ff6300 208px,#ff7e00 211.5px,#ffaf00 214px,#ffe300 215.5px,#fff900 216px,#ceff00 217px,#61ff00 218.5px,#04ff00 219.5px,#00ff6a 220.5px,#00ffe4 221.5px,#00dcff 222px,#00a1ff 222.5px,#0075ff 223px,#009fff 223.5px,#00d9ff 224px,#00ffe7 224.5px,#00ff34 226px,#01ff00 226.5px,#86ff00 228px,#e8ff00 229.5px,#fffd00 230px,#ffc300 231.5px,#ff9300 233.5px,#ff7500 236.5px,#ff7200 241.5px,#ff9400 247.5px,#ffca00 252px)"></i><i style="width:2px;background:linear-gradient(#ff4400 0px,#ff6700 53px,#ff8000 62.5px,#ffa800 67px,#ffe300 70.5px,#fffa00 71.5px,#9cff00 75.5px,#b4ff00 77px,#f4ff00 80.5px,#fffb00 82px,#fff500 85.5px,#fbff00 88px,#a4ff00 95.5px,#56ff00 99.5px,#01ff00 102.5px,#00ff6f 105.5px,#00fffb 108.5px,#000eff 113px,#0000ff 113.5px,#0003ff 116.5px,#00e9ff 120.5px,#00fff9 121px,#00ff46 124.5px,#00ff04 126px,#8aff00 130px,#eeff00 134px,#fffc00 135px,#ffb400 140px,#ff8300 146.5px,#ff6500 157px,#ff5900 200px,#ff6400 208.5px,#ff8400 212px,#ffad00 214px,#ffe100 215.5px,#fff700 216px,#edff00 216.5px,#8bff00 218px,#04ff00 219.5px,#00ff6a 220.5px,#00ffe6 221.5px,#00daff 222px,#009fff 222.5px,#0075ff 223px,#00a2ff 223.5px,#00ddff 224px,#00ffe2 224.5px,#00ff2f 226px,#06ff00 226.5px,#8bff00 228px,#ecff00 229.5px,#fff900 230px,#ffc000 231.5px,#ff9200 233.5px,#ff7500 236.5px,#ff7400 241.5px,#ff9800 247.5px,#ffd100 252px)"></i><i style="width:2px;background:linear-gradient(#ff4400 0px,#ff6600 51.5px,#ff8000 61px,#ffa800 65.5px,#ffe500 69px,#fffc00 70px,#98ff00 74px,#a3ff00 75px,#f2ff00 79px,#fffb00 80.5px,#fff000 84px,#fcff00 87.5px,#a9ff00 95px,#5dff00 99px,#00ff05 102.5px,#00ff8c 106px,#00f9ff 108.5px,#0004ff 113px,#0000ff 116px,#000dff 116.5px,#00f3ff 120.5px,#00ffef 121px,#00ff3e 124.5px,#03ff00 126px,#81ff00 129.5px,#e8ff00 133.5px,#fff900 135px,#ffb200 140px,#ff8200 146.5px,#ff6400 157.5px,#ff5900 203px,#ff6900 209.5px,#ff8b00 212.5px,#ffba00 214.5px,#fff500 216px,#efff00 216.5px,#8dff00 218px,#05ff00 219.5px,#00ff6b 220.5px,#00ffe7 221.5px,#00d8ff 222px,#009dff 222.5px,#0076ff 223px,#00a5ff 223.5px,#00e1ff 224px,#00ffde 224.5px,#00ff29 226px,#0cff00 226.5px,#90ff00 228px,#f0ff00 229.5px,#fff500 230px,#ffbd00 231.5px,#ff9000 233.5px,#ff7500 236.5px,#ff7500 241.5px,#ff9d00 247.5px,#ffd900 252px)"></i><i style="width:2px;background:linear-gradient(#ff4400 0px,#ff6400 50px,#ff8000 59.5px,#ffa900 64px,#ffe700 67.5px,#fffe00 68.5px,#94ff00 72.5px,#9dff00 73.5px,#f0ff00 77.5px,#fffb00 79px,#ffec00 82.5px,#f9ff00 87.5px,#b6ff00 94px,#65ff00 98.5px,#05ff00 102px,#00ff2f 103.5px,#00ffc3 107px,#00fff5 108px,#00f0ff 108.5px,#0015ff 112.5px,#0000ff 113px,#0000ff 116px,#008aff 118.5px,#00fdff 120.5px,#00ff35 124.5px,#00ff0a 125.5px,#1fff00 126.5px,#95ff00 130px,#f6ff00 134px,#fff600 135px,#ffb000 140px,#ff8100 146.5px,#ff6400 157.5px,#ff5a00 203.5px,#ff6900 209.5px,#ff8900 212.5px,#ffb900 214.5px,#fff400 216px,#f1ff00 216.5px,#8eff00 218px,#06ff00 219.5px,#00ff30 220px,#00ffe8 221.5px,#00d6ff 222px,#009aff 222.5px,#0077ff 223px,#00a8ff 223.5px,#00e5ff 224px,#00ffd9 224.5px,#00ff24 226px,#11ff00 226.5px,#95ff00 228px,#f4ff00 229.5px,#fff200 230px,#ffba00 231.5px,#ff8f00 233.5px,#ff7500 236.5px,#ff7700 241.5px,#ff9c00 247px,#ffd800 251.5px,#ffe100 252px)"></i><i style="width:2px;background:linear-gradient(#ff4400 0px,#ff6300 48.5px,#ff7d00 57.5px,#ffa300 62px,#ffde00 65.5px,#fdff00 67px,#8fff00 71px,#8eff00 71.5px,#edff00 76px,#fffc00 77.5px,#ffe900 81px,#fffc00 86px,#cdff00 92px,#8aff00 96.5px,#2dff00 100.5px,#00ff01 102px,#00ff87 105.5px,#00fffe 108px,#000bff 112.5px,#0000ff 113px,#0005ff 116px,#00ebff 120px,#00fff7 120.5px,#00ff44 124px,#00ff02 125.5px,#8cff00 129.5px,#efff00 133.5px,#fffb00 134.5px,#ffb400 139.5px,#ff8300 146px,#ff6500 156.5px,#ff5900 200.5px,#ff6500 209px,#ff8000 212px,#ffa900 214px,#ffdb00 215.5px,#fff200 216px,#f3ff00 216.5px,#90ff00 218px,#07ff00 219.5px,#00ff30 220px,#00ffe9 221.5px,#00d5ff 222px,#0099ff 222.5px,#007aff 223px,#00adff 223.5px,#00eaff 224px,#00ffd3 224.5px,#00ff1e 226px,#17ff00 226.5px,#9bff00 228px,#f8ff00 229.5px,#ffc700 231px,#ff9600 233px,#ff7700 236px,#ff7600 240.5px,#ff9700 246px,#ffd700 251px,#ffe900 252px)"></i><i style="width:2px;background:linear-gradient(#ff4400 0px,#ff6200 47px,#ff7d00 56px,#ffa500 60.5px,#ffe100 64px,#faff00 65.5px,#8aff00 69.5px,#89ff00 70px,#ebff00 74.5px,#fffe00 76px,#ffe700 79.5px,#fff400 84.5px,#f7ff00 87.5px,#bfff00 93px,#73ff00 97.5px,#19ff00 101px,#00ff07 102px,#00ff8f 105.5px,#00ffee 107.5px,#00f6ff 108px,#0001ff 112.5px,#0000ff 115.5px,#000fff 116px,#00f5ff 120px,#00ffd2 121px,#00ff25 124.5px,#05ff00 125.5px,#82ff00 129px,#e9ff00 133px,#fdff00 134px,#ffb200 139.5px,#ff8200 146px,#ff6400 157px,#ff5900 203.5px,#ff6a00 210px,#ff8f00 213px,#ffc400 215px,#f8ff00 216.5px,#96ff00 218px,#0eff00 219.5px,#00ff28 220px,#00ffe1 221.5px,#00ddff 222px,#00a2ff 222.5px,#0088ff 223px,#00bbff 223.5px,#00f9ff 224px,#00ff11 226px,#23ff00 226.5px,#a4ff00 228px,#ffff00 229.5px,#ffc300 231px,#ff9300 233px,#ff7700 236px,#ff7a00 241px,#ffa200 246.5px,#ffe300 251px,#fff600 252px)"></i><i style="width:2px;background:linear-gradient(#ff4400 0px,#ff6100 45.5px,#ff7a00 54px,#ffa600 59px,#ffe300 62.5px,#fffb00 63.5px,#9fff00 67px,#85ff00 68px,#83ff00 68.5px,#e9ff00 73px,#ffff00 74.5px,#ffe600 78px,#ffee00 83px,#fbff00 87px,#beff00 93px,#70ff00 97.5px,#14ff00 101px,#04ff00 101.5px,#00ff42 103.5px,#00ffdd 107px,#00fff6 107.5px,#00d4ff 108.5px,#0013ff 112px,#0000ff 112.5px,#0000ff 115.5px,#00e2ff 119.5px,#00feff 120px,#00ff35 124px,#00ff09 125px,#1fff00 126px,#95ff00 129.5px,#f6ff00 133.5px,#fff500 134.5px,#ffb000 139.5px,#ff8100 146px,#ff6400 157px,#ff5a00 204px,#ff6a00 210px,#ff8d00 213px,#ffc100 215px,#fcff00 216.5px,#9cff00 218px,#15ff00 219.5px,#00ff21 220px,#00ffd9 221.5px,#00e6ff 222px,#00acff 222.5px,#0096ff 223px,#00fff7 224px,#00ff3d 225.5px,#00ff05 226px,#87ff00 227.5px,#ebff00 229px,#fff900 229.5px,#ffbf00 231px,#ff9200 233px,#ff7700 236px,#ff7d00 241px,#ffaa00 246.5px,#ffef00 251px,#faff00 252px)"></i><i style="width:2px;background:linear-gradient(#ff4400 0px,#ff6000 44px,#ff7a00 52.5px,#ffa700 57.5px,#ffe600 61px,#fffe00 62px,#7fff00 66.5px,#7eff00 67px,#e6ff00 71.5px,#fffb00 73.5px,#ffe300 77.5px,#fff500 84.5px,#f8ff00 87.5px,#b5ff00 93.5px,#61ff00 98px,#00ff00 101.5px,#00ff86 105px,#00fffd 107.5px,#000cff 112px,#0000ff 112.5px,#0003ff 115.5px,#00e9ff 119.5px,#00fff9 120px,#00ff46 123.5px,#00ff04 125px,#8bff00 129px,#efff00 133px,#fffc00 134px,#ffb400 139px,#ff8300 145.5px,#ff6500 156px,#ff5900 200px,#ff6300 209px,#ff8300 212.5px,#ffae00 214.5px,#ffe500 216px,#fffe00 216.5px,#a1ff00 218px,#1cff00 219.5px,#00ff1a 220px,#00ffd1 221.5px,#00eeff 222px,#00b5ff 222.5px,#00a4ff 223px,#00d8ff 223.5px,#00ffe8 224px,#00ff30 225.5px,#07ff00 226px,#90ff00 227.5px,#f2ff00 229px,#fff300 229.5px,#ffbb00 231px,#ff9000 233px,#ff7800 236px,#ff8100 241px,#ffab00 246px,#fff200 250.5px,#f6ff00 251.5px,#ebff00 252px)"></i><i style="width:2px;background:linear-gradient(#ff4400 0px,#ff5f00 42.5px,#ff7a00 51px,#ffa900 56px,#ffe900 59.5px,#fdff00 60.5px,#7aff00 65px,#77ff00 65.5px,#e3ff00 70px,#fffc00 72px,#ffe200 76px,#ffee00 83px,#fcff00 87px,#baff00 93px,#6aff00 97.5px,#00ff04 101.5px,#00ff8c 105px,#00faff 107.5px,#0005ff 112px,#0000ff 115px,#000aff 115.5px,#00f0ff 119.5px,#00fff2 120px,#00ff40 123.5px,#01ff00 125px,#7fff00 128.5px,#e7ff00 132.5px,#fffa00 134px,#ffb300 139px,#ff8200 145.5px,#ff6500 156px,#ff5900 201px,#ff6500 209.5px,#ff8100 212.5px,#ffab00 214.5px,#ffe100 216px,#fff900 216.5px,#caff00 217.5px,#53ff00 219px,#22ff00 219.5px,#00ff13 220px,#00ffc8 221.5px,#00f7ff 222px,#00beff 222.5px,#00b2ff 223px,#00e7ff 223.5px,#00ffda 224px,#00ff24 225.5px,#12ff00 226px,#99ff00 227.5px,#f8ff00 229px,#ffb700 231px,#ff8e00 233px,#ff7900 236px,#ff8400 241px,#ffb300 246px,#feff00 250.5px,#dbff00 252px)"></i><i style="width:2px;background:linear-gradient(#ff4400 0px,#ff5e00 41px,#ff7900 49.5px,#ffa300 54px,#ffe000 57.5px,#faff00 59px,#75ff00 63.5px,#71ff00 64px,#e8ff00 69px,#fffe00 70.5px,#ffe300 74px,#ffe600 80.5px,#fcff00 87px,#b9ff00 93px,#67ff00 97.5px,#08ff00 101px,#00ff1a 102px,#00ffa8 105.5px,#00fff1 107px,#00f3ff 107.5px,#0000ff 112px,#0000ff 115px,#0011ff 115.5px,#00f7ff 119.5px,#00ffd0 120.5px,#00ff24 124px,#06ff00 125px,#83ff00 128.5px,#e9ff00 132.5px,#fdff00 133.5px,#ffb200 139px,#ff8200 145.5px,#ff6400 156.5px,#ff5900 204px,#ff6700 210px,#ff8700 213px,#ffb800 215px,#fff500 216.5px,#eeff00 217px,#85ff00 218.5px,#29ff00 219.5px,#00ff0c 220px,#00fffe 222px,#00c7ff 222.5px,#00c0ff 223px,#00f5ff 223.5px,#00ffcb 224px,#00ff17 225.5px,#1eff00 226px,#a2ff00 227.5px,#ffff00 229px,#ffc200 230.5px,#ff9400 232.5px,#ff7b00 235.5px,#ff8300 240px,#ffae00 245px,#fbff00 250px,#cbff00 252px)"></i><i style="width:2px;background:linear-gradient(#ff4400 0px,#ff5d00 39.5px,#ff7900 48px,#ffa300 52.5px,#ffe100 56px,#f8ff00 57.5px,#71ff00 62px,#69ff00 62.5px,#e4ff00 67.5px,#fffb00 69.5px,#ffe100 73px,#ffe700 82px,#fbff00 87px,#b7ff00 93px,#64ff00 97.5px,#04ff00 101px,#00ff57 103.5px,#00fff7 107px,#00d2ff 108px,#0012ff 111.5px,#0000ff 112px,#0000ff 115px,#008aff 117.5px,#00feff 119.5px,#00ff35 123.5px,#00ff09 124.5px,#1fff00 125.5px,#95ff00 129px,#f6ff00 133px,#fff500 134px,#ffb000 139px,#ff8100 145.5px,#ff6400 156.5px,#ff5900 204.5px,#ff6900 210.5px,#ff8e00 213.5px,#ffc600 215.5px,#fff100 216.5px,#f3ff00 217px,#8bff00 218.5px,#00ff05 220px,#00fff6 222px,#00d1ff 222.5px,#00ceff 223px,#00fffa 223.5px,#00ff0b 225.5px,#2aff00 226px,#abff00 227.5px,#ebff00 228.5px,#fff900 229px,#ffbe00 230.5px,#ff9300 232.5px,#ff7c00 235.5px,#ff8600 240px,#ffb600 245px,#fffb00 249px,#b9ff00 252px)"></i><i style="width:2px;background:linear-gradient(#ff4400 0px,#ff5d00 38.5px,#ff7800 46.5px,#ffa300 51px,#ffe200 54.5px,#fffa00 55.5px,#ccff00 57.5px,#63ff00 61px,#e8ff00 66.5px,#fffe00 68px,#ffe100 71.5px,#ffe300 81px,#fbff00 87px,#b6ff00 93px,#62ff00 97.5px,#00ff00 101px,#00ff86 104.5px,#00fffd 107px,#000cff 111.5px,#0000ff 112px,#0002ff 115px,#00fffa 119.5px,#00ff47 123px,#00ff05 124.5px,#8aff00 128.5px,#eeff00 132.5px,#fffc00 133.5px,#ffb500 138.5px,#ff8300 145px,#ff6500 155.5px,#ff5800 200px,#ff6300 209.5px,#ff7c00 212.5px,#ffa300 214.5px,#ffd600 216px,#f7ff00 217px,#91ff00 218.5px,#02ff00 220px,#00ffee 222px,#00daff 222.5px,#00dcff 223px,#00ffec 223.5px,#02ff00 225.5px,#8eff00 227px,#f2ff00 228.5px,#fff300 229px,#ffbb00 230.5px,#ff9100 232.5px,#ff7d00 235.5px,#ff8b00 240px,#ffbf00 245px,#fffe00 248.5px,#a6ff00 252px)"></i><i style="width:2px;background:linear-gradient(#ff4400 0px,#ff5c00 37px,#ff7800 45px,#ffa300 49.5px,#ffe200 53px,#fffa00 54px,#cbff00 56px,#5eff00 59.5px,#6eff00 60.5px,#d8ff00 64.5px,#fffb00 67px,#ffdf00 71px,#ffe400 81.5px,#faff00 87px,#b4ff00 93px,#5fff00 97.5px,#00ff04 101px,#00ff8b 104.5px,#00fbff 107px,#0006ff 111.5px,#0000ff 114.5px,#0007ff 115px,#00eeff 119px,#00fff4 119.5px,#00ff42 123px,#00ff00 124.5px,#7eff00 128px,#e6ff00 132px,#fffb00 133.5px,#ffb300 138.5px,#ff8300 145px,#ff6500 155.5px,#ff5800 201px,#ff6200 209.5px,#ff8200 213px,#ffaf00 215px,#faff00 217px,#95ff00 218.5px,#07ff00 220px,#00ff6d 221px,#00ffe7 222px,#00e2ff 222.5px,#00ecff 223px,#00ffdb 223.5px,#00ff27 225px,#10ff00 225.5px,#99ff00 227px,#faff00 228.5px,#ffb700 230.5px,#ff9000 232.5px,#ff7e00 235.5px,#ff8f00 240px,#ffc100 244.5px,#fdff00 248px,#92ff00 252px)"></i><i style="width:2px;background:linear-gradient(#ff4400 0px,#ff5b00 35.5px,#ff7700 43.5px,#ffa200 48px,#ffe100 51.5px,#fff900 52.5px,#daff00 54px,#5cff00 58px,#58ff00 58.5px,#dcff00 63.5px,#feff00 65.5px,#ffdf00 69.5px,#ffe000 80.5px,#f9ff00 87px,#b2ff00 93px,#5cff00 97.5px,#09ff00 100.5px,#00ff18 101.5px,#00ffa6 105px,#00ffef 106.5px,#00f6ff 107px,#0000ff 111.5px,#0000ff 114.5px,#000dff 115px,#00f3ff 119px,#00ffef 119.5px,#00ff3d 123px,#04ff00 124.5px,#81ff00 128px,#e8ff00 132px,#fff900 133.5px,#ffb200 138.5px,#ff8200 145px,#ff6500 156px,#ff5900 204px,#ff6700 210.5px,#ff8900 213.5px,#ffbe00 215.5px,#fdff00 217px,#97ff00 218.5px,#09ff00 220px,#00ff2f 220.5px,#00ffe4 222px,#00e8ff 222.5px,#00ffff 223px,#00ff16 225px,#20ff00 225.5px,#a5ff00 227px,#e7ff00 228px,#fffc00 228.5px,#ffc000 230px,#ff9500 232px,#ff8000 235px,#ff9000 239.5px,#ffc200 244px,#fbff00 247.5px,#8dff00 251.5px,#7dff00 252px)"></i><i style="width:2px;background:linear-gradient(#ff4400 0px,#ff5a00 34px,#ff7600 42px,#ffa100 46.5px,#ffe000 50px,#f8ff00 51.5px,#5aff00 56.5px,#4fff00 57px,#d5ff00 62px,#fffe00 64.5px,#ffde00 68.5px,#ffdc00 79.5px,#fdff00 86.5px,#b1ff00 93px,#5aff00 97.5px,#06ff00 100.5px,#00ff2e 102px,#00ffc3 105.5px,#00fff4 106.5px,#00f0ff 107px,#0015ff 111px,#0000ff 111.5px,#0000ff 114.5px,#0012ff 115px,#00f9ff 119px,#00ff80 121.5px,#00ff0d 124px,#08ff00 124.5px,#84ff00 128px,#eaff00 132px,#feff00 133px,#ffb700 138px,#ff8400 144.5px,#ff6600 155px,#ff5900 198px,#ff6100 209.5px,#ff8000 213px,#ffac00 215px,#ffe500 216.5px,#ffff00 217px,#9aff00 218.5px,#0cff00 220px,#00ff2d 220.5px,#00ffe0 222px,#00efff 222.5px,#00ffed 223px,#00ff04 225px,#8bff00 226.5px,#f0ff00 228px,#fff400 228.5px,#ffbc00 230px,#ff9300 232px,#ff8100 235px,#ff9500 239.5px,#ffcc00 244px,#fffb00 246.5px,#c5ff00 249px,#67ff00 252px)"></i><i style="width:2px;background:linear-gradient(#ff4400 0px,#ff5900 32.5px,#ff7500 40.5px,#ffa000 45px,#ffdf00 48.5px,#faff00 50px,#4bff00 55.5px,#4eff00 56px,#ccff00 60.5px,#fbff00 63px,#ffde00 67.5px,#ffd900 78.5px,#fffa00 85.5px,#e9ff00 88.5px,#9fff00 94px,#4bff00 98px,#03ff00 100.5px,#00ff6d 103.5px,#00fff9 106.5px,#00b5ff 108px,#0010ff 111px,#0000ff 111.5px,#0000ff 114.5px,#00c5ff 118px,#00feff 119px,#00ff4b 122.5px,#00ff09 124px,#1fff00 125px,#96ff00 128.5px,#f6ff00 132.5px,#fff500 133.5px,#ffb000 138.5px,#ff8100 145px,#ff6400 156px,#ff5900 205px,#ff6900 211px,#ff8700 213.5px,#ffba00 215.5px,#fffd00 217px,#c2ff00 218px,#42ff00 219.5px,#0eff00 220px,#00ff2a 220.5px,#00ffdb 222px,#00f8ff 222.5px,#00ffda 223px,#00ff2b 224.5px,#0cff00 225px,#97ff00 226.5px,#f9ff00 228px,#ffb700 230px,#ff9200 232px,#ff8300 235px,#ff9b00 239.5px,#ffd600 244px,#fffd00 246px,#a4ff00 249.5px,#50ff00 252px)"></i><i style="width:2px;background:linear-gradient(#ff4400 0px,#ff5800 31px,#ff7300 39px,#ff9e00 43.5px,#ffdb00 47px,#feff00 48.5px,#4fff00 54px,#48ff00 54.5px,#d1ff00 59.5px,#feff00 62px,#ffde00 66px,#ffd600 77px,#fff000 84px,#fbff00 86.5px,#aeff00 93px,#61ff00 97px,#00ff01 100.5px,#00ff87 104px,#00fffe 106.5px,#000aff 111px,#0000ff 111.5px,#0001ff 114.5px,#00fffb 119px,#00ff47 122.5px,#00ff05 124px,#98ff00 128.5px,#f8ff00 132.5px,#ffeb00 134px,#ffaa00 139px,#ff7c00 146px,#ff6200 158px,#ff5b00 207.5px,#ff7100 212px,#ff9b00 214.5px,#ffcb00 216px,#fffb00 217px,#c5ff00 218px,#45ff00 219.5px,#11ff00 220px,#00ff27 220.5px,#00ffd7 222px,#00fff7 222.5px,#00ffc8 223px,#00ff1a 224.5px,#1cff00 225px,#a4ff00 226.5px,#e6ff00 227.5px,#fffd00 228px,#ffc100 229.5px,#ff9700 231.5px,#ff8500 234.5px,#ff9700 238.5px,#ffcf00 243px,#feff00 245.5px,#a1ff00 249px,#37ff00 252px)"></i><i style="width:2px;background:linear-gradient(#ff4400 0px,#ff5700 29.5px,#ff7200 37.5px,#ffa200 42.5px,#ffe200 46px,#fffb00 47px,#b9ff00 49.5px,#48ff00 53px,#5bff00 54px,#ccff00 58px,#fbff00 60.5px,#ffdd00 65px,#ffd300 75.5px,#ffea00 83px,#fbff00 86.5px,#b4ff00 92.5px,#5fff00 97px,#00ff04 100.5px,#00ff8b 104px,#00fbff 106.5px,#0005ff 111px,#0000ff 114px,#0006ff 114.5px,#00ecff 118.5px,#00fff6 119px,#00ff43 122.5px,#00ff01 124px,#7dff00 127.5px,#e5ff00 131.5px,#fffb00 133px,#ffb400 138px,#ff8300 144.5px,#ff6500 155px,#ff5800 200.5px,#ff6200 210px,#ff7c00 213px,#ffa700 215px,#ffdf00 216.5px,#fff800 217px,#e9ff00 217.5px,#77ff00 219px,#14ff00 220px,#00ff24 220.5px,#00ffd2 222px,#00ffe7 222.5px,#00ff7c 223.5px,#00ff09 224.5px,#5cff00 225.5px,#d1ff00 227px,#efff00 227.5px,#fff500 228px,#ffbc00 229.5px,#ff9500 231.5px,#ff8700 234.5px,#ff9d00 238.5px,#ffda00 243px,#fcff00 245px,#9dff00 248.5px,#1eff00 252px)"></i><i style="width:2px;background:linear-gradient(#ff4400 0px,#ff5700 28.5px,#ff7300 36.5px,#ff9f00 41px,#ffdd00 44.5px,#fcff00 46px,#4eff00 51.5px,#49ff00 52px,#d1ff00 57px,#feff00 59.5px,#ffde00 63.5px,#ffd000 74px,#ffe800 82.5px,#faff00 86.5px,#b2ff00 92.5px,#5dff00 97px,#09ff00 100px,#00ff07 100.5px,#00ff8f 104px,#00ffef 106px,#00f6ff 106.5px,#0000ff 111px,#0000ff 114px,#000aff 114.5px,#00f1ff 118.5px,#00fff1 119px,#00ff3f 122.5px,#02ff00 124px,#80ff00 127.5px,#e7ff00 131.5px,#fff900 133px,#ffb300 138px,#ff8200 144.5px,#ff6500 155.5px,#ff5900 204.5px,#ff6700 211px,#ff8300 213.5px,#ffb500 215.5px,#fff600 217px,#ebff00 217.5px,#7aff00 219px,#17ff00 220px,#00ff21 220.5px,#00ffcc 222px,#00ffd6 222.5px,#00ff30 224px,#07ff00 224.5px,#95ff00 226px,#f8ff00 227.5px,#ffc700 229px,#ff9a00 231px,#ff8900 233.5px,#ff9900 237.5px,#ffd200 242px,#faff00 244.5px,#99ff00 248px,#04ff00 252px)"></i><i style="width:2px;background:linear-gradient(#ff4400 0px,#ff5600 27px,#ff7100 35px,#ffa200 40px,#ffe300 43.5px,#fffc00 44.5px,#a7ff00 47.5px,#48ff00 50.5px,#5cff00 51.5px,#cbff00 55.5px,#fffd00 58.5px,#ffdc00 62.5px,#ffce00 73px,#ffe600 82px,#f9ff00 86.5px,#b1ff00 92.5px,#5aff00 97px,#06ff00 100px,#00ff2d 101.5px,#00ffc2 105px,#00fff3 106px,#00f1ff 106.5px,#0016ff 110.5px,#0000ff 111px,#0000ff 114px,#000fff 114.5px,#00f6ff 118.5px,#00ffd0 119.5px,#00ff24 123px,#06ff00 124px,#83ff00 127.5px,#e9ff00 131.5px,#fdff00 132.5px,#ffb200 138px,#ff8200 144.5px,#ff6500 155.5px,#ff5900 205px,#ff6700 211px,#ff8200 213.5px,#ffb300 215.5px,#fff300 217px,#eeff00 217.5px,#7dff00 219px,#1aff00 220px,#00ff1e 220.5px,#00ffc6 222px,#00ffc5 222.5px,#00ff1f 224px,#17ff00 224.5px,#a1ff00 226px,#e5ff00 227px,#fffe00 227.5px,#ffc200 229px,#ff9900 231px,#ff8b00 233.5px,#ff9f00 237.5px,#ffd400 241.5px,#fffb00 243.5px,#c3ff00 246px,#4eff00 249.5px,#00ff03 251.5px,#00ff18 252px)"></i><i style="width:2px;background:linear-gradient(#ff4400 0px,#ff5500 26px,#ff7200 34px,#ff9e00 38.5px,#ffdc00 42px,#fdff00 43.5px,#4fff00 49px,#49ff00 49.5px,#d0ff00 54.5px,#feff00 57px,#ffdb00 61.5px,#ffcc00 72px,#ffe300 81.5px,#fdff00 86px,#b0ff00 92.5px,#58ff00 97px,#03ff00 100px,#00ff58 102.5px,#00fff8 106px,#00d2ff 107px,#0011ff 110.5px,#0000ff 111px,#0000ff 114px,#0030ff 115px,#00fbff 118.5px,#00ff37 122.5px,#00ff0b 123.5px,#0aff00 124px,#85ff00 127.5px,#ebff00 131.5px,#ffff00 132.5px,#ffb600 137.5px,#ff8400 144px,#ff6600 154.5px,#ff5900 198px,#ff6000 209.5px,#ff7a00 213px,#ffa200 215px,#ffd900 216.5px,#fff200 217px,#f0ff00 217.5px,#80ff00 219px,#1fff00 220px,#00ff17 220.5px,#00ffb9 222px,#00ffae 222.5px,#00ff0c 224px,#29ff00 224.5px,#acff00 226px,#edff00 227px,#fff700 227.5px,#ffbf00 229px,#ff9900 231px,#ff8e00 234px,#ffab00 238px,#ffe800 242px,#fffe00 243px,#a2ff00 246.5px,#21ff00 250px,#00ff09 251px,#00ff34 252px)"></i><i style="width:2px;background:linear-gradient(#ff4400 0px,#ff5500 25px,#ff7300 33px,#ffa000 37.5px,#ffe100 41px,#fff900 42px,#daff00 43.5px,#4aff00 48px,#5aff00 49px,#caff00 53px,#fffd00 56px,#ffdb00 60px,#ffca00 71px,#ffe400 81.5px,#fcff00 86px,#aeff00 92.5px,#62ff00 96.5px,#00ff00 100px,#00ff86 103.5px,#00fffd 106px,#000cff 110.5px,#0000ff 111px,#0000ff 114px,#00fffe 118.5px,#00ff4a 122px,#00ff07 123.5px,#34ff00 125px,#a5ff00 128.5px,#f7ff00 132px,#fff500 133px,#ffb000 138px,#ff8100 144.5px,#ff6400 155.5px,#ff5900 205.5px,#ff6700 211px,#ff8a00 214px,#ffc300 216px,#fff000 217px,#f2ff00 217.5px,#84ff00 219px,#25ff00 220px,#00ff10 220.5px,#00ff7d 221.5px,#00ffab 222px,#00ff96 222.5px,#00ff2d 223.5px,#08ff00 224px,#92ff00 225.5px,#f4ff00 227px,#fff100 227.5px,#ffbd00 229px,#ff9a00 231px,#ff9200 234px,#ffb200 238px,#fff500 242px,#feff00 242.5px,#9eff00 246px,#1cff00 249.5px,#07ff00 250px,#00ff3b 251.5px,#00ff51 252px)"></i><i style="width:2px;background:linear-gradient(#ff4400 0px,#ff5300 23.5px,#ff7000 31.5px,#ff9b00 36px,#ffda00 39.5px,#ffff00 41px,#51ff00 46.5px,#48ff00 47px,#dbff00 52.5px,#feff00 54.5px,#ffdc00 58.5px,#ffc700 69.5px,#ffdf00 80.5px,#fbff00 86px,#adff00 92.5px,#60ff00 96.5px,#00ff03 100px,#00ff8a 103.5px,#00fdff 106px,#0007ff 110.5px,#0000ff 112px,#0002ff 114px,#00e9ff 118px,#00fff9 118.5px,#00ff46 122px,#00ff04 123.5px,#8bff00 127.5px,#efff00 131.5px,#fffc00 132.5px,#ffb400 137.5px,#ff8300 144px,#ff6600 154.5px,#ff5800 199.5px,#ff6100 210px,#ff7a00 213px,#ffa100 215px,#ffd700 216.5px,#ffef00 217px,#f4ff00 217.5px,#88ff00 219px,#2bff00 220px,#00ff09 220.5px,#00ff72 221.5px,#00ff9c 222px,#00ff7e 222.5px,#00ff18 223.5px,#1bff00 224px,#9eff00 225.5px,#fbff00 227px,#ffba00 229px,#ff9b00 231px,#ff9600 234px,#ffba00 238px,#fcff00 242px,#9bff00 245.5px,#16ff00 249px,#01ff00 249.5px,#00ff6f 252px)"></i><i style="width:2px;background:linear-gradient(#ff4400 0px,#ff5300 22.5px,#ff7100 30.5px,#ff9e00 35px,#ffde00 38.5px,#faff00 40px,#4bff00 45.5px,#4cff00 46px,#d5ff00 51px,#fffd00 53.5px,#ffda00 57.5px,#ffc600 68.5px,#ffe000 80.5px,#faff00 86px,#abff00 92.5px,#5dff00 96.5px,#00ff06 100px,#00ff8e 103.5px,#00ffed 105.5px,#00f8ff 106px,#0002ff 110.5px,#0000ff 113.5px,#0006ff 114px,#00eeff 118px,#00fff4 118.5px,#00ff42 122px,#00ff00 123.5px,#7eff00 127px,#e6ff00 131px,#fffa00 132.5px,#ffb300 137.5px,#ff8300 144px,#ff6500 154.5px,#ff5800 200.5px,#ff6100 210px,#ff7a00 213px,#ffa100 215px,#ffd500 216.5px,#f6ff00 217.5px,#8cff00 219px,#00ff01 220.5px,#00ff66 221.5px,#00ff8c 222px,#00ff66 222.5px,#00ff04 223.5px,#85ff00 225px,#e9ff00 226.5px,#fffc00 227px,#ffc500 228.5px,#ffa000 230.5px,#ff9700 233px,#ffaf00 236.5px,#ffee00 240.5px,#faff00 241.5px,#98ff00 245px,#00ff05 249px,#00ff8c 252px)"></i><i style="width:2px;background:linear-gradient(#ff4400 0px,#ff5200 21.5px,#ff7100 29.5px,#ffa000 34px,#ffe200 37.5px,#fffc00 38.5px,#a6ff00 41.5px,#53ff00 44px,#47ff00 44.5px,#daff00 50px,#feff00 52px,#ffdb00 56px,#ffc400 67.5px,#ffdc00 79.5px,#f9ff00 86px,#b2ff00 92px,#5bff00 96.5px,#08ff00 99.5px,#00ff1a 100.5px,#00ffa8 104px,#00fff1 105.5px,#00f3ff 106px,#0000ff 110.5px,#0000ff 113.5px,#000bff 114px,#00f3ff 118px,#00fff0 118.5px,#00ff3e 122px,#03ff00 123.5px,#81ff00 127px,#e8ff00 131px,#fff900 132.5px,#ffb200 137.5px,#ff8200 144px,#ff6500 155px,#ff5900 204.5px,#ff6700 211px,#ff8900 214px,#ffc000 216px,#f8ff00 217.5px,#90ff00 219px,#07ff00 220.5px,#00ff5b 221.5px,#00ff76 222px,#00ff20 223px,#11ff00 223.5px,#92ff00 225px,#f1ff00 226.5px,#fff500 227px,#ffc200 228.5px,#ffa100 230.5px,#ff9c00 233.5px,#ffbc00 237px,#fffa00 240.5px,#d2ff00 242.5px,#5eff00 246px,#0cff00 248px,#00ff0a 248.5px,#00ffaa 252px)"></i><i style="width:2px;background:linear-gradient(#ff4400 0px,#ff5200 20.5px,#ff6e00 28px,#ff9b00 32.5px,#ffdb00 36px,#fdff00 37.5px,#4dff00 43px,#4bff00 43.5px,#d5ff00 48.5px,#fffc00 51px,#ffd900 55px,#ffc300 66.5px,#ffda00 79px,#fdff00 85.5px,#b0ff00 92px,#59ff00 96.5px,#05ff00 99.5px,#00ff42 101.5px,#00ffdd 105px,#00fff6 105.5px,#00d4ff 106.5px,#0013ff 110px,#0000ff 110.5px,#0000ff 113.5px,#0010ff 114px,#00f7ff 118px,#00ffcf 119px,#00ff24 122.5px,#07ff00 123.5px,#83ff00 127px,#e9ff00 131px,#fdff00 132px,#ffb200 137.5px,#ff8200 144px,#ff6500 155px,#ff5900 204.5px,#ff6700 211px,#ff8900 214px,#ffbf00 216px,#faff00 217.5px,#94ff00 219px,#0fff00 220.5px,#00ff22 221px,#00ff4e 221.5px,#00ff5f 222px,#00ff0a 223px,#51ff00 224px,#c1ff00 225.5px,#f9ff00 226.5px,#ffc000 228.5px,#ffa200 230.5px,#ffa100 233.5px,#ffc500 237px,#fffc00 240px,#b2ff00 243px,#32ff00 246.5px,#07ff00 247.5px,#00ff3e 249px,#00ffc7 252px)"></i><i style="width:2px;background:linear-gradient(#ff4400 0px,#ff5300 20px,#ff7300 27.5px,#ffa500 32px,#ffec00 35.5px,#f8ff00 36.5px,#49ff00 42px,#6cff00 43.5px,#daff00 47.5px,#feff00 49.5px,#ffd900 53.5px,#ffc100 65px,#ffd600 77.5px,#fcff00 85.5px,#afff00 92px,#57ff00 96.5px,#02ff00 99.5px,#00ff6e 102.5px,#00fffa 105.5px,#007dff 108px,#000eff 110px,#0000ff 110.5px,#0000ff 113.5px,#0031ff 114.5px,#00fcff 118px,#00ff36 122px,#00ff0a 123px,#0aff00 123.5px,#86ff00 127px,#ebff00 131px,#ffff00 132px,#ffb600 137px,#ff8400 143.5px,#ff6600 154px,#ff5900 197.5px,#ff6000 209.5px,#ff7900 213px,#ff9f00 215px,#ffd200 216.5px,#fcff00 217.5px,#99ff00 219px,#17ff00 220.5px,#00ff18 221px,#00ff42 221.5px,#00ff48 222px,#00ff20 222.5px,#0cff00 223px,#89ff00 224.5px,#e8ff00 226px,#fffe00 226.5px,#ffc900 228px,#ffa700 230px,#ffa100 232.5px,#ffbf00 236px,#fffe00 239.5px,#9fff00 243px,#18ff00 246.5px,#02ff00 247px,#00ffd0 251.5px,#00ffe2 252px)"></i><i style="width:2px;background:linear-gradient(#ff4400 0px,#ff5200 19px,#ff7000 26px,#ffa000 30.5px,#ffe400 34px,#fffe00 35px,#7fff00 39px,#4fff00 40.5px,#49ff00 41px,#d4ff00 46px,#fffc00 48.5px,#ffd700 52.5px,#ffc000 64.5px,#ffd600 77.5px,#fbff00 85.5px,#adff00 92px,#61ff00 96px,#00ff01 99.5px,#00ff87 103px,#00ffff 105.5px,#0009ff 110px,#0000ff 111px,#0000ff 113.5px,#00fffd 118px,#00ff49 121.5px,#00ff07 123px,#34ff00 124.5px,#a5ff00 128px,#f7ff00 131.5px,#fff400 132.5px,#ffb000 137.5px,#ff8100 144px,#ff6400 155px,#ff5900 205px,#ff6700 211px,#ff8900 214px,#ffbd00 216px,#feff00 217.5px,#9dff00 219px,#1fff00 220.5px,#00ff0d 221px,#00ff35 221.5px,#00ff30 222px,#00ff0a 222.5px,#4bff00 223.5px,#b9ff00 225px,#f1ff00 226px,#fff700 226.5px,#ffc700 228px,#ffa800 230px,#ffa500 232.5px,#ffc800 236px,#feff00 239px,#9dff00 242.5px,#14ff00 246px,#00ff02 246.5px,#00ffd7 251px,#00ffe9 251.5px,#00ffee 252px)"></i><i style="width:2px;background:linear-gradient(#ff4400 0px,#ff5200 18px,#ff7100 25px,#ffa200 29.5px,#ffe800 33px,#fbff00 34px,#4bff00 39.5px,#4eff00 40px,#d9ff00 45px,#feff00 47px,#ffd800 51px,#ffbf00 63px,#ffd200 76px,#fff700 84px,#f6ff00 86px,#acff00 92px,#5fff00 96px,#00ff04 99.5px,#00ff8b 103px,#00fbff 105.5px,#0004ff 110px,#0002ff 113.5px,#00e9ff 117.5px,#00fff9 118px,#00ff45 121.5px,#00ff04 123px,#8bff00 127px,#efff00 131px,#fffc00 132px,#ffb400 137px,#ff8300 143.5px,#ff6600 154px,#ff5900 199px,#ff6200 210px,#ff8000 213.5px,#ffac00 215.5px,#ffe500 217px,#fffd00 217.5px,#a2ff00 219px,#00ff03 221px,#00ff27 221.5px,#00ff19 222px,#0dff00 222.5px,#a6ff00 224.5px,#f9ff00 226px,#ffc400 228px,#ffa900 230px,#ffad00 233px,#ffd800 236.5px,#feff00 238.5px,#9cff00 242px,#00ff04 246px,#00ffdb 250.5px,#00ffee 251px,#00fff5 251.5px,#00ffe4 252px)"></i><i style="width:2px;background:linear-gradient(#ff4400 0px,#ff5300 17.5px,#ff7100 24px,#ffa500 28.5px,#ffed00 32px,#f6ff00 33px,#52ff00 38px,#48ff00 38.5px,#deff00 44px,#fffc00 46px,#ffd600 50px,#ffbe00 62px,#ffd000 75px,#fff000 83px,#faff00 85.5px,#b2ff00 91.5px,#5dff00 96px,#09ff00 99px,#00ff07 99.5px,#00ff8f 103px,#00ffee 105px,#00f6ff 105.5px,#0000ff 110px,#0000ff 113px,#0006ff 113.5px,#00eeff 117.5px,#00fff4 118px,#00ff42 121.5px,#00ff00 123px,#7eff00 126.5px,#e6ff00 130.5px,#fffa00 132px,#ffb300 137px,#ff8300 143.5px,#ff6500 154px,#ff5900 200px,#ff6200 210px,#ff8000 213.5px,#ffab00 215.5px,#ffe300 217px,#fffb00 217.5px,#c8ff00 218.5px,#30ff00 220.5px,#08ff00 221px,#00ff19 221.5px,#00ff01 222px,#b4ff00 224.5px,#fffd00 226px,#ffcc00 227.5px,#ffae00 229.5px,#ffab00 232px,#ffd000 235.5px,#fdff00 238px,#9bff00 241.5px,#00ff05 245.5px,#00ffde 250px,#00fffc 251px,#00ffd7 252px)"></i><i style="width:2px;background:linear-gradient(#ff4400 0px,#ff5300 16.5px,#ff7200 23px,#ffa800 27.5px,#fff200 31px,#ffff00 31.5px,#4dff00 37px,#4cff00 37.5px,#d8ff00 42.5px,#feff00 44.5px,#ffd700 48.5px,#ffbd00 60.5px,#ffcd00 74px,#ffee00 82.5px,#f9ff00 85.5px,#b1ff00 91.5px,#5aff00 96px,#07ff00 99px,#00ff1b 100px,#00ffaa 103.5px,#00fff3 105px,#00f2ff 105.5px,#0016ff 109.5px,#0000ff 110px,#0000ff 113px,#000aff 113.5px,#00f2ff 117.5px,#00fff0 118px,#00ff3e 121.5px,#03ff00 123px,#81ff00 126.5px,#e8ff00 130.5px,#fff900 132px,#ffb300 137px,#ff8200 143.5px,#ff6500 154.5px,#ff5900 204px,#ff6700 211px,#ff8800 214px,#ffba00 216px,#fff900 217.5px,#ccff00 218.5px,#13ff00 221px,#00ff07 221.5px,#16ff00 222px,#a4ff00 224px,#f5ff00 225.5px,#fff500 226px,#ffc900 227.5px,#ffaf00 229.5px,#ffb000 232px,#ffd900 235.5px,#fdff00 237.5px,#9aff00 241px,#10ff00 244.5px,#00ff07 245px,#00ffe2 249.5px,#00fff6 250px,#00fbff 250.5px,#00ffdf 251.5px,#00ffc8 252px)"></i><i style="width:2px;background:linear-gradient(#ff4400 0px,#ff5400 16px,#ff7700 22.5px,#ffaa00 26.5px,#fff700 30px,#ebff00 31px,#49ff00 36px,#6dff00 37.5px,#ddff00 41.5px,#fffc00 43.5px,#ffd500 47.5px,#ffbb00 60px,#ffcd00 74px,#ffee00 82.5px,#f8ff00 85.5px,#b0ff00 91.5px,#58ff00 96px,#04ff00 99px,#00ff57 101.5px,#00fff7 105px,#00d3ff 106px,#0011ff 109.5px,#0000ff 110px,#0000ff 113px,#000fff 113.5px,#00f7ff 117.5px,#00ffd0 118.5px,#00ff24 122px,#06ff00 123px,#83ff00 126.5px,#e9ff00 130.5px,#fdff00 131.5px,#ffb200 137px,#ff8200 143.5px,#ff6500 154.5px,#ff5900 204px,#ff6700 211px,#ff8800 214px,#ffbb00 216px,#fffa00 217.5px,#cbff00 218.5px,#17ff00 221px,#08ff00 221.5px,#cbff00 224.5px,#fbff00 225.5px,#ffc800 227.5px,#ffb100 229.5px,#ffb500 232px,#ffe300 235.5px,#fcff00 237px,#9aff00 240.5px,#0fff00 244px,#00ff08 244.5px,#00fffa 249.5px,#00f5ff 250px,#00fffb 250.5px,#00ffb7 252px)"></i><i style="width:2px;background:linear-gradient(#ff4400 0px,#ff5400 15px,#ff7400 21px,#ffa500 25px,#ffee00 28.5px,#fffc00 29px,#a3ff00 32px,#4fff00 34.5px,#4aff00 35px,#d6ff00 40px,#feff00 42px,#ffd600 46px,#ffbb00 58px,#ffcb00 73px,#ffef00 82.5px,#fcff00 85px,#aeff00 91.5px,#56ff00 96px,#01ff00 99px,#00ff6f 102px,#00fffb 105px,#0028ff 109px,#000dff 109.5px,#0000ff 110px,#0000ff 113px,#002fff 114px,#00fbff 117.5px,#00ff37 121.5px,#00ff0b 122.5px,#0aff00 123px,#85ff00 126.5px,#ebff00 130.5px,#ffff00 131.5px,#ffb600 136.5px,#ff8400 143px,#ff6600 153.5px,#ff5900 196.5px,#ff6100 209.5px,#ff7a00 213px,#ffa000 215px,#ffe600 217px,#fffe00 217.5px,#a5ff00 219px,#13ff00 221px,#10ff00 221.5px,#b5ff00 224px,#feff00 225.5px,#ffd200 227px,#ffb600 229px,#ffb700 231.5px,#ffe400 235px,#fcff00 236.5px,#99ff00 240px,#24ff00 243px,#00ff0a 244px,#00fffe 249px,#00f0ff 249.5px,#00fcff 250px,#00ffbf 251.5px,#00ffa6 252px)"></i><i style="width:2px;background:linear-gradient(#ff4400 0px,#ff5500 14.5px,#ff7a00 20.5px,#ffb000 24.5px,#fdff00 28px,#4bff00 33.5px,#5bff00 34.5px,#d0ff00 38.5px,#fffd00 41px,#ffd700 44.5px,#ffbb00 55px,#ffc400 70px,#ffe900 81.5px,#fbff00 85px,#adff00 91.5px,#60ff00 95.5px,#00ff02 99px,#00ff88 102.5px,#00feff 105px,#0008ff 109.5px,#0000ff 110.5px,#0000ff 113px,#00a9ff 116px,#00fffe 117.5px,#00ff4a 121px,#00ff08 122.5px,#21ff00 123.5px,#97ff00 127px,#f7ff00 131px,#fff500 132px,#ffb000 137px,#ff8100 143.5px,#ff6400 154.5px,#ff5900 204px,#ff6900 211px,#ff8c00 214px,#ffc100 216px,#fcff00 217.5px,#a0ff00 219px,#10ff00 221px,#19ff00 221.5px,#bcff00 224px,#fffc00 225.5px,#ffd100 227px,#ffb900 229px,#ffbd00 231.5px,#ffe400 234.5px,#fbff00 236px,#98ff00 239.5px,#23ff00 242.5px,#0cff00 243px,#00ff0b 243.5px,#00ffec 248px,#00fdff 248.5px,#00ecff 249px,#00fff6 250px,#00ff93 252px)"></i><i style="width:2px;background:linear-gradient(#ff4400 0px,#ff5500 13.5px,#ff7b00 19.5px,#ffb300 23.5px,#fff800 26.5px,#e9ff00 27.5px,#52ff00 32px,#48ff00 32.5px,#e0ff00 38px,#fdff00 39.5px,#ffd500 43.5px,#ffba00 54.5px,#ffc500 70.5px,#ffea00 81.5px,#fbff00 85px,#acff00 91.5px,#5eff00 95.5px,#00ff04 99px,#00ff8c 102.5px,#00faff 105px,#0004ff 109.5px,#0000ff 113px,#00fffa 117.5px,#00ff46 121px,#00ff05 122.5px,#8aff00 126.5px,#eeff00 130.5px,#fffc00 131.5px,#ffb500 136.5px,#ff8300 143px,#ff6600 153.5px,#ff5900 198px,#ff6200 209.5px,#ff7d00 213px,#ffa500 215px,#ffd800 216.5px,#f7ff00 217.5px,#99ff00 219px,#2cff00 220.5px,#0eff00 221px,#23ff00 221.5px,#c3ff00 224px,#f2ff00 225px,#fff900 225.5px,#ffd100 227px,#ffbc00 229px,#ffc300 231.5px,#ffee00 234.5px,#fbff00 235.5px,#98ff00 239px,#22ff00 242px,#0bff00 242.5px,#00ff0d 243px,#00ffef 247.5px,#00f9ff 248px,#00e7ff 248.5px,#00edff 249px,#00fffd 249.5px,#00ff80 252px)"></i><i style="width:2px;background:linear-gradient(#ff4500 0px,#ff5700 13px,#ff7c00 18.5px,#ffb600 22.5px,#fffe00 25.5px,#7cff00 29.5px,#4dff00 31px,#4cff00 31.5px,#daff00 36.5px,#fffd00 38.5px,#ffd600 42px,#ffba00 52px,#ffc200 68.5px,#ffe700 81px,#faff00 85px,#abff00 91.5px,#5cff00 95.5px,#09ff00 98.5px,#00ff07 99px,#00ff8f 102.5px,#00ffee 104.5px,#00f6ff 105px,#0000ff 109.5px,#0004ff 113px,#00ecff 117px,#00fff6 117.5px,#00ff43 121px,#00ff01 122.5px,#7dff00 126px,#e5ff00 130px,#fffb00 131.5px,#ffb400 136.5px,#ff8300 143px,#ff6600 153.5px,#ff5900 198.5px,#ff6200 209.5px,#ff7f00 213px,#ffa800 215px,#ffdc00 216.5px,#fff300 217px,#f2ff00 217.5px,#93ff00 219px,#26ff00 220.5px,#12ff00 221px,#c9ff00 224px,#f6ff00 225px,#ffe700 226px,#ffc400 228px,#ffc200 230.5px,#ffe600 233.5px,#faff00 235px,#a8ff00 238px,#36ff00 241px,#0aff00 242px,#00ff0e 242.5px,#00fff3 247px,#00f5ff 247.5px,#00e3ff 248px,#00e6ff 248.5px,#00f9ff 249px,#00ffd5 250px,#00ff6d 252px)"></i><i style="width:2px;background:linear-gradient(#ff4500 0px,#ff5700 12px,#ff7e00 17.5px,#ffba00 21.5px,#fbff00 24.5px,#48ff00 30px,#6dff00 31.5px,#dfff00 35.5px,#fdff00 37px,#ffd400 41px,#ffb800 51.5px,#ffc200 69px,#ffe800 81px,#f9ff00 85px,#b1ff00 91px,#5bff00 95.5px,#07ff00 98.5px,#00ff1b 99.5px,#00ffaa 103px,#00fff2 104.5px,#00f2ff 105px,#0016ff 109px,#0000ff 109.5px,#0000ff 112.5px,#0008ff 113px,#00f0ff 117px,#00fff2 117.5px,#00ff40 121px,#02ff00 122.5px,#80ff00 126px,#e7ff00 130px,#fffa00 131.5px,#ffb300 136.5px,#ff8200 143px,#ff6500 154px,#ff5900 202.5px,#ff6500 210px,#ff8100 213px,#ffab00 215px,#ffe100 216.5px,#fff800 217px,#ecff00 217.5px,#68ff00 219.5px,#21ff00 220.5px,#1aff00 221px,#b5ff00 223.5px,#faff00 225px,#ffd200 227px,#ffc300 229px,#ffd200 231.5px,#f9ff00 234.5px,#a7ff00 237.5px,#35ff00 240.5px,#08ff00 241.5px,#00ff28 242.5px,#00fff6 246.5px,#00deff 247.5px,#00deff 248px,#00fff6 249px,#00ff5a 252px)"></i><i style="width:2px;background:linear-gradient(#ff4500 0px,#ff5800 11px,#ff7a00 16px,#ffb300 20px,#fffa00 23px,#d7ff00 24.5px,#4fff00 28.5px,#49ff00 29px,#d8ff00 34px,#fffe00 36px,#ffd500 39.5px,#ffb900 48.5px,#ffbd00 65.5px,#ffde00 79px,#fdff00 84.5px,#b0ff00 91px,#59ff00 95.5px,#04ff00 98.5px,#00ff56 101px,#00fff6 104.5px,#00d3ff 105.5px,#0012ff 109px,#0000ff 109.5px,#0000ff 112.5px,#000cff 113px,#00f4ff 117px,#00ffee 117.5px,#00ff3c 121px,#05ff00 122.5px,#82ff00 126px,#e8ff00 130px,#fcff00 131px,#ffb200 136.5px,#ff8200 143px,#ff6500 154px,#ff5900 202.5px,#ff6600 210px,#ff8300 213px,#ffae00 215px,#ffe600 216.5px,#fffd00 217px,#a8ff00 218.5px,#1dff00 220.5px,#24ff00 221px,#bdff00 223.5px,#fdff00 225px,#ffd200 227px,#ffc700 229px,#ffd900 231.5px,#fffb00 233.5px,#d3ff00 235.5px,#71ff00 238.5px,#07ff00 241px,#00ff29 242px,#00fff9 246px,#00daff 247px,#00d7ff 247.5px,#00fffd 248.5px,#00ff47 252px)"></i><i style="width:2px;background:linear-gradient(#ff4600 0px,#ff5b00 10.5px,#ff8100 15.5px,#ffc100 19.5px,#ffff00 22px,#4aff00 27.5px,#4dff00 28px,#ddff00 33px,#fcff00 34.5px,#ffd300 38.5px,#ffb700 48.5px,#ffc000 67.5px,#ffe600 80.5px,#fcff00 84.5px,#afff00 91px,#57ff00 95.5px,#02ff00 98.5px,#00ff6e 101.5px,#00fffa 104.5px,#007dff 107px,#000dff 109px,#0000ff 109.5px,#0000ff 112.5px,#0010ff 113px,#00f8ff 117px,#00ff9a 119px,#00ff0d 122px,#08ff00 122.5px,#84ff00 126px,#eaff00 130px,#feff00 131px,#ffb700 136px,#ff8400 142.5px,#ff6600 153px,#ff5900 195.5px,#ff6200 209px,#ff7d00 212.5px,#ffa400 214.5px,#ffeb00 216.5px,#fbff00 217px,#a1ff00 218.5px,#36ff00 220px,#1aff00 220.5px,#2eff00 221px,#c3ff00 223.5px,#fffe00 225px,#ffdb00 226.5px,#ffcb00 228.5px,#ffdb00 231px,#fffc00 233px,#c4ff00 235.5px,#5dff00 238.5px,#06ff00 240.5px,#00ff44 242px,#00fffc 245.5px,#00d6ff 246.5px,#00d0ff 247px,#00f9ff 248px,#00ffb8 249.5px,#00ff34 252px)"></i><i style="width:2px;background:linear-gradient(#ff4600 0px,#ff5b00 9.5px,#ff8200 14.5px,#ffc400 18.5px,#faff00 21px,#52ff00 26px,#47ff00 26.5px,#e2ff00 32px,#fffe00 33.5px,#ffd500 37px,#ffb900 45.5px,#ffb900 61px,#ffd400 76px,#fffa00 83.5px,#e2ff00 87px,#94ff00 92.5px,#3bff00 96.5px,#00ff01 98.5px,#00ff87 102px,#00fffe 104.5px,#0009ff 109px,#0000ff 110px,#0000ff 112.5px,#0030ff 113.5px,#00fcff 117px,#00ff36 121px,#00ff0a 122px,#0bff00 122.5px,#86ff00 126px,#ebff00 130px,#ffff00 131px,#ffb600 136px,#ff8400 142.5px,#ff6600 153px,#ff5900 196px,#ff6100 208.5px,#ff7900 212px,#ffa700 214.5px,#ffda00 216px,#fff000 216.5px,#f5ff00 217px,#76ff00 219px,#30ff00 220px,#1eff00 220.5px,#caff00 223.5px,#f3ff00 224.5px,#fffb00 225px,#ffd600 227px,#ffd400 229.5px,#fffd00 232.5px,#c4ff00 235px,#5cff00 238px,#05ff00 240px,#00ff5f 242px,#00ffff 245px,#00d2ff 246px,#00c9ff 246.5px,#00f1ff 247.5px,#00fff4 248px,#00ff21 252px)"></i><i style="width:2px;background:linear-gradient(#ff4700 0px,#ff5e00 9px,#ff8a00 14px,#ffc800 17.5px,#fffb00 19.5px,#b3ff00 22px,#4dff00 25px,#4bff00 25.5px,#dbff00 30.5px,#fffb00 32.5px,#ffd300 36px,#ffb600 45.5px,#ffbd00 65px,#ffdd00 78.5px,#fbff00 84.5px,#acff00 91px,#5fff00 95px,#00ff03 98.5px,#00ff8a 102px,#00fcff 104.5px,#0005ff 109px,#0000ff 112.5px,#00fffe 117px,#00ff49 120.5px,#00ff07 122px,#34ff00 123.5px,#a5ff00 127px,#f7ff00 130.5px,#fff400 131.5px,#ffb000 136.5px,#ff8100 143px,#ff6400 154px,#ff5a00 203px,#ff6900 210px,#ff8900 213px,#ffba00 215px,#fff600 216.5px,#efff00 217px,#6eff00 219px,#2aff00 220px,#27ff00 220.5px,#b8ff00 223px,#f6ff00 224.5px,#ffed00 225.5px,#ffd500 227.5px,#ffdf00 230px,#fffe00 232px,#b4ff00 235px,#47ff00 238px,#04ff00 239.5px,#00ff7c 242px,#00fcff 244.5px,#00ceff 245.5px,#00c2ff 246px,#00fffb 247.5px,#00ff0e 252px)"></i><i style="width:2px;background:linear-gradient(#ff4800 0px,#ff5f00 8px,#ff8c00 13px,#ffcc00 16.5px,#feff00 18.5px,#49ff00 24px,#5dff00 25px,#d4ff00 29px,#ffff00 31px,#ffd400 34.5px,#ffba00 42px,#ffb300 53.5px,#ffcb00 72.5px,#fff000 82px,#faff00 84.5px,#abff00 91px,#5dff00 95px,#00ff06 98.5px,#00ff8d 102px,#00ffec 104px,#00f8ff 104.5px,#0001ff 109px,#0000ff 112.5px,#00e8ff 116.5px,#00fffa 117px,#00ff46 120.5px,#00ff04 122px,#8aff00 126px,#eeff00 130px,#fffc00 131px,#ffb400 136px,#ff8300 142.5px,#ff6600 153px,#ff5900 197px,#ff6200 208.5px,#ff7c00 212px,#ffaf00 214.5px,#ffe500 216px,#fffc00 216.5px,#abff00 218px,#26ff00 220px,#30ff00 220.5px,#beff00 223px,#f9ff00 224.5px,#ffdf00 226.5px,#ffdb00 228.5px,#fff600 231px,#f4ff00 232px,#a3ff00 235px,#30ff00 238px,#02ff00 239px,#00ffb4 242.5px,#00f9ff 244px,#00caff 245px,#00bbff 245.5px,#00fbff 247px,#00ff13 251.5px,#05ff00 252px)"></i><i style="width:2px;background:linear-gradient(#ff4900 0px,#ff6300 7.5px,#ff8f00 12px,#ffd000 15.5px,#f9ff00 17.5px,#50ff00 22.5px,#48ff00 23px,#d9ff00 28px,#fffc00 30px,#ffd200 33.5px,#ffb600 42px,#ffb500 57px,#ffcf00 74px,#fff400 82.5px,#f9ff00 84.5px,#b2ff00 90.5px,#5cff00 95px,#08ff00 98px,#00ff19 99px,#00ffa7 102.5px,#00fff0 104px,#00f4ff 104.5px,#0000ff 109px,#0003ff 112.5px,#00ecff 116.5px,#00fff6 117px,#00ff43 120.5px,#00ff01 122px,#7dff00 125.5px,#e5ff00 129.5px,#fffb00 131px,#ffb400 136px,#ff8300 142.5px,#ff6600 153px,#ff5900 197.5px,#ff6300 208.5px,#ff7e00 212px,#ffb200 214.5px,#fcff00 216.5px,#82ff00 218.5px,#3dff00 219.5px,#24ff00 220px,#75ff00 221.5px,#c4ff00 223px,#fbff00 224.5px,#ffe100 226.5px,#ffe100 228.5px,#fdff00 231px,#b3ff00 234px,#45ff00 237px,#01ff00 238.5px,#00ffd2 242.5px,#00ffee 243px,#00f6ff 243.5px,#00b5ff 245px,#00daff 246px,#00f3ff 246.5px,#00fff0 247px,#00ff01 251.5px,#17ff00 252px)"></i><i style="width:2px;background:linear-gradient(#ff4b00 0px,#ff6800 7px,#ff9900 11.5px,#ffe000 15px,#fffc00 16px,#9fff00 19px,#4bff00 21.5px,#4cff00 22px,#deff00 27px,#fdff00 28.5px,#ffd000 32.5px,#ffb300 42px,#ffba00 62.5px,#ffd900 77px,#fdff00 84px,#b1ff00 90.5px,#5aff00 95px,#06ff00 98px,#00ff2e 99.5px,#00ffc2 103px,#00fff4 104px,#00f1ff 104.5px,#0014ff 108.5px,#0000ff 109px,#0000ff 112px,#0007ff 112.5px,#00efff 116.5px,#00fff3 117px,#00ff40 120.5px,#01ff00 122px,#7fff00 125.5px,#e7ff00 129.5px,#fffa00 131px,#ffb300 136px,#ff8300 142.5px,#ff6500 153.5px,#ff5900 201px,#ff6600 209px,#ff8000 212px,#ffa800 214px,#fff000 216px,#f6ff00 216.5px,#7aff00 218.5px,#37ff00 219.5px,#2bff00 220px,#caff00 223px,#fcff00 224.5px,#ffe500 226.5px,#ffed00 229px,#fbff00 230.5px,#b2ff00 233.5px,#44ff00 236.5px,#00ff00 238px,#00fff0 242.5px,#00f3ff 243px,#00b0ff 244.5px,#00bcff 245px,#00fff8 246.5px,#00ff06 251px,#29ff00 252px)"></i><i style="width:2px;background:linear-gradient(#ff4d00 0px,#ff6d00 6.5px,#ff9c00 10.5px,#ffe500 14px,#fdff00 15px,#54ff00 20px,#47ff00 20.5px,#7fff00 22.5px,#e3ff00 26px,#fffd00 27.5px,#ffd200 31px,#ffb700 38.5px,#ffb100 50.5px,#ffca00 72px,#ffef00 81.5px,#f8ff00 84.5px,#b0ff00 90.5px,#58ff00 95px,#04ff00 98px,#00ff57 100.5px,#00fff7 104px,#00d2ff 105px,#0010ff 108.5px,#0000ff 109px,#0000ff 112px,#000aff 112.5px,#00f3ff 116.5px,#00ffef 117px,#00ff3d 120.5px,#04ff00 122px,#81ff00 125.5px,#e8ff00 129.5px,#fff900 131px,#ffb200 136px,#ff8200 142.5px,#ff6500 153.5px,#ff5a00 201px,#ff6700 209px,#ff8200 212px,#ffac00 214px,#fff600 216px,#efff00 216.5px,#72ff00 218.5px,#31ff00 219.5px,#33ff00 220px,#b9ff00 222.5px,#f0ff00 224px,#fdff00 224.5px,#ffe800 226.5px,#fff500 229px,#f0ff00 230.5px,#a1ff00 233.5px,#2dff00 236.5px,#00ff01 237.5px,#00fff3 242px,#00f0ff 242.5px,#00acff 244px,#00b5ff 244.5px,#00feff 246px,#00ff0c 250.5px,#0cff00 251px,#3aff00 252px)"></i><i style="width:2px;background:linear-gradient(#ff5000 0px,#ff7200 6px,#ffa700 10px,#fff700 13.5px,#e9ff00 14.5px,#4eff00 19px,#49ff00 19.5px,#dcff00 24.5px,#fcff00 26px,#ffd000 30px,#ffb300 38.5px,#ffb300 53.5px,#ffcd00 73px,#fff200 82px,#f7ff00 84.5px,#aeff00 90.5px,#57ff00 95px,#02ff00 98px,#00ff6e 101px,#00fffb 104px,#0060ff 107px,#000dff 108.5px,#0000ff 109px,#0000ff 112px,#000eff 112.5px,#00f7ff 116.5px,#00ffd0 117.5px,#00ff24 121px,#06ff00 122px,#83ff00 125.5px,#e9ff00 129.5px,#fdff00 130.5px,#ffb200 136px,#ff8200 142.5px,#ff6500 153.5px,#ff5a00 201px,#ff6800 209px,#ff8500 212px,#ffb000 214px,#ffe500 215.5px,#fffc00 216px,#adff00 217.5px,#2dff00 219.5px,#3cff00 220px,#beff00 222.5px,#f1ff00 224px,#fff900 225px,#ffed00 227px,#fffe00 229px,#ccff00 231.5px,#6bff00 234.5px,#00ff02 237px,#00ffd9 241px,#00fff5 241.5px,#00d3ff 242.5px,#00a7ff 243.5px,#00adff 244px,#00f7ff 245.5px,#00ffcf 246.5px,#00ff11 250px,#07ff00 250.5px,#4bff00 252px)"></i><i style="width:2px;background:linear-gradient(#ff5400 0px,#ff7900 5.5px,#ffb400 9.5px,#fffc00 12.5px,#9eff00 15.5px,#4aff00 18px,#4dff00 18.5px,#e0ff00 23.5px,#fffe00 25px,#ffd200 28.5px,#ffb800 35px,#ffad00 45.5px,#ffc700 71px,#ffec00 81px,#fbff00 84px,#adff00 90.5px,#61ff00 94.5px,#00ff01 98px,#00ff87 101.5px,#00fffe 104px,#0009ff 108.5px,#0000ff 109.5px,#0000ff 112px,#0011ff 112.5px,#00faff 116.5px,#00ff21 121px,#09ff00 122px,#85ff00 125.5px,#ebff00 129.5px,#feff00 130.5px,#ffb600 135.5px,#ff8400 142px,#ff6600 152.5px,#ff5900 194.5px,#ff6200 207.5px,#ff8000 211.5px,#ffb400 214px,#fcff00 216px,#85ff00 218px,#42ff00 219px,#2eff00 219.5px,#c3ff00 222.5px,#f2ff00 224px,#fffb00 225px,#fff300 227px,#fdff00 228.5px,#cbff00 231px,#6aff00 234px,#00ff03 236.5px,#00ffdc 240.5px,#00fff8 241px,#00b7ff 242.5px,#00a3ff 243px,#00a6ff 243.5px,#00efff 245px,#00fff3 245.5px,#00ff17 249.5px,#02ff00 250px,#5bff00 252px)"></i><i style="width:2px;background:linear-gradient(#ff5900 0px,#ff8000 5px,#ffc200 9px,#fcff00 11.5px,#52ff00 16.5px,#47ff00 17px,#e5ff00 22.5px,#fffb00 24px,#ffd000 27.5px,#ffb300 35.5px,#ffaf00 48.5px,#ffca00 72px,#fff000 81.5px,#fbff00 84px,#acff00 90.5px,#5fff00 94.5px,#00ff03 98px,#00ff89 101.5px,#00fdff 104px,#0006ff 108.5px,#0000ff 112px,#0031ff 113px,#00fdff 116.5px,#00ff35 120.5px,#00ff09 121.5px,#1fff00 122.5px,#96ff00 126px,#f6ff00 130px,#fff500 131px,#ffb000 136px,#ff8100 142.5px,#ff6500 153.5px,#ff5a00 200.5px,#ff6700 208.5px,#ff8200 211.5px,#ffa900 213.5px,#fff000 215.5px,#f6ff00 216px,#7dff00 218px,#3cff00 219px,#35ff00 219.5px,#b2ff00 222px,#e6ff00 223.5px,#fffe00 225px,#fffb00 227px,#f3ff00 228.5px,#bcff00 231px,#55ff00 234px,#00ff04 236px,#00ffde 240px,#00fffa 240.5px,#009fff 242.5px,#009fff 243px,#00fffb 245px,#00ff1d 249px,#00ff04 249.5px,#6bff00 252px)"></i><i style="width:2px;background:linear-gradient(#ff5f00 0px,#ff8800 4.5px,#ffc600 8px,#fff800 10px,#e8ff00 11px,#4dff00 15.5px,#4aff00 16px,#deff00 21px,#feff00 22.5px,#ffd200 26px,#ffb800 32px,#ffab00 42.5px,#ffc700 70.5px,#ffed00 81px,#faff00 84px,#abff00 90.5px,#5eff00 94.5px,#00ff05 98px,#00ff8c 101.5px,#00f9ff 104px,#0002ff 108.5px,#0000ff 112px,#008dff 114.5px,#00fffd 116.5px,#00ff49 120px,#00ff07 121.5px,#34ff00 123px,#a5ff00 126.5px,#f7ff00 130px,#fff400 131px,#ffb000 136px,#ff8100 142.5px,#ff6500 153.5px,#ff5a00 200.5px,#ff6800 208.5px,#ff8400 211.5px,#ffad00 213.5px,#fff600 215.5px,#efff00 216px,#75ff00 218px,#37ff00 219px,#3cff00 219.5px,#b7ff00 222px,#e6ff00 223.5px,#fdff00 225px,#fcff00 227px,#d4ff00 229.5px,#8dff00 232px,#00ff05 235.5px,#00ffe0 239.5px,#00fffd 240px,#009bff 242px,#0097ff 242.5px,#00fcff 244.5px,#00ff09 249px,#27ff00 250px,#7aff00 252px)"></i><i style="width:2px;background:linear-gradient(#ff6700 0px,#ff9900 4.5px,#ffe200 8px,#fffe00 9px,#78ff00 13px,#49ff00 14.5px,#5cff00 15.5px,#d6ff00 19.5px,#fffc00 21.5px,#ffcf00 25px,#ffb600 31.5px,#ffab00 42px,#ffc700 70.5px,#ffee00 81px,#faff00 84px,#aaff00 90.5px,#5cff00 94.5px,#09ff00 97.5px,#00ff07 98px,#00ff8f 101.5px,#00ffee 103.5px,#00f6ff 104px,#0000ff 108.5px,#0000ff 112px,#00fffa 116.5px,#00ff46 120px,#00ff04 121.5px,#8aff00 125.5px,#eeff00 129.5px,#fffc00 130.5px,#ffb500 135.5px,#ff8300 142px,#ff6600 152.5px,#ff5900 195px,#ff6400 207.5px,#ff7f00 211px,#ffb100 213.5px,#fffc00 215.5px,#afff00 217px,#33ff00 219px,#5dff00 220px,#baff00 222px,#e6ff00 223.5px,#faff00 225.5px,#edff00 227.5px,#baff00 230px,#67ff00 232.5px,#12ff00 234.5px,#00ff06 235px,#00ffc5 238.5px,#00ffff 239.5px,#0097ff 241.5px,#0090ff 242px,#00d8ff 243.5px,#00f4ff 244px,#00ffed 244.5px,#00ff0f 248.5px,#0aff00 249px,#89ff00 252px)"></i></div>
<svg width="675" height="796" viewBox="0 0 675 796">
<path d="M70,136 L202,70 L359,90 L356.6,104 L278.6,235 L73,151Z M129.4,128.5 L209,81.4 L314.6,97.3 L254,165.6Z" fill="#c6b400" fill-rule="evenodd"/>
<polygon points="278.6,211 359.5,88 356.6,104 278.6,235" fill="#cfbf00"/>
<polygon points="125,127.5 209,79 208.7,92.3 142,132.3 125,133" fill="#cdbd00"/>
<polygon points="208,79 317,95.5 305,108.1 208.7,92.3" fill="#c3b100"/>
<polygon points="172.4,100.6 300,126.3 276,153 173.9,126.5" fill="#c60516" fill-opacity="0.3"/>
<polygon points="256.1,88.7 256.1,114.6 200,163 170,152.5" fill="#c60516" fill-opacity="0.3"/>
<path d="M202,70 L359,90 L278.6,213 L70,136Z M129.4,128.5 L209,81.4 L314.6,97.3 L254,165.6Z" fill="#d4c400" fill-rule="evenodd"/>
<polygon points="222.2,3 227,1.2 244.5,1.5 246.5,63.2 273,64.3 278,31 296.3,32 296.3,89.5 291.6,92.4 226.7,82.7" fill="#009687"/>
<polygon points="241,65 246.5,63.2 273,64.3 273,66" fill="#00a090"/>
<polygon points="222.2,3 227,1.2 244.5,1.5 238.2,2.5" fill="#00a090"/>
<polygon points="273,33 278,31 296.3,32 291.6,34.5" fill="#00a090"/>
<polygon points="222.2,3 238.2,2.5 241,65 273,66 273,33 291.6,34.5 291.6,92.4 226.7,82.7" fill="#007569"/>
<g stroke="#111" stroke-width="1.6" fill="none"><path d="M225,126.3 V105.5"/><path d="M225,126.3 L241.5,130"/><path d="M225,126.3 L215.8,134"/></g>
<g fill="#111"><path d="M224.8,102.4 l-2.2,5 h4.4z"/><path d="M244.6,130.6 l-5,-3.4 l-1,4.2z"/><path d="M213,136.2 l5,-1.8 l-2.8,-3z"/></g>
<g font-weight="bold" fill="#505050" stroke="#1a1a1a" stroke-width="0.55">
<text x="208" y="108.2" font-size="20" textLength="12.5" lengthAdjust="spacingAndGlyphs">z</text>
<text x="243.5" y="133.4" font-size="20" textLength="12.5" lengthAdjust="spacingAndGlyphs">x</text>
<text x="204.5" y="138.5" font-size="20" fill="#3a1010" textLength="8" lengthAdjust="spacingAndGlyphs">y</text>
<text x="220" y="137.9" font-size="16" fill="#3a1010" textLength="9.5" lengthAdjust="spacingAndGlyphs">o</text>
</g>
<defs><linearGradient id="ar" x1="0" x2="1"><stop offset="0" stop-color="#9a0a12"/><stop offset=".5" stop-color="#d4212a"/><stop offset="1" stop-color="#a80c14"/></linearGradient></defs>
<rect x="102.4" y="16" width="5.4" height="28" fill="url(#ar)"/>
<path d="M99.3,43.6 H111.3 L105.6,57.8Z" fill="url(#ar)"/>
<text x="82" y="31.1" font-size="22" font-weight="bold" font-style="italic" fill="#ff0000">k</text>
<path d="M83.2,11.6 H96.2 M96.7,11.6 L90,7.6" stroke="#ff0000" stroke-width="1.6" fill="none"/>
<path d="M80.6,378.3C81,364.1 81.4,348.8 81.9,335.6C82.3,324.1 82.7,313.8 83.3,303.5C83.9,294 84.4,283.8 85.3,276C85.9,270.2 86.6,264.9 87.5,261C88.1,258.4 88.7,256.4 89.5,254.5C90.2,253 90.8,251.5 92,250.5C93.2,249.5 95,248.7 96.5,248.6C98.1,248.5 99.7,249.1 101.3,250C103.3,251.2 105.3,253.5 107.2,255.6C109.3,258 111.2,261.1 113.1,263.7C114.9,266.2 116.6,268.6 118.3,271.1C120.1,273.7 121.7,275.9 123.5,279C125.9,283 128.5,289 131,293.1C133,296.5 135.1,299.1 137.1,302.1C139.1,305.1 140.9,308.2 143.1,311.2C145.3,314.3 147.9,317.2 150.2,320.2C152.6,323.2 154.7,326.3 157.2,329.3C159.7,332.4 162.5,335.4 165.2,338.4C167.9,341.4 170.7,344.7 173.3,347.4C175.6,349.7 177.5,351.5 180,353.5C182.9,355.9 186.6,358.3 190,360.7C193.4,363.1 196.9,365.7 200.4,368C203.8,370.2 207.2,372.4 210.7,374.2C214.1,376 217.6,377.3 221.1,378.9C224.6,380.5 228,382.1 231.5,383.6C234.9,385.1 238.4,386.5 241.9,387.7C245.3,388.9 248.4,389.7 252.2,390.8C257,392.1 263.2,393.7 268.3,395C273,396.2 277.2,397.3 281.7,398.3C286.1,399.3 290.6,400.1 295,401C299.4,401.9 303.8,402.9 308.3,403.7C312.7,404.5 316.9,405 321.7,405.7C327.4,406.5 334.1,407.5 340.3,408.4" stroke="#808080" stroke-width="2.9" fill="none" stroke-linejoin="round"/>
<path d="M79.6,392C79.9,387.4 80.3,384.1 80.6,378.3C81.1,368 81.4,348.8 81.9,335.6C82.3,324.1 82.7,313.8 83.3,303.5C83.9,293.9 84.5,283.8 85.5,275.7C86.3,269.3 86.8,262.4 88.3,258.6C89.1,256.5 90.3,254 91.3,254C92.4,254 93.8,257.1 94.7,259.6C96.1,263.5 96.6,269.6 97.3,275.7C98.2,283.7 98.7,293.9 99.4,303.5C100.1,313.8 100.8,324.4 101.5,335.6C102.3,347.8 103,362.1 103.7,374.1C104.3,384.7 104.8,397.1 105.4,404C105.7,407.6 106,412.3 106.3,412.3C106.6,412.3 107,407.6 107.3,404C107.9,397.1 108.2,384.7 108.6,374.1C109.1,362.1 109.5,347.8 110.1,335.6C110.6,324.4 111.1,313.6 111.8,303.5C112.4,294.5 112.8,282.9 113.9,277.8C114.4,275.5 114.8,273.2 115.6,273C116.1,272.8 116.9,273.7 117.5,274.5C118.4,275.7 119,278.1 119.8,280C120.7,282.2 121.6,284.7 122.5,287C123.5,289.4 124.4,291.2 125.5,294.1C127.1,298.4 129.1,304.8 131,310.2C133,315.8 135.1,321.6 137.1,327.3C139.1,333 140.8,338.5 143.1,344.4C145.5,350.7 148.8,357.8 151.3,363.9C153.5,369.3 155.5,373.9 157.6,379C159.7,384.3 162,389.9 163.8,395.3C165.5,400.4 167,405.9 168.2,410.4C169.2,414 169.6,420 170.8,420.3C171.5,420.5 172.6,419.2 173.3,417.9C174.6,415.5 175.1,410 175.8,405.4C176.6,399.8 177.1,392.8 177.7,386.5C178.3,380.2 178.9,373.9 179.5,367.7C180.1,361.7 180.5,354.9 181.4,350.1C182.1,346.6 182.6,342.8 183.9,341.3C184.6,340.5 185.7,340 186.5,340.1C187.4,340.3 188.2,341.5 189,342.6C190.3,344.4 191.6,347.9 192.7,350.1C193.6,351.8 194.3,352.7 195.2,354.5C196.7,357.4 198.7,362.1 200.4,365.9C202.1,369.7 203.9,373.5 205.6,377.3C207.3,381.1 209,384.9 210.7,388.7C212.4,392.5 214.3,396.5 215.9,400.1C217.4,403.4 218.6,407.6 220.1,409.5C220.9,410.5 221.9,411.5 222.7,411.4C223.6,411.3 224.6,409.9 225.3,408.4C226.5,405.9 226.7,401.1 227.3,397C228,392.2 228.7,386.6 229.4,381.5C230.1,376.6 230.7,371.1 231.5,367C232.1,363.8 232.6,360.9 233.6,358.7C234.3,357.1 235.1,355.8 236.1,355C236.9,354.4 237.8,354 238.7,354C239.7,354 240.8,354.8 241.9,355.6C243.5,356.7 245.3,359 247,360.7C248.7,362.4 250.3,364 252.2,365.9C254.5,368.1 257.3,370.9 260,373.2C262.7,375.5 265.1,377.6 268.3,379.7C272.1,382.2 277.2,384.9 281.7,387C286.1,389.1 290.6,390.6 295,392.3C299.4,394 303.8,395.7 308.3,397C312.7,398.3 316.9,399.2 321.7,400.3C327.4,401.5 334.1,402.6 340.3,403.8" stroke="#ff0080" stroke-width="2.9" fill="none" stroke-linejoin="round"/>
<g stroke="#000" stroke-width="2.3" fill="none" stroke-linecap="butt">
<rect x="79.2" y="243.2" width="261.7" height="189.1"/>
<path d="M166.4,432.2 v-4.5 M253.6,432.2 v-4.5 M122.8,432.2 v-2.8 M210,432.2 v-2.8 M297.2,432.2 v-2.8 M79.2,337.7 h4.5 M79.2,385 h2.8 M79.2,290.4 h2.8"/>
</g>
<path d="M223.5,260.3 H273.6" stroke="#808080" stroke-width="2.9"/>
<path d="M223.5,286 H273.6" stroke="#ff0080" stroke-width="2.9"/>
<defs><clipPath id="cc"><rect x="426.5" y="12" width="237.5" height="727"/></clipPath></defs>
<g clip-path="url(#cc)" fill="none" stroke-width="3.1" stroke-linejoin="round" stroke-linecap="round">
<path d="M426.3,40C426.4,37.5 426.3,35.1 426.5,32.6C426.7,30.1 427,27 427.8,25.1C428.4,23.7 429.3,21.9 430,21.9C430.7,21.9 431.3,23.6 431.8,25.1C432.7,27.8 432.9,32.8 433.4,37.6C434,44 434.5,52.5 435,60.2C435.5,68.3 436,78.4 436.6,85.3C437,90.1 437.3,97.5 437.8,97.5C438.2,97.5 438.8,93.4 439.3,90.3C440.2,84.7 440.7,74.5 441.6,66.5C442.5,58.2 443.4,48.8 444.7,41.4C445.8,35.4 446.5,29 448.5,25.1C449.8,22.5 451.7,19.7 453.5,19.4C455.1,19.2 457.1,21 458.5,22.6C460.3,24.6 461.7,28 462.9,31.3C464.3,35.3 465.2,40.4 466,45.1C466.9,50 467.2,56 467.9,60.2C468.4,63.2 468.9,68 469.4,68C470,68 470.6,61.5 471.1,57.7C471.8,52.9 471.9,45.3 473,41.4C473.7,39 474.3,36.4 475.5,36C476.5,35.7 478,36.9 479.1,37.8C480.3,38.7 481,40.2 482.2,41.6C483.9,43.5 486.1,46 488.4,48.3C490.9,50.8 493.7,53.5 496.7,56.1C499.9,58.9 503.6,61.9 507.1,64.4C510.5,66.8 514,68.9 517.5,71.1C521,73.4 524.5,75.6 527.9,77.9C531.4,80.2 535,82.9 538.2,85.1C541,87.1 543.9,88.8 546,90.6C547.6,92 548.6,93.8 550.1,94.6C551.5,95.4 553.6,96 554.8,95.6C555.9,95.2 556.6,93.9 557.4,92.5C558.6,90.3 559.5,86.5 560.5,83.2C561.6,79.6 562.5,75 563.6,71.8C564.4,69.4 565,67 566.2,65.6C567.2,64.5 568.6,63.6 569.9,63.5C571.2,63.4 572.4,64.2 574,65C576.3,66.1 579.8,68.7 582.3,70.2C584.2,71.4 585.4,72.3 587.5,73.3C590.3,74.7 594.4,76.3 597.9,77.5C601.3,78.7 605,79.7 608.2,80.6C611,81.4 612.6,82 616,82.7C622.2,83.9 634.2,85 642.6,85.9C650.2,86.7 657.1,87.4 664.3,88.1" stroke="#000000"/>
<path d="M426.3,170.8C426.6,161.2 426.7,150.5 427.1,141.9C427.4,135 427.8,128.6 428.4,123.1C428.9,118.8 429,114.6 430.3,111.8C431.2,109.8 432.8,107.4 434,107.4C435.1,107.4 436.3,109.9 437.2,111.8C438.5,114.6 438.9,118.8 439.7,123.1C440.7,128.6 441.4,135.2 442.2,141.9C443.1,149.7 443.9,159.3 444.7,167C445.4,173.6 446,185.5 446.8,185.5C447.5,185.5 448.5,178.1 449.1,173.3C450,166.4 450.3,156.6 451,148.2C451.7,139.8 452.1,129.3 453.5,123.1C454.3,119.4 455.1,114.8 456.6,114.3C457.6,113.9 459.2,115.5 460.4,116.8C462.2,118.7 463.7,122.5 465.4,125.6C467.2,128.9 469.2,132.4 471,135.9C472.8,139.4 474.7,143.1 476.3,146.6C477.8,149.9 479.4,152.9 480.6,156.2C481.9,159.6 482.9,163.3 483.8,166.9C484.7,170.4 485.3,174.8 485.9,177.5C486.3,179.2 486.4,181.5 487,181.6C487.5,181.7 488.5,180.1 489.1,178.6C490.3,175.7 490.6,169.6 491.3,164.7C492.1,159.3 492.6,152.5 493.4,147.7C494,144.2 494.1,140.4 495.2,138.5C495.9,137.4 496.9,136.5 497.8,136.4C498.8,136.3 499.8,137.2 500.9,138C502.7,139.3 504.7,142 507.1,144.2C510.1,147 514,150.6 517.5,153.6C520.9,156.5 524.4,159.1 527.9,161.9C531.3,164.6 535.1,167.4 538.2,170.1C541,172.5 544,175 546,177.3C547.6,179.1 548.2,181.1 549.6,182.5C550.8,183.7 552.5,185.3 553.8,185.4C554.9,185.4 556,184.6 556.9,183.6C558.2,182.1 558.6,179 559.5,176.3C560.5,173.2 561.5,169.2 562.6,165.9C563.6,163 564.3,159.7 565.7,157.6C566.8,156 568.3,154.2 569.9,154C571.4,153.8 573.2,155.2 575,156.1C577.2,157.2 579.6,158.8 582.3,160.2C585.4,161.9 589.2,163.9 592.7,165.4C596.1,166.8 599.3,167.9 603,169C607.1,170.2 610.9,171.2 616,172.1C623.3,173.4 634.2,174.4 642.6,175.4C650.2,176.3 657.1,177.2 664.3,178.1" stroke="#ff0000"/>
<path d="M426.3,260.8C426.5,253.3 426.5,245.4 426.8,238.2C427,231.6 427.3,225.2 427.8,219.4C428.3,214.4 428.7,209.4 429.6,205.6C430.3,202.9 430.9,200.3 432.2,198.7C433.2,197.4 434.7,196.1 435.9,196.2C437.2,196.3 438.7,197.8 439.7,199.3C441.1,201.4 441.9,204.7 442.8,208.1C443.9,212.4 444.5,217.6 445.3,223.1C446.2,229.6 447.1,237.4 447.8,244.5C448.5,251.6 449.2,261 449.7,265.8C450,268.2 450.1,271.3 450.4,271.3C450.7,271.3 451.2,266.7 451.6,263.3C452.2,257.3 452.6,246.3 453.1,238.2C453.6,230.5 453.6,221.6 454.8,215.6C455.6,211.5 456.6,205.9 458,205.5C458.9,205.2 460,206.9 461,208C462.4,209.5 463.6,212 465.1,214.1C466.7,216.4 468.4,218.8 470.1,221.1C471.8,223.4 473.4,225.9 475.1,228.1C476.7,230.2 478.4,232.2 480.1,234.2C481.8,236.2 483.5,238.2 485.2,240.2C486.9,242.2 488.6,244.1 490.2,246.2C491.9,248.4 493.6,250.8 495.2,253.3C496.9,255.9 498.5,258.6 500.2,261.3C501.9,264 503.9,266.8 505.3,269.3C506.5,271.4 507.4,274.3 508.3,275.3C508.7,275.7 509,276.1 509.4,276C510.1,275.9 511.1,274.2 511.8,272.6C513.2,269.5 514.3,262.9 515.4,258.1C516.5,253.5 517,248.2 518.5,244.6C519.6,241.9 521,238.5 522.7,237.9C523.9,237.5 525.3,238.5 526.8,239.4C529,240.8 531.6,244.1 534.1,246.7C536.8,249.6 540.2,253.5 542.4,256C543.9,257.6 544.8,258.5 546,260.1C547.4,261.9 548.7,264.4 550.1,266.3C551.3,268 552.6,270 553.8,271C554.7,271.7 555.5,272.4 556.4,272.3C557.4,272.1 558.6,270.8 559.5,269.4C560.9,267.3 561.5,263.4 562.6,260.1C563.8,256.5 564.5,251.5 566.2,248.7C567.5,246.6 569.1,244.4 570.9,244C572.7,243.6 574.8,245.5 577.1,246.6C580.2,248.1 584,250.6 587.5,252.3C590.9,253.9 594.4,255.2 597.9,256.4C601.3,257.6 605,258.7 608.2,259.6C611,260.4 612.6,260.9 616,261.6C622.2,262.9 634.2,265.2 642.6,266.3C650.2,267.3 657.1,267.5 664.3,268.1" stroke="#0000ff"/>
<path d="M426.3,350.8C426.5,343.3 426.5,335.4 426.8,328.2C427,321.6 427.3,315.2 427.8,309.4C428.3,304.4 428.6,299.5 429.6,295.6C430.4,292.6 431.2,289.7 432.8,288C434.1,286.6 436.3,285.3 437.8,285.5C439.2,285.7 440.5,287.6 441.6,289.3C443,291.5 443.8,294.8 444.7,298.1C445.8,302.1 446.4,306.9 447.2,311.9C448.1,317.7 449,324.5 449.7,330.7C450.4,336.7 451,343.6 451.6,348.3C452,351.5 452.2,356.2 452.6,356.2C453,356.2 453.5,351.5 453.9,348.3C454.5,343.1 454.7,334.9 455.1,328.2C455.6,321.5 455.8,313.9 456.6,308.1C457.2,303.6 457.6,296.7 459.1,296.2C460.1,295.9 461.5,298 462.9,299.3C464.8,301.2 467.1,304.1 469.2,306.9C471.5,310 473.4,313.6 476,317C479,320.8 482.9,324.9 486.4,328.4C489.8,331.7 493.2,334.7 496.7,337.7C500.1,340.6 503.7,343.1 507.1,346C510.6,349 514.4,352.3 517.5,355.3C520.2,357.8 522.4,360.6 524.7,362.6C526.5,364.2 528.2,366.3 529.9,366.5C531.3,366.7 532.9,366 534.1,364.7C536.1,362.5 537,356.6 538.2,352.2C539.4,347.6 540.1,341.6 541.3,337.7C542.2,334.9 543.2,332 544.3,330.6C545,329.8 545.7,329 546.4,329C547.2,329 548.1,330.2 549,331.1C550.1,332.2 551.4,333.6 552.6,335.2C554,337.1 555.2,339.9 556.7,342C558,343.9 559.5,346.2 560.9,347.1C561.8,347.7 562.7,348.2 563.5,348C564.5,347.8 565.3,346.3 566.1,345.1C567.2,343.5 567.9,340.5 569.2,338.9C570.3,337.5 571.7,336 573.3,335.7C575.1,335.4 577.4,336.8 579.6,337.8C582.2,339 584.9,341.1 587.9,342.5C591.1,344 595,345.4 598.2,346.6C601,347.6 603.1,348.5 606,349.2C609.4,350 612.8,350.2 617.3,350.9C624.1,352 634.5,354.2 642.6,355.4C650.1,356.5 657.1,357 664.3,357.8" stroke="#ff00ff"/>
<path d="M426.3,440.8C426.5,433.3 426.5,425.1 426.8,418.2C427,412.3 427.3,407.1 427.8,401.9C428.3,397.1 428.5,392.2 429.6,388.1C430.5,384.6 431.5,380.8 433.4,378.7C434.9,377 437.4,375.4 439.1,375.5C440.7,375.6 442.3,377.2 443.5,378.7C444.9,380.4 445.7,383 446.6,385.6C447.7,388.9 448.4,392.7 449.1,396.9C450,402.1 450.8,408.6 451.4,414.4C452,420.3 452.5,427.3 452.9,432C453.2,435.2 453.3,440 453.6,440C453.9,440 454.5,435.3 454.8,432C455.3,426.8 455.6,418.2 456,411.9C456.4,406.2 456.5,400.2 457.3,395.6C457.9,392.2 458.4,387.2 459.8,386.8C460.9,386.5 462.6,388.9 464.2,390.6C466.5,393.1 469.5,397.9 471.7,400.6C473.3,402.5 474.4,403.6 476,405.4C477.9,407.5 480.1,410.2 482.2,412.6C484.3,415 486,417.7 488.4,419.9C490.9,422.2 493.8,424 496.7,426.1C500,428.5 503.6,431 507.1,433.4C510.6,435.8 514,438.2 517.5,440.6C521,443 524.7,445.4 527.9,447.9C530.9,450.2 533.9,453 536.1,455.1C537.7,456.6 538.7,458.4 540.1,459.1C541.1,459.6 542.3,460 543.3,459.6C544.5,459.2 545.5,457.6 546.4,456C547.8,453.5 548.5,449.2 549.5,445.6C550.6,441.9 551.7,438.2 552.6,434.2C553.6,429.9 554.1,424.3 555.2,420.7C556,418.2 556.6,415.9 557.8,414.5C558.8,413.4 560.1,412.5 561.4,412.4C562.8,412.3 564.5,413.1 566.1,414C568.1,415.1 570.4,417.4 572.3,419.2C574.1,420.9 575.6,422.8 577.5,424.4C579.4,426.1 581.4,427.6 583.7,429C586.4,430.7 589.6,432.3 593,433.7C596.9,435.3 601.8,436.8 606,437.9C609.9,438.9 612.8,439.2 617.3,440C624.1,441.2 634.5,443.3 642.6,444.5C650.1,445.6 657.1,446.3 664.3,447.2" stroke="#008000"/>
<path d="M426.2,534.5C426.7,526.1 426.9,517.5 427.6,509.2C428.3,501.2 429,492.4 430.3,485.7C431.3,480.5 432.3,475.6 433.9,472.2C435,469.9 436.2,467.8 437.6,466.8C438.7,466 440,465.6 441.2,465.8C442.7,466 444.4,467.1 445.7,468.6C447.6,470.7 449.1,474.6 450.2,478.5C451.7,483.5 452.2,490.1 452.9,496.6C453.7,504 454.1,520.5 454.7,520.5C455.3,520.5 455.9,506.9 456.5,500.2C457.1,493.5 457.2,484.2 458.3,480.3C458.8,478.5 459.2,476.9 460.1,476.7C461.3,476.4 463.6,479.2 465.6,481.2C468.7,484.3 472.5,490.3 476,494.5C479.4,498.5 482.8,502.4 486.4,505.9C489.7,509.1 493.2,512.1 496.7,514.7C500.1,517.2 503.6,519.2 507.1,521.5C510.6,523.7 514,526 517.5,528.2C521,530.5 524.5,532.4 527.9,535C531.5,537.7 535.5,542.1 538.2,544.3C539.9,545.7 541.1,546.7 542.4,547.4C543.3,547.9 544.1,548.5 545,548.5C546.2,548.5 547.6,547.8 548.8,546.6C550.7,544.7 552.5,540.4 553.9,536.6C555.6,532.1 556.2,525.9 557.6,521.4C558.8,517.7 559.7,513.8 561.4,511.4C562.6,509.6 564.2,507.8 565.8,507.6C567.5,507.4 569.6,509.4 571.5,510.7C573.6,512.2 575.4,514.6 577.8,516.4C580.4,518.4 583.9,520.3 586.6,522.1C588.9,523.6 591,525.6 592.9,526.5C594.3,527.1 595.3,527.5 596.7,527.5C598.5,527.5 600.8,526 603,525.9C605.4,525.8 607.6,526.5 610.5,527.1C614.6,528 619.9,529.7 625,530.9C630.6,532.2 636.4,533.5 642.6,534.5C649.4,535.6 657.1,536.3 664.3,537.2" stroke="#000080"/>
<path d="M426.5,632.1C426.9,625.8 427.3,619.6 427.8,613.3C428.3,607 428.8,600.5 429.6,594.4C430.3,588.8 431.2,583.3 432.2,578.1C433.1,573.3 433.8,567.9 435.3,564.3C436.3,561.7 437.5,559.3 439.1,558C440.4,556.9 442.1,556 443.5,556.2C445,556.4 446.6,557.8 447.8,559.3C449.4,561.1 450.6,564.1 451.6,566.8C452.7,569.9 453.4,573.3 454.1,576.9C454.8,580.8 455.2,585.6 455.6,589.4C455.9,592.5 456,597.8 456.3,597.8C456.6,597.8 457,592.6 457.3,589.4C457.7,585.4 457.5,579.7 458.1,575.6C458.6,572.3 459,567.3 460.4,566.8C461.4,566.4 462.8,568.1 464.2,569.3C466.4,571.2 469.5,575.6 471.7,578.1C473.3,580 474.3,581 476,583C478.7,586.1 482.8,591.3 486.4,594.9C489.7,598.3 493.1,601.5 496.7,604.2C500.1,606.8 503.6,608.8 507.1,611C510.5,613.2 514.1,615.1 517.5,617.2C521,619.4 524.5,621.5 527.9,623.9C531.4,626.3 535,629.3 538.2,631.7C541,633.8 543.6,636.6 545.9,637.6C547.5,638.3 549.1,638.9 550.4,638.3C552,637.6 553,634.9 554.1,632.4C555.7,628.7 556.5,622.4 557.8,617.6C559,613 559.8,607.6 561.5,604.3C562.7,602 564.1,599.4 565.9,599.1C567.8,598.8 570.1,601.2 572.6,602.8C576.1,605 580.1,608.9 584.4,611.7C589,614.6 594.4,617.6 599.3,619.8C603.8,621.8 608.6,624.9 612.6,624.7C615.9,624.6 618.6,621.2 621.5,620.6C624,620 626.2,620.3 628.9,620.6C632.3,621 635.6,622.6 640,623.5C646.5,624.8 656.2,626 664.3,627.2" stroke="#8000ff"/>
<path d="M426.3,690C426.5,682.7 426.4,673.2 426.8,668C427,665.1 427.4,661.2 427.8,661.2C428.2,661.2 428.7,664.9 429,668C429.7,674.7 429.9,690.1 430.3,700C430.7,708.7 430.9,724.4 431.5,724.4C431.8,724.4 432.3,720.4 432.7,718C433.2,714.8 433.5,711.3 434,707C434.7,701.1 435.7,692.3 436.6,685.7C437.4,679.9 438.2,674.8 439.1,669.4C440,664 440.5,657.1 442.2,653.1C443.4,650.4 444.9,647.3 446.6,646.8C447.9,646.4 449.8,647.7 451,648.7C452.3,649.8 453.3,651.4 454.1,653.1C455.1,655.2 455.5,658 456,660.6C456.5,663.4 456.6,669.6 457,669.6C457.3,669.6 457.6,665.2 458.1,663.1C458.6,661 458.6,657.3 459.8,656.8C460.8,656.4 462.6,658.1 464.2,659.3C466.5,661 469.6,664.7 471.7,666.9C473.3,668.6 474.3,669.5 476,671.4C478.7,674.3 482.9,679.3 486.4,682.8C489.8,686.1 493.2,689.3 496.7,692.1C500.1,694.8 503.6,697.1 507.1,699.4C510.5,701.6 514.1,703.4 517.5,705.6C521,707.8 524.5,710 527.9,712.4C531.4,714.8 535,717.6 538.2,720.1C541,722.3 544,725.5 546,726.4C547,726.9 547.5,726.9 548.5,726.9C549.8,726.9 551.8,727 553.2,725.8C555.6,723.8 557.1,717.2 558.8,712.6C560.6,707.8 561.5,701.2 563.5,697.6C564.9,695.2 566.2,692.8 568.2,692.3C570.3,691.7 573,693.5 575.7,694.8C579.2,696.5 583,700.1 587,702.3C591.1,704.5 595.6,706.1 600.2,707.9C605,709.8 610.2,711.9 615.3,713.6C620.3,715.2 625.7,718.1 630.3,717.9C634.4,717.7 637.8,714.1 641.6,713.6C645.3,713.1 649.1,714.2 652.9,714.5C656.7,714.8 660.5,715.2 664.3,715.6" stroke="#800080"/>
</g>
<g fill="none" stroke="#000" stroke-width="3.6" stroke-linecap="round" stroke-dasharray="14.6 24.25">
<path d="M469.5,62C470.4,70.4 471,78 472.3,87.3C473.9,98.9 476.3,113.2 478.5,126C480.7,138.7 483.7,153.1 485.5,163.8C486.8,171.6 487.2,176.9 488.5,184C490,192.1 491.9,201.1 494,210C496.2,219.5 499.1,228.9 501.4,239.2C504,250.7 506.4,265.4 508.6,276C510.3,284.2 511.6,289.4 513.5,297.6C516,308.3 519.6,322.5 522.5,334.6C525.3,346.3 528.5,358.7 530.6,369C532.3,377.4 533.4,383.4 534.5,392C535.9,402.9 536.5,417.4 537.9,429.2C539.2,439.9 541.4,449.7 542.4,459.9C543.4,470 543.5,479.4 544,490C544.5,501.8 544.8,513.8 545.3,527.3C545.9,543.4 547.1,561.9 547.6,580C548.2,599.3 548.2,620 548.4,640C548.6,660 548.7,682.5 548.7,700C548.7,713.5 548.7,724 548.7,736" stroke-dashoffset="30.35"/>
<path d="M553.5,92C553.9,104.7 554.3,116.8 554.6,130C555,144.4 555.2,160.6 555.5,175C555.8,188.2 556,199.7 556.2,213C556.5,227.8 556.4,245.5 557,260C557.6,272.5 558.6,282.6 559.5,295C560.5,309.1 561.2,326.5 562.5,340C563.6,351 565,360.5 566.5,370C567.9,378.7 569.4,386.3 571,395C572.7,404.5 574.8,414.7 576.6,424.6C578.4,434.4 580.2,443.7 582,454C584,465.4 585.9,477.7 588,490C590.2,503 592.5,516.7 595,530C597.5,543.3 600.5,556.8 603,570C605.5,582.8 607.6,595.6 610,608C612.3,619.9 614.6,631.5 617,643C619.3,654.2 621.8,665.3 624,676C626.1,686.2 627.8,696.7 630,706C631.9,714.2 634.2,721.3 636.3,729" stroke-dashoffset="31.1"/>
</g>
<path d="M551.7,13 V736" stroke="#ff8000" stroke-width="4.2" stroke-linecap="round"/>
<circle cx="575" cy="420.8" r="13.5" fill="none" stroke="#ff0000" stroke-width="4.4" stroke-dasharray="4.4 5.02" stroke-dashoffset="5.9"/>
<g stroke="#000" stroke-width="2.4" fill="none">
<rect x="425.6" y="11.6" width="239.3" height="728"/>
<path d="M545.2,11.6 v10 M545.2,739.6 v-7 M485.4,11.6 v4 M485.4,739.6 v-4 M605.1,11.6 v4 M605.1,739.6 v-4 M425.6,101.8 h7 M664.9,101.8 h-7 M425.6,281.8 h7 M664.9,281.8 h-7 M425.6,461.4 h7 M664.9,461.4 h-7 M425.6,640.9 h7 M664.9,640.9 h-7 M425.6,191.7 h3.8 M664.9,191.7 h-3.8 M425.6,371.6 h3.8 M664.9,371.6 h-3.8 M425.6,551.1 h3.8 M664.9,551.1 h-3.8"/>
</g>
<defs><clipPath id="dc"><rect x="69" y="485.3" width="270.7" height="250.7"/></clipPath><mask id="dm"><rect x="0" y="0" width="675" height="796" fill="#fff"/><circle cx="217.6" cy="576.2" r="5" fill="#000"/></mask></defs>
<g clip-path="url(#dc)" mask="url(#dm)" fill="none" stroke="#363636" stroke-width="1.9" stroke-dasharray="4.6 3.4">
<path d="M67.8,595.1C83,595 98.1,595.1 113.3,594.7C128.8,594.3 148.8,593.4 160,592.6C166.3,592.1 169.9,591.7 174.8,591.1C179.7,590.5 185.1,589.7 189.6,588.9C193.4,588.2 196.7,587.7 200,586.7C203.1,585.7 206,584.2 208.9,583C211.6,581.9 214.3,581.2 216.9,579.7C219.8,578.1 221.9,576 225.3,573.6C230.2,570.1 237.7,565.2 243.9,560.7C250.4,556.1 257.6,550.5 263.5,546.4C268.3,543.1 272.8,540.2 276.8,537.6C280.2,535.5 282.4,534.2 286.1,531.9C291.7,528.5 300.3,523.3 307.5,519C314.6,514.7 322.9,509.8 329,506.1C333.5,503.4 336.9,501.5 340.9,499.1"/>
<path d="M67.8,697.1C68.6,697.1 69.2,697.1 70.1,697C71.7,696.9 74,697 76.3,696.7C79.4,696.3 82.7,695.7 86.7,694.4C92.5,692.5 100.8,689.1 107.4,685C114.6,680.6 121.4,674.2 128.2,668.4C135.2,662.5 142.1,656 149,649.8C155.9,643.6 162.6,636.9 169.6,631.1C176.4,625.5 184.8,619.1 190.4,615.6C193.9,613.4 196.5,612.5 199.3,611.1C201.9,609.8 204.1,608.5 206.6,607.5C209.3,606.4 212.2,605.5 215,604.7C217.6,603.9 220.1,603.1 222.7,602.6C225.3,602.1 227.9,601.9 230.4,601.6C233,601.2 235.5,600.8 238.2,600.5C240.9,600.2 243.8,599.9 246.5,599.7C249.1,599.4 250.9,599.3 254.2,599C260.4,598.6 269.7,598.1 280.2,597.6C296.2,596.9 320.6,596.1 340.9,595.3"/>
<path d="M67.8,737.3C68.6,737.1 69,736.9 70.1,736.5C72.9,735.4 79.9,733 84.7,730.8C89.6,728.5 94.3,725.2 99.2,723C104,720.9 108.8,719.3 113.7,717.9C118.5,716.5 124.3,715.5 128.2,714.7C130.9,714.1 132,713.9 135,713.4C140.8,712.5 151.2,711 160.1,710.2C170.1,709.3 179.2,709.3 192.2,708.7C212.5,707.8 249.8,706.4 270,705.6C283,705.1 291.2,704.9 302,704.3C313.2,703.7 330,702.3 336.1,701.9C338.4,701.7 339.3,701.7 340.9,701.6"/>
</g>
<g fill="#ff0000" stroke="none">
<path d="M200.9,586.5 l3.8,6.6 h-2.3 V599.8 h2.3 l-3.8,6.6 l-3.8,-6.6 h2.3 V593.1 h-2.3 z"/>
<path d="M112.1,686.5 l4.4,7.5 h-2.7 V708.3 h2.7 l-4.4,7.5 l-4.4,-7.5 h2.7 V694 h-2.7 z"/>
</g>
<circle cx="217.6" cy="576.2" r="6.3" fill="none" stroke="#ff0000" stroke-width="2.6" stroke-dasharray="2.4 2.0" stroke-dashoffset="3.04"/>
<path d="M310.6,555 L301.8,541.5" stroke="#ff0000" stroke-width="2.6" />
<path d="M298.2,534.3 L309.6,541.6 L302.3,542.6 L298.8,547.6Z" fill="#ff0000"/>
<g stroke="#000" stroke-width="2.3" fill="none">
<rect x="67.8" y="484.1" width="273" height="253.1"/>
<path d="M98.2,484.1 v6 M98.2,737.2 v-6 M219.5,484.1 v6 M219.5,737.2 v-6 M158.9,484.1 v3.5 M158.9,737.2 v-3.5 M280.2,484.1 v3.5 M280.2,737.2 v-3.5 M67.8,568.5 h6 M340.9,568.5 h-6 M67.8,652.9 h6 M340.9,652.9 h-6 M67.8,526.3 h3.5 M340.9,526.3 h-3.5 M67.8,610.7 h3.5 M340.9,610.7 h-3.5 M67.8,695.1 h3.5 M340.9,695.1 h-3.5"/>
</g>
<defs><linearGradient id="cb" x1="0" y1="1" x2="0" y2="0"><stop offset="0" stop-color="#ff0000"/><stop offset=".25" stop-color="#ffff00"/><stop offset=".5" stop-color="#00ff00"/><stop offset=".75" stop-color="#00ffff"/><stop offset="1" stop-color="#0000ff"/></linearGradient></defs>
<rect x="363.1" y="546" width="15.1" height="151.8" fill="url(#cb)"/>
<text id="a_lab" x="0.77" y="24.50" font-size="27.00" font-weight="bold" textLength="24.09" lengthAdjust="spacingAndGlyphs">a)</text>
<text id="b_lab" x="0.21" y="241.60" font-size="26.00" font-weight="bold" textLength="26.49" lengthAdjust="spacingAndGlyphs">b)</text>
<text id="c_lab" x="384.11" y="24.70" font-size="26.00" font-weight="bold" textLength="24.52" lengthAdjust="spacingAndGlyphs">c)</text>
<text id="d_lab" x="-0.52" y="496.70" font-size="26.00" font-weight="bold" textLength="26.63" lengthAdjust="spacingAndGlyphs">d)</text>
<text id="eot_s" x="6.85" y="95.40" font-size="21.70" textLength="135.73" lengthAdjust="spacingAndGlyphs">EOT structure</text>
<text id="asrr_a" x="250.40" y="18.90" font-size="22.00" textLength="57.89" lengthAdjust="spacingAndGlyphs">aSRR</text>
<text id="arm1" x="171.90" y="60.10" font-size="21.50" textLength="47.54" lengthAdjust="spacingAndGlyphs">Arm<tspan font-size="16">1</tspan></text>
<text id="arm2" x="300.40" y="59.00" font-size="21.50" textLength="49.36" lengthAdjust="spacingAndGlyphs">Arm<tspan font-size="16">2</tspan></text>
<text id="b_10" x="45.63" y="249.10" font-size="22.00" textLength="29.67" lengthAdjust="spacingAndGlyphs">1.0</text>
<text id="b_05" x="44.46" y="343.90" font-size="22.00" textLength="30.86" lengthAdjust="spacingAndGlyphs">0.5</text>
<text id="b_00" x="45.31" y="439.20" font-size="22.14" textLength="29.98" lengthAdjust="spacingAndGlyphs">0.0</text>
<text id="b_x3" x="73.05" y="453.30" font-size="21.71" textLength="11.35" lengthAdjust="spacingAndGlyphs">3</text>
<text id="b_x5" x="160.04" y="453.20" font-size="21.29" textLength="12.66" lengthAdjust="spacingAndGlyphs">5</text>
<text id="b_x7" x="248.34" y="453.50" font-size="22.00" textLength="11.24" lengthAdjust="spacingAndGlyphs">7</text>
<text id="b_x9" x="334.84" y="453.40" font-size="20.00" textLength="12.93" lengthAdjust="spacingAndGlyphs">9</text>
<text id="b_xt" x="137.00" y="474.30" font-size="21.00" textLength="163.37" lengthAdjust="spacingAndGlyphs">Wavelength (μm)</text>
<text id="b_yt" transform="translate(39.80,430.39) rotate(-90)" font-size="21.70" textLength="182.58" lengthAdjust="spacingAndGlyphs">Transmission (a.u.)</text>
<text id="leg_eot" x="277.88" y="266.70" font-size="20.00" textLength="43.04" lengthAdjust="spacingAndGlyphs">EOT</text>
<text id="leg_asrr" x="277.91" y="293.70" font-size="21.86" textLength="58.40" lengthAdjust="spacingAndGlyphs">aSRR</text>
<text id="F3" x="113.64" y="412.70" font-size="21.47" textLength="26.15" lengthAdjust="spacingAndGlyphs">F3</text>
<text id="F2" x="179.34" y="422.90" font-size="21.00" textLength="26.20" lengthAdjust="spacingAndGlyphs">F2</text>
<text id="F1" x="232.64" y="416.60" font-size="21.00" textLength="22.29" lengthAdjust="spacingAndGlyphs">F1</text>
<text id="c_04" x="632.80" y="76.70" font-size="20.00" textLength="27.43" lengthAdjust="spacingAndGlyphs">0.4</text>
<text id="c_06" x="632.81" y="164.40" font-size="20.00" textLength="27.43" lengthAdjust="spacingAndGlyphs">0.6</text>
<text id="c_08" x="632.81" y="253.20" font-size="20.00" textLength="27.43" lengthAdjust="spacingAndGlyphs">0.8</text>
<text id="c_10" x="633.70" y="344.40" font-size="20.00" textLength="26.30" lengthAdjust="spacingAndGlyphs">1.0</text>
<text id="c_12" x="633.63" y="431.50" font-size="20.00" textLength="27.39" lengthAdjust="spacingAndGlyphs">1.2</text>
<text id="c_14" x="633.70" y="524.30" font-size="20.00" textLength="26.30" lengthAdjust="spacingAndGlyphs">1.4</text>
<text id="c_16" x="633.64" y="613.10" font-size="20.00" textLength="27.39" lengthAdjust="spacingAndGlyphs">1.6</text>
<text id="c_18" x="633.64" y="701.40" font-size="20.00" textLength="27.39" lengthAdjust="spacingAndGlyphs">1.8</text>
<text id="c_x3" x="420.04" y="764.20" font-size="21.50" textLength="12.85" lengthAdjust="spacingAndGlyphs">3</text>
<text id="c_x6" x="539.12" y="764.20" font-size="21.50" textLength="12.52" lengthAdjust="spacingAndGlyphs">6</text>
<text id="c_x9" x="659.73" y="764.20" font-size="21.50" textLength="12.52" lengthAdjust="spacingAndGlyphs">9</text>
<text id="c_xt" x="466.20" y="787.90" font-size="22.00" textLength="171.17" lengthAdjust="spacingAndGlyphs">Wavelength (μm)</text>
<text id="c_yt" transform="translate(407.30,506.76) rotate(-90)" font-size="22.30" textLength="200.90" lengthAdjust="spacingAndGlyphs">Transmission (a.u.)</text>
<text id="d_y9" x="46.42" y="491.70" font-size="23.52" textLength="14.48" lengthAdjust="spacingAndGlyphs">9</text>
<text id="d_y7" x="48.07" y="576.40" font-size="23.00" textLength="13.38" lengthAdjust="spacingAndGlyphs">7</text>
<text id="d_y5" x="47.10" y="661.20" font-size="23.00" textLength="13.38" lengthAdjust="spacingAndGlyphs">5</text>
<text id="d_y3" x="47.32" y="745.50" font-size="23.00" textLength="13.18" lengthAdjust="spacingAndGlyphs">3</text>
<text id="d_x04" x="81.09" y="763.20" font-size="22.00" textLength="33.38" lengthAdjust="spacingAndGlyphs">0.4</text>
<text id="d_x12" x="203.05" y="763.20" font-size="22.00" textLength="32.44" lengthAdjust="spacingAndGlyphs">1.2</text>
<text id="d_x20" x="323.68" y="763.10" font-size="22.00" textLength="33.59" lengthAdjust="spacingAndGlyphs">2.0</text>
<text id="d_xt" x="96.48" y="788.60" font-size="22.70" textLength="211.28" lengthAdjust="spacingAndGlyphs">Height of Arm<tspan font-size="15.5">2</tspan> (μm)</text>
<text id="d_yt" transform="translate(25.10,700.61) rotate(-90)" font-size="23.70" textLength="181.47" lengthAdjust="spacingAndGlyphs">Wavelength (μm)</text>
<text id="cb_hi" x="349.16" y="537.30" font-size="20.17" textLength="38.07" lengthAdjust="spacingAndGlyphs">0.53</text>
<text id="cb_lo" x="364.79" y="719.40" font-size="19.00" textLength="10.43" lengthAdjust="spacingAndGlyphs">0</text>
</svg>
</body></html>
